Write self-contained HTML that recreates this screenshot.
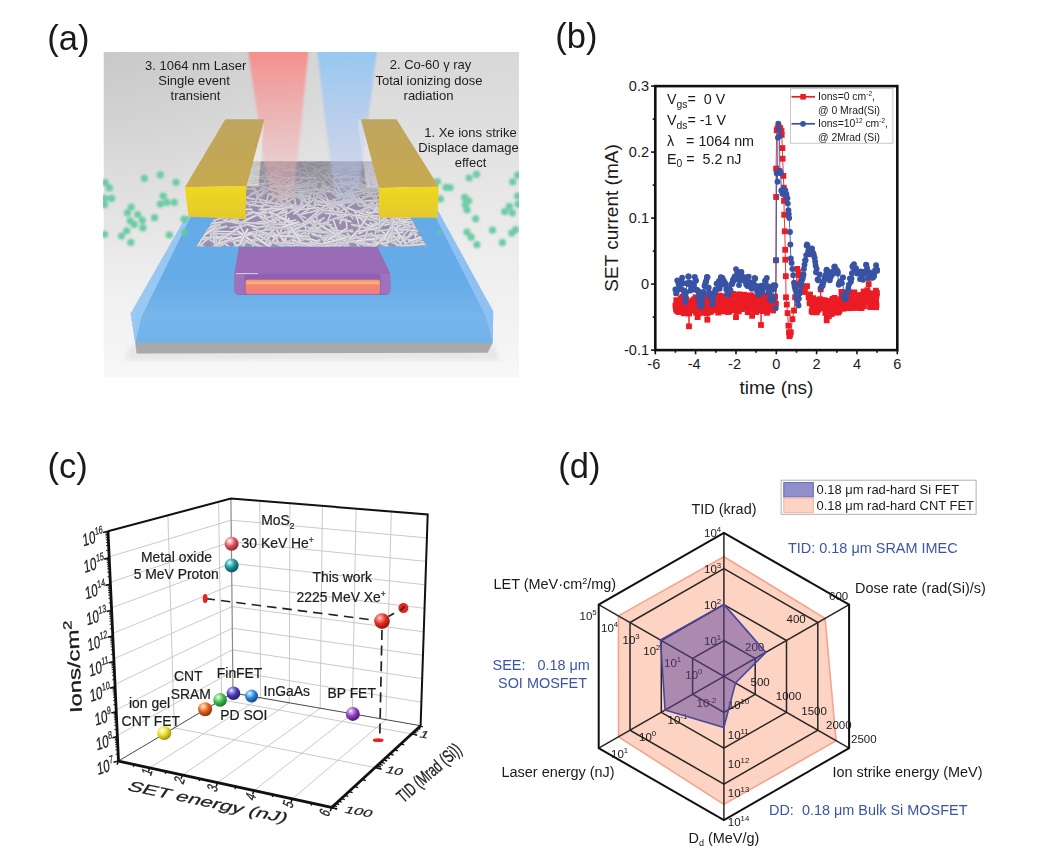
<!DOCTYPE html>
<html><head><meta charset="utf-8"><title>figure</title>
<style>
html,body{margin:0;padding:0;background:#fff;}
body{width:1062px;height:862px;overflow:hidden;font-family:"Liberation Sans",sans-serif;}
svg{display:block;}
text{font-family:"Liberation Sans",sans-serif;}
svg{fill:#1a1a1a;}
.bl text{fill:#3b55a6;}
</style></head><body>
<svg width="1062" height="862" viewBox="0 0 1062 862">
<rect width="1062" height="862" fill="#ffffff"/>
<g id="panela">
<defs>
<linearGradient id="abg" x1="0" y1="0" x2="0" y2="1">
<stop offset="0" stop-color="#d8d8d8"/><stop offset="0.2" stop-color="#dedede"/><stop offset="0.4" stop-color="#e6e6e6"/><stop offset="0.65" stop-color="#eeeeee"/><stop offset="1" stop-color="#f7f7f7"/>
</linearGradient>
<radialGradient id="abg2" gradientUnits="userSpaceOnUse" cx="103" cy="40" r="260">
<stop offset="0" stop-color="#000" stop-opacity="0.075"/><stop offset="0.5" stop-color="#000" stop-opacity="0.04"/><stop offset="1" stop-color="#000" stop-opacity="0"/>
</radialGradient>
<linearGradient id="ared" x1="0" y1="0" x2="0" y2="1">
<stop offset="0" stop-color="#f98686" stop-opacity="0.92"/><stop offset="0.3" stop-color="#f89696" stop-opacity="0.7"/><stop offset="0.6" stop-color="#f8a8a8" stop-opacity="0.5"/><stop offset="0.8" stop-color="#f6b4b4" stop-opacity="0.4"/><stop offset="1" stop-color="#f0b0b0" stop-opacity="0.15"/>
</linearGradient>
<linearGradient id="ablue" x1="0" y1="0" x2="0" y2="1">
<stop offset="0" stop-color="#93c6f2" stop-opacity="0.95"/><stop offset="0.3" stop-color="#a2c8f2" stop-opacity="0.8"/><stop offset="0.6" stop-color="#b0c8f2" stop-opacity="0.6"/><stop offset="0.8" stop-color="#b8c8f0" stop-opacity="0.45"/><stop offset="1" stop-color="#b8c4ee" stop-opacity="0.15"/>
</linearGradient>
<linearGradient id="agoldtop" x1="0" y1="0" x2="0" y2="1">
<stop offset="0" stop-color="#bea560"/><stop offset="1" stop-color="#c8a94e"/>
</linearGradient>
<linearGradient id="agoldfront" x1="0" y1="0" x2="0" y2="1">
<stop offset="0" stop-color="#efd820"/><stop offset="1" stop-color="#e4c92e"/>
</linearGradient>
<linearGradient id="asub" x1="0" y1="0" x2="0" y2="1">
<stop offset="0" stop-color="#64aae8"/><stop offset="0.55" stop-color="#66ace8"/><stop offset="0.8" stop-color="#76b5ea"/><stop offset="1" stop-color="#72b2e8"/>
</linearGradient>
<linearGradient id="afront" x1="0" y1="0" x2="0" y2="1"><stop offset="0" stop-color="#74b8ee" stop-opacity="0"/><stop offset="0.45" stop-color="#74b8ee" stop-opacity="0.15"/><stop offset="1" stop-color="#6ab0ea" stop-opacity="0.1"/></linearGradient>
<linearGradient id="agate" x1="0" y1="0" x2="0" y2="1">
<stop offset="0" stop-color="#9c6fb8"/><stop offset="0.55" stop-color="#9868b6"/><stop offset="0.6" stop-color="#9060b0"/><stop offset="1" stop-color="#8e5cb0"/>
</linearGradient>
<linearGradient id="abar" x1="0" y1="0" x2="0" y2="1">
<stop offset="0" stop-color="#f9a070"/><stop offset="0.3" stop-color="#f58a60"/><stop offset="1" stop-color="#f27a8c"/>
</linearGradient>
<linearGradient id="ahaze" x1="0" y1="0" x2="0" y2="1"><stop offset="0" stop-color="#8c8c92" stop-opacity="0.9"/><stop offset="0.5" stop-color="#939398" stop-opacity="0.5"/><stop offset="1" stop-color="#9c9aa2" stop-opacity="0"/></linearGradient>
<radialGradient id="adot" cx="0.45" cy="0.4" r="0.6">
<stop offset="0" stop-color="#58c49a"/><stop offset="0.5" stop-color="#6dcca6"/><stop offset="1" stop-color="#bfe9d9" stop-opacity="0.6"/>
</radialGradient>
<filter id="ablur" x="-5%" y="-5%" width="110%" height="110%"><feGaussianBlur stdDeviation="0.55"/></filter>
<filter id="ablur2" x="-10%" y="-10%" width="120%" height="120%"><feGaussianBlur stdDeviation="2.2"/></filter>
<filter id="ablur3" x="-10%" y="-5%" width="120%" height="110%"><feGaussianBlur stdDeviation="1.3"/></filter>
<filter id="ablur4" x="-5%" y="-10%" width="110%" height="120%"><feGaussianBlur stdDeviation="0.9"/></filter>
<clipPath id="aclip"><rect x="103.5" y="52" width="415.5" height="325.5"/></clipPath>
<clipPath id="afilm"><polygon points="251,161.4 379,161.4 426.5,246.3 196.5,246.3"/></clipPath>
</defs>
<g clip-path="url(#aclip)">
<rect x="103.5" y="52" width="415.5" height="325.5" fill="url(#abg)"/>
<rect x="103.5" y="52" width="415.5" height="325.5" fill="url(#abg2)"/>
<g filter="url(#ablur)">
<polygon points="130,345 494,345 500,360 125,360" fill="#ccc" opacity="0.35" filter="url(#ablur2)"/>
<polygon points="186.5,216.0 438.0,211.0 493.2,311.5 492.7,343.0 135.3,343.0 130.6,313.7" fill="url(#asub)"/>
<polygon points="186.5,216.0 130.6,313.7 135.3,343.0 141.5,317.0 191.0,216.0" fill="#a5cff4" opacity="0.8"/>
<polygon points="438.0,211.0 493.2,311.5 492.7,343.0 486.0,317.0 432.5,211.0" fill="#98c6f2" opacity="0.8"/>
<polygon points="135.3,300.0 492.7,300.0 492.7,343.0 135.3,343.0" fill="url(#afront)"/>
<polygon points="135.3,343.0 492.7,343.0 487.6,352.8 136.5,353.6" fill="#a9a9a9"/>
<path d="M239,247 L377.5,247 L389.5,272 Q390.5,274 390.5,277 L390.5,290 Q390.5,294.8 385.5,294.8 L239,294.8 Q234,294.8 234,290 L234,277 Q234,274 234.6,272 Z" fill="url(#agate)"/>
<path d="M239,247 L377.5,247 L389,272.5 L235,272.5 Z" fill="#9a6cb6"/>
<path d="M236,273.6 L258,273.6" stroke="#e8d8f4" stroke-width="1" opacity="0.9"/><rect x="234" y="274" width="10.5" height="20" fill="#b08ccc" opacity="0.45"/><rect x="380.5" y="274" width="10" height="20" fill="#b08ccc" opacity="0.45"/>
<rect x="245.5" y="279.8" width="134.5" height="14.2" rx="2" fill="url(#abar)"/>
<rect x="246.5" y="281.8" width="132.5" height="2.4" fill="#fbb890" opacity="0.8"/>
<g clip-path="url(#afilm)">
<rect x="190" y="158" width="245" height="92" fill="#9a8cae"/>
<line x1="317.4" y1="175.3" x2="325.4" y2="184.5" stroke="#b6b4c0" stroke-width="1.38" stroke-linecap="round"/>
<line x1="317.4" y1="175.1" x2="325.4" y2="184.4" stroke="#e0dfe5" stroke-width="0.85" stroke-linecap="round"/>
<line x1="394.4" y1="206.8" x2="397.1" y2="220.6" stroke="#b6b4c0" stroke-width="1.61" stroke-linecap="round"/>
<line x1="394.4" y1="206.6" x2="397.1" y2="220.4" stroke="#e7e6eb" stroke-width="1.00" stroke-linecap="round"/>
<line x1="375.6" y1="194.6" x2="377.5" y2="207.9" stroke="#b6b4c0" stroke-width="1.40" stroke-linecap="round"/>
<line x1="375.6" y1="194.5" x2="377.5" y2="207.7" stroke="#e7e6eb" stroke-width="0.87" stroke-linecap="round"/>
<line x1="378.1" y1="169.9" x2="381.1" y2="174.0" stroke="#b6b4c0" stroke-width="1.31" stroke-linecap="round"/>
<line x1="378.1" y1="169.7" x2="381.1" y2="173.8" stroke="#e0dfe5" stroke-width="0.82" stroke-linecap="round"/>
<line x1="327.5" y1="224.5" x2="337.0" y2="231.0" stroke="#b6b4c0" stroke-width="2.46" stroke-linecap="round"/>
<line x1="327.5" y1="224.2" x2="337.0" y2="230.8" stroke="#d9d8de" stroke-width="1.52" stroke-linecap="round"/>
<line x1="391.8" y1="204.9" x2="403.4" y2="220.6" stroke="#b6b4c0" stroke-width="1.79" stroke-linecap="round"/>
<line x1="391.8" y1="204.7" x2="403.4" y2="220.3" stroke="#e7e6eb" stroke-width="1.11" stroke-linecap="round"/>
<line x1="320.2" y1="229.6" x2="279.2" y2="233.8" stroke="#b6b4c0" stroke-width="1.77" stroke-linecap="round"/>
<line x1="320.2" y1="229.4" x2="279.2" y2="233.6" stroke="#e0dfe5" stroke-width="1.10" stroke-linecap="round"/>
<line x1="275.0" y1="197.0" x2="259.3" y2="210.0" stroke="#b6b4c0" stroke-width="1.97" stroke-linecap="round"/>
<line x1="275.0" y1="196.8" x2="259.3" y2="209.8" stroke="#d9d8de" stroke-width="1.22" stroke-linecap="round"/>
<line x1="285.4" y1="198.8" x2="297.2" y2="210.5" stroke="#b6b4c0" stroke-width="1.78" stroke-linecap="round"/>
<line x1="285.4" y1="198.6" x2="297.2" y2="210.3" stroke="#d9d8de" stroke-width="1.11" stroke-linecap="round"/>
<line x1="421.8" y1="216.2" x2="384.6" y2="225.2" stroke="#b6b4c0" stroke-width="2.14" stroke-linecap="round"/>
<line x1="421.8" y1="216.0" x2="384.6" y2="225.0" stroke="#e0dfe5" stroke-width="1.33" stroke-linecap="round"/>
<line x1="277.5" y1="214.7" x2="273.5" y2="229.8" stroke="#b6b4c0" stroke-width="1.65" stroke-linecap="round"/>
<line x1="277.5" y1="214.6" x2="273.5" y2="229.6" stroke="#e7e6eb" stroke-width="1.02" stroke-linecap="round"/>
<line x1="368.8" y1="174.0" x2="365.5" y2="180.8" stroke="#b6b4c0" stroke-width="1.01" stroke-linecap="round"/>
<line x1="368.8" y1="173.9" x2="365.5" y2="180.7" stroke="#e7e6eb" stroke-width="0.63" stroke-linecap="round"/>
<line x1="223.3" y1="244.4" x2="197.6" y2="253.7" stroke="#b6b4c0" stroke-width="2.07" stroke-linecap="round"/>
<line x1="223.3" y1="244.2" x2="197.6" y2="253.5" stroke="#d9d8de" stroke-width="1.29" stroke-linecap="round"/>
<line x1="286.5" y1="195.0" x2="309.5" y2="199.6" stroke="#b6b4c0" stroke-width="1.78" stroke-linecap="round"/>
<line x1="286.5" y1="194.8" x2="309.5" y2="199.3" stroke="#d9d8de" stroke-width="1.11" stroke-linecap="round"/>
<line x1="295.7" y1="220.2" x2="256.4" y2="228.0" stroke="#b6b4c0" stroke-width="2.05" stroke-linecap="round"/>
<line x1="295.7" y1="220.0" x2="256.4" y2="227.7" stroke="#e0dfe5" stroke-width="1.27" stroke-linecap="round"/>
<line x1="243.7" y1="183.9" x2="240.3" y2="189.1" stroke="#b6b4c0" stroke-width="1.22" stroke-linecap="round"/>
<line x1="243.7" y1="183.8" x2="240.3" y2="188.9" stroke="#d9d8de" stroke-width="0.76" stroke-linecap="round"/>
<line x1="282.3" y1="178.9" x2="266.2" y2="190.7" stroke="#b6b4c0" stroke-width="1.28" stroke-linecap="round"/>
<line x1="282.3" y1="178.8" x2="266.2" y2="190.6" stroke="#d9d8de" stroke-width="0.80" stroke-linecap="round"/>
<line x1="401.3" y1="238.6" x2="413.5" y2="253.8" stroke="#b6b4c0" stroke-width="2.44" stroke-linecap="round"/>
<line x1="401.3" y1="238.3" x2="413.5" y2="253.5" stroke="#e7e6eb" stroke-width="1.51" stroke-linecap="round"/>
<line x1="331.6" y1="234.0" x2="375.9" y2="241.4" stroke="#b6b4c0" stroke-width="2.60" stroke-linecap="round"/>
<line x1="331.6" y1="233.7" x2="375.9" y2="241.1" stroke="#d9d8de" stroke-width="1.61" stroke-linecap="round"/>
<line x1="347.3" y1="194.6" x2="360.6" y2="200.8" stroke="#b6b4c0" stroke-width="1.95" stroke-linecap="round"/>
<line x1="347.3" y1="194.3" x2="360.6" y2="200.5" stroke="#e7e6eb" stroke-width="1.21" stroke-linecap="round"/>
<line x1="298.1" y1="181.4" x2="275.3" y2="190.4" stroke="#b6b4c0" stroke-width="1.28" stroke-linecap="round"/>
<line x1="298.1" y1="181.2" x2="275.3" y2="190.2" stroke="#d9d8de" stroke-width="0.80" stroke-linecap="round"/>
<line x1="325.1" y1="213.3" x2="354.4" y2="216.1" stroke="#b6b4c0" stroke-width="1.86" stroke-linecap="round"/>
<line x1="325.1" y1="213.0" x2="354.4" y2="215.8" stroke="#e7e6eb" stroke-width="1.15" stroke-linecap="round"/>
<line x1="327.0" y1="236.1" x2="348.0" y2="248.7" stroke="#b6b4c0" stroke-width="2.45" stroke-linecap="round"/>
<line x1="327.0" y1="235.8" x2="348.0" y2="248.4" stroke="#e7e6eb" stroke-width="1.52" stroke-linecap="round"/>
<line x1="298.9" y1="157.4" x2="294.5" y2="162.5" stroke="#b6b4c0" stroke-width="1.04" stroke-linecap="round"/>
<line x1="298.9" y1="157.2" x2="294.5" y2="162.4" stroke="#e0dfe5" stroke-width="0.64" stroke-linecap="round"/>
<line x1="276.2" y1="186.2" x2="285.4" y2="196.8" stroke="#b6b4c0" stroke-width="1.36" stroke-linecap="round"/>
<line x1="276.2" y1="186.0" x2="285.4" y2="196.6" stroke="#d9d8de" stroke-width="0.84" stroke-linecap="round"/>
<line x1="370.0" y1="167.2" x2="351.9" y2="168.1" stroke="#b6b4c0" stroke-width="0.91" stroke-linecap="round"/>
<line x1="370.0" y1="167.1" x2="351.9" y2="167.9" stroke="#e7e6eb" stroke-width="0.57" stroke-linecap="round"/>
<line x1="358.5" y1="176.3" x2="367.6" y2="180.6" stroke="#b6b4c0" stroke-width="1.24" stroke-linecap="round"/>
<line x1="358.5" y1="176.2" x2="367.6" y2="180.5" stroke="#e7e6eb" stroke-width="0.77" stroke-linecap="round"/>
<line x1="338.3" y1="166.2" x2="320.7" y2="167.6" stroke="#b6b4c0" stroke-width="0.95" stroke-linecap="round"/>
<line x1="338.3" y1="166.1" x2="320.7" y2="167.5" stroke="#e0dfe5" stroke-width="0.59" stroke-linecap="round"/>
<line x1="343.7" y1="162.8" x2="356.0" y2="167.9" stroke="#b6b4c0" stroke-width="0.95" stroke-linecap="round"/>
<line x1="343.7" y1="162.7" x2="356.0" y2="167.8" stroke="#e0dfe5" stroke-width="0.59" stroke-linecap="round"/>
<line x1="374.0" y1="157.3" x2="384.1" y2="165.0" stroke="#b6b4c0" stroke-width="1.02" stroke-linecap="round"/>
<line x1="374.0" y1="157.1" x2="384.1" y2="164.9" stroke="#d9d8de" stroke-width="0.63" stroke-linecap="round"/>
<line x1="359.7" y1="187.8" x2="381.8" y2="190.8" stroke="#b6b4c0" stroke-width="1.52" stroke-linecap="round"/>
<line x1="359.7" y1="187.6" x2="381.8" y2="190.6" stroke="#d9d8de" stroke-width="0.94" stroke-linecap="round"/>
<line x1="358.0" y1="181.7" x2="368.9" y2="188.0" stroke="#b6b4c0" stroke-width="1.33" stroke-linecap="round"/>
<line x1="358.0" y1="181.6" x2="368.9" y2="187.8" stroke="#d9d8de" stroke-width="0.83" stroke-linecap="round"/>
<line x1="218.3" y1="205.9" x2="223.2" y2="214.6" stroke="#b6b4c0" stroke-width="1.79" stroke-linecap="round"/>
<line x1="218.3" y1="205.7" x2="223.2" y2="214.4" stroke="#e7e6eb" stroke-width="1.11" stroke-linecap="round"/>
<line x1="319.5" y1="246.9" x2="271.1" y2="250.7" stroke="#b6b4c0" stroke-width="2.15" stroke-linecap="round"/>
<line x1="319.5" y1="246.6" x2="271.1" y2="250.4" stroke="#e7e6eb" stroke-width="1.33" stroke-linecap="round"/>
<line x1="372.4" y1="194.1" x2="348.9" y2="206.0" stroke="#b6b4c0" stroke-width="1.67" stroke-linecap="round"/>
<line x1="372.4" y1="193.9" x2="348.9" y2="205.8" stroke="#e0dfe5" stroke-width="1.04" stroke-linecap="round"/>
<line x1="404.6" y1="236.8" x2="384.5" y2="237.7" stroke="#b6b4c0" stroke-width="2.00" stroke-linecap="round"/>
<line x1="404.6" y1="236.6" x2="384.5" y2="237.5" stroke="#e0dfe5" stroke-width="1.24" stroke-linecap="round"/>
<line x1="379.5" y1="238.4" x2="335.3" y2="243.8" stroke="#b6b4c0" stroke-width="2.75" stroke-linecap="round"/>
<line x1="379.5" y1="238.1" x2="335.3" y2="243.5" stroke="#e7e6eb" stroke-width="1.71" stroke-linecap="round"/>
<line x1="305.6" y1="161.2" x2="318.9" y2="163.9" stroke="#b6b4c0" stroke-width="0.89" stroke-linecap="round"/>
<line x1="305.6" y1="161.1" x2="318.9" y2="163.8" stroke="#e0dfe5" stroke-width="0.55" stroke-linecap="round"/>
<line x1="309.8" y1="205.0" x2="283.0" y2="207.6" stroke="#b6b4c0" stroke-width="1.62" stroke-linecap="round"/>
<line x1="309.8" y1="204.8" x2="283.0" y2="207.4" stroke="#d9d8de" stroke-width="1.00" stroke-linecap="round"/>
<line x1="329.6" y1="244.7" x2="313.2" y2="250.2" stroke="#b6b4c0" stroke-width="2.13" stroke-linecap="round"/>
<line x1="329.6" y1="244.4" x2="313.2" y2="249.9" stroke="#e0dfe5" stroke-width="1.32" stroke-linecap="round"/>
<line x1="361.2" y1="203.1" x2="388.5" y2="211.3" stroke="#b6b4c0" stroke-width="2.10" stroke-linecap="round"/>
<line x1="361.2" y1="202.9" x2="388.5" y2="211.0" stroke="#e0dfe5" stroke-width="1.30" stroke-linecap="round"/>
<line x1="208.6" y1="224.1" x2="192.0" y2="243.4" stroke="#b6b4c0" stroke-width="1.76" stroke-linecap="round"/>
<line x1="208.6" y1="223.9" x2="192.0" y2="243.2" stroke="#d9d8de" stroke-width="1.09" stroke-linecap="round"/>
<line x1="333.8" y1="178.2" x2="333.2" y2="183.5" stroke="#b6b4c0" stroke-width="1.21" stroke-linecap="round"/>
<line x1="333.8" y1="178.1" x2="333.2" y2="183.3" stroke="#e0dfe5" stroke-width="0.75" stroke-linecap="round"/>
<line x1="366.5" y1="236.2" x2="384.2" y2="237.5" stroke="#b6b4c0" stroke-width="2.24" stroke-linecap="round"/>
<line x1="366.5" y1="235.9" x2="384.2" y2="237.2" stroke="#e0dfe5" stroke-width="1.39" stroke-linecap="round"/>
<line x1="216.7" y1="230.1" x2="216.5" y2="243.1" stroke="#b6b4c0" stroke-width="2.07" stroke-linecap="round"/>
<line x1="216.7" y1="229.8" x2="216.5" y2="242.9" stroke="#d9d8de" stroke-width="1.28" stroke-linecap="round"/>
<line x1="289.2" y1="190.1" x2="298.8" y2="196.9" stroke="#b6b4c0" stroke-width="1.87" stroke-linecap="round"/>
<line x1="289.2" y1="189.9" x2="298.8" y2="196.7" stroke="#d9d8de" stroke-width="1.16" stroke-linecap="round"/>
<line x1="327.4" y1="166.7" x2="318.6" y2="172.1" stroke="#b6b4c0" stroke-width="0.91" stroke-linecap="round"/>
<line x1="327.4" y1="166.6" x2="318.6" y2="172.0" stroke="#e0dfe5" stroke-width="0.56" stroke-linecap="round"/>
<line x1="312.8" y1="158.7" x2="306.1" y2="165.2" stroke="#b6b4c0" stroke-width="1.06" stroke-linecap="round"/>
<line x1="312.8" y1="158.6" x2="306.1" y2="165.1" stroke="#e0dfe5" stroke-width="0.66" stroke-linecap="round"/>
<line x1="293.6" y1="209.2" x2="304.0" y2="221.4" stroke="#b6b4c0" stroke-width="2.07" stroke-linecap="round"/>
<line x1="293.6" y1="208.9" x2="304.0" y2="221.2" stroke="#d9d8de" stroke-width="1.28" stroke-linecap="round"/>
<line x1="279.6" y1="245.1" x2="304.2" y2="245.8" stroke="#b6b4c0" stroke-width="2.15" stroke-linecap="round"/>
<line x1="279.6" y1="244.8" x2="304.2" y2="245.5" stroke="#e7e6eb" stroke-width="1.33" stroke-linecap="round"/>
<line x1="301.7" y1="159.7" x2="306.4" y2="169.5" stroke="#b6b4c0" stroke-width="1.25" stroke-linecap="round"/>
<line x1="301.7" y1="159.5" x2="306.4" y2="169.3" stroke="#d9d8de" stroke-width="0.78" stroke-linecap="round"/>
<line x1="335.8" y1="245.0" x2="315.8" y2="249.3" stroke="#b6b4c0" stroke-width="2.64" stroke-linecap="round"/>
<line x1="335.8" y1="244.7" x2="315.8" y2="249.0" stroke="#e7e6eb" stroke-width="1.64" stroke-linecap="round"/>
<line x1="406.3" y1="214.1" x2="380.9" y2="223.8" stroke="#b6b4c0" stroke-width="2.17" stroke-linecap="round"/>
<line x1="406.3" y1="213.8" x2="380.9" y2="223.5" stroke="#e7e6eb" stroke-width="1.34" stroke-linecap="round"/>
<line x1="381.4" y1="202.3" x2="366.2" y2="211.6" stroke="#b6b4c0" stroke-width="1.55" stroke-linecap="round"/>
<line x1="381.4" y1="202.1" x2="366.2" y2="211.4" stroke="#d9d8de" stroke-width="0.96" stroke-linecap="round"/>
<line x1="248.3" y1="160.6" x2="266.7" y2="163.6" stroke="#b6b4c0" stroke-width="0.86" stroke-linecap="round"/>
<line x1="248.3" y1="160.5" x2="266.7" y2="163.5" stroke="#e0dfe5" stroke-width="0.53" stroke-linecap="round"/>
<line x1="368.6" y1="189.2" x2="381.5" y2="189.7" stroke="#b6b4c0" stroke-width="1.45" stroke-linecap="round"/>
<line x1="368.6" y1="189.0" x2="381.5" y2="189.5" stroke="#e7e6eb" stroke-width="0.90" stroke-linecap="round"/>
<line x1="338.1" y1="242.9" x2="323.1" y2="248.4" stroke="#b6b4c0" stroke-width="2.70" stroke-linecap="round"/>
<line x1="338.1" y1="242.5" x2="323.1" y2="248.1" stroke="#e7e6eb" stroke-width="1.67" stroke-linecap="round"/>
<line x1="263.6" y1="202.9" x2="261.0" y2="210.4" stroke="#b6b4c0" stroke-width="1.79" stroke-linecap="round"/>
<line x1="263.6" y1="202.7" x2="261.0" y2="210.2" stroke="#e7e6eb" stroke-width="1.11" stroke-linecap="round"/>
<line x1="331.4" y1="185.9" x2="318.4" y2="189.8" stroke="#b6b4c0" stroke-width="1.23" stroke-linecap="round"/>
<line x1="331.4" y1="185.7" x2="318.4" y2="189.6" stroke="#e0dfe5" stroke-width="0.76" stroke-linecap="round"/>
<line x1="359.3" y1="199.0" x2="342.0" y2="200.6" stroke="#b6b4c0" stroke-width="1.71" stroke-linecap="round"/>
<line x1="359.3" y1="198.8" x2="342.0" y2="200.4" stroke="#d9d8de" stroke-width="1.06" stroke-linecap="round"/>
<line x1="401.5" y1="204.9" x2="408.7" y2="213.6" stroke="#b6b4c0" stroke-width="2.14" stroke-linecap="round"/>
<line x1="401.5" y1="204.6" x2="408.7" y2="213.3" stroke="#e7e6eb" stroke-width="1.33" stroke-linecap="round"/>
<line x1="294.8" y1="238.0" x2="287.0" y2="256.0" stroke="#b6b4c0" stroke-width="2.90" stroke-linecap="round"/>
<line x1="294.8" y1="237.6" x2="287.0" y2="255.6" stroke="#e7e6eb" stroke-width="1.80" stroke-linecap="round"/>
<line x1="347.8" y1="201.3" x2="332.9" y2="203.7" stroke="#b6b4c0" stroke-width="1.37" stroke-linecap="round"/>
<line x1="347.8" y1="201.1" x2="332.9" y2="203.6" stroke="#e7e6eb" stroke-width="0.85" stroke-linecap="round"/>
<line x1="363.6" y1="201.5" x2="338.2" y2="203.5" stroke="#b6b4c0" stroke-width="1.95" stroke-linecap="round"/>
<line x1="363.6" y1="201.3" x2="338.2" y2="203.2" stroke="#e0dfe5" stroke-width="1.21" stroke-linecap="round"/>
<line x1="266.4" y1="178.8" x2="262.3" y2="186.4" stroke="#b6b4c0" stroke-width="1.18" stroke-linecap="round"/>
<line x1="266.4" y1="178.7" x2="262.3" y2="186.2" stroke="#e7e6eb" stroke-width="0.73" stroke-linecap="round"/>
<line x1="376.3" y1="200.3" x2="359.1" y2="214.7" stroke="#b6b4c0" stroke-width="1.84" stroke-linecap="round"/>
<line x1="376.3" y1="200.1" x2="359.1" y2="214.5" stroke="#e7e6eb" stroke-width="1.14" stroke-linecap="round"/>
<line x1="260.8" y1="209.6" x2="271.7" y2="214.0" stroke="#b6b4c0" stroke-width="1.82" stroke-linecap="round"/>
<line x1="260.8" y1="209.4" x2="271.7" y2="213.8" stroke="#d9d8de" stroke-width="1.13" stroke-linecap="round"/>
<line x1="319.1" y1="173.5" x2="331.7" y2="179.4" stroke="#b6b4c0" stroke-width="1.45" stroke-linecap="round"/>
<line x1="319.1" y1="173.3" x2="331.7" y2="179.2" stroke="#d9d8de" stroke-width="0.90" stroke-linecap="round"/>
<line x1="311.5" y1="241.2" x2="301.2" y2="257.2" stroke="#b6b4c0" stroke-width="2.84" stroke-linecap="round"/>
<line x1="311.5" y1="240.8" x2="301.2" y2="256.9" stroke="#e7e6eb" stroke-width="1.76" stroke-linecap="round"/>
<line x1="320.2" y1="202.7" x2="298.5" y2="215.8" stroke="#b6b4c0" stroke-width="1.71" stroke-linecap="round"/>
<line x1="320.2" y1="202.5" x2="298.5" y2="215.6" stroke="#e7e6eb" stroke-width="1.06" stroke-linecap="round"/>
<line x1="227.3" y1="236.0" x2="184.4" y2="242.2" stroke="#b6b4c0" stroke-width="2.45" stroke-linecap="round"/>
<line x1="227.3" y1="235.8" x2="184.4" y2="241.9" stroke="#e7e6eb" stroke-width="1.52" stroke-linecap="round"/>
<line x1="267.3" y1="160.8" x2="281.3" y2="168.0" stroke="#b6b4c0" stroke-width="1.17" stroke-linecap="round"/>
<line x1="267.3" y1="160.6" x2="281.3" y2="167.8" stroke="#e0dfe5" stroke-width="0.73" stroke-linecap="round"/>
<line x1="357.3" y1="172.7" x2="335.7" y2="177.8" stroke="#b6b4c0" stroke-width="1.09" stroke-linecap="round"/>
<line x1="357.3" y1="172.5" x2="335.7" y2="177.7" stroke="#e0dfe5" stroke-width="0.67" stroke-linecap="round"/>
<line x1="304.8" y1="184.6" x2="296.9" y2="189.1" stroke="#b6b4c0" stroke-width="1.16" stroke-linecap="round"/>
<line x1="304.8" y1="184.4" x2="296.9" y2="188.9" stroke="#d9d8de" stroke-width="0.72" stroke-linecap="round"/>
<line x1="312.3" y1="159.1" x2="304.4" y2="163.5" stroke="#b6b4c0" stroke-width="0.78" stroke-linecap="round"/>
<line x1="312.3" y1="159.1" x2="304.4" y2="163.4" stroke="#d9d8de" stroke-width="0.48" stroke-linecap="round"/>
<line x1="301.2" y1="194.4" x2="320.6" y2="201.9" stroke="#b6b4c0" stroke-width="1.94" stroke-linecap="round"/>
<line x1="301.2" y1="194.1" x2="320.6" y2="201.7" stroke="#d9d8de" stroke-width="1.20" stroke-linecap="round"/>
<line x1="291.9" y1="168.7" x2="283.2" y2="170.4" stroke="#b6b4c0" stroke-width="1.09" stroke-linecap="round"/>
<line x1="291.9" y1="168.6" x2="283.2" y2="170.2" stroke="#d9d8de" stroke-width="0.68" stroke-linecap="round"/>
<line x1="385.3" y1="236.1" x2="429.5" y2="243.1" stroke="#b6b4c0" stroke-width="2.17" stroke-linecap="round"/>
<line x1="385.3" y1="235.9" x2="429.5" y2="242.8" stroke="#d9d8de" stroke-width="1.35" stroke-linecap="round"/>
<line x1="276.3" y1="220.4" x2="258.4" y2="234.9" stroke="#b6b4c0" stroke-width="2.40" stroke-linecap="round"/>
<line x1="276.3" y1="220.1" x2="258.4" y2="234.6" stroke="#d9d8de" stroke-width="1.49" stroke-linecap="round"/>
<line x1="376.4" y1="164.3" x2="384.4" y2="171.5" stroke="#b6b4c0" stroke-width="1.11" stroke-linecap="round"/>
<line x1="376.4" y1="164.1" x2="384.4" y2="171.3" stroke="#e7e6eb" stroke-width="0.69" stroke-linecap="round"/>
<line x1="294.0" y1="198.0" x2="276.2" y2="208.9" stroke="#b6b4c0" stroke-width="1.75" stroke-linecap="round"/>
<line x1="294.0" y1="197.8" x2="276.2" y2="208.7" stroke="#e0dfe5" stroke-width="1.08" stroke-linecap="round"/>
<line x1="349.8" y1="214.7" x2="371.0" y2="220.1" stroke="#b6b4c0" stroke-width="2.30" stroke-linecap="round"/>
<line x1="349.8" y1="214.4" x2="371.0" y2="219.8" stroke="#d9d8de" stroke-width="1.43" stroke-linecap="round"/>
<line x1="373.3" y1="167.9" x2="385.2" y2="170.8" stroke="#b6b4c0" stroke-width="1.24" stroke-linecap="round"/>
<line x1="373.3" y1="167.8" x2="385.2" y2="170.6" stroke="#e7e6eb" stroke-width="0.77" stroke-linecap="round"/>
<line x1="268.1" y1="193.6" x2="286.3" y2="199.7" stroke="#b6b4c0" stroke-width="1.79" stroke-linecap="round"/>
<line x1="268.1" y1="193.4" x2="286.3" y2="199.5" stroke="#e7e6eb" stroke-width="1.11" stroke-linecap="round"/>
<line x1="351.3" y1="161.7" x2="340.4" y2="167.0" stroke="#b6b4c0" stroke-width="1.15" stroke-linecap="round"/>
<line x1="351.3" y1="161.5" x2="340.4" y2="166.8" stroke="#d9d8de" stroke-width="0.71" stroke-linecap="round"/>
<line x1="276.2" y1="166.8" x2="286.0" y2="167.6" stroke="#b6b4c0" stroke-width="1.08" stroke-linecap="round"/>
<line x1="276.2" y1="166.6" x2="286.0" y2="167.5" stroke="#d9d8de" stroke-width="0.67" stroke-linecap="round"/>
<line x1="354.7" y1="177.3" x2="361.5" y2="184.2" stroke="#b6b4c0" stroke-width="1.26" stroke-linecap="round"/>
<line x1="354.7" y1="177.1" x2="361.5" y2="184.1" stroke="#e7e6eb" stroke-width="0.78" stroke-linecap="round"/>
<line x1="214.9" y1="221.1" x2="215.2" y2="243.8" stroke="#b6b4c0" stroke-width="1.84" stroke-linecap="round"/>
<line x1="214.9" y1="220.8" x2="215.2" y2="243.6" stroke="#e7e6eb" stroke-width="1.14" stroke-linecap="round"/>
<line x1="265.0" y1="164.2" x2="250.7" y2="170.2" stroke="#b6b4c0" stroke-width="0.93" stroke-linecap="round"/>
<line x1="265.0" y1="164.1" x2="250.7" y2="170.0" stroke="#e0dfe5" stroke-width="0.58" stroke-linecap="round"/>
<line x1="340.5" y1="201.4" x2="353.0" y2="219.0" stroke="#b6b4c0" stroke-width="1.50" stroke-linecap="round"/>
<line x1="340.5" y1="201.2" x2="353.0" y2="218.8" stroke="#e7e6eb" stroke-width="0.93" stroke-linecap="round"/>
<line x1="292.3" y1="169.1" x2="306.0" y2="173.9" stroke="#b6b4c0" stroke-width="1.20" stroke-linecap="round"/>
<line x1="292.3" y1="168.9" x2="306.0" y2="173.7" stroke="#e0dfe5" stroke-width="0.74" stroke-linecap="round"/>
<line x1="268.7" y1="229.4" x2="294.6" y2="246.4" stroke="#b6b4c0" stroke-width="2.22" stroke-linecap="round"/>
<line x1="268.7" y1="229.1" x2="294.6" y2="246.1" stroke="#d9d8de" stroke-width="1.38" stroke-linecap="round"/>
<line x1="286.4" y1="236.3" x2="280.4" y2="254.4" stroke="#b6b4c0" stroke-width="2.55" stroke-linecap="round"/>
<line x1="286.4" y1="236.0" x2="280.4" y2="254.0" stroke="#e7e6eb" stroke-width="1.58" stroke-linecap="round"/>
<line x1="282.6" y1="218.2" x2="257.5" y2="224.1" stroke="#b6b4c0" stroke-width="2.09" stroke-linecap="round"/>
<line x1="282.6" y1="218.0" x2="257.5" y2="223.9" stroke="#e7e6eb" stroke-width="1.29" stroke-linecap="round"/>
<line x1="239.1" y1="212.9" x2="224.7" y2="219.8" stroke="#b6b4c0" stroke-width="1.63" stroke-linecap="round"/>
<line x1="239.1" y1="212.7" x2="224.7" y2="219.6" stroke="#e7e6eb" stroke-width="1.01" stroke-linecap="round"/>
<line x1="256.7" y1="197.2" x2="255.5" y2="203.6" stroke="#b6b4c0" stroke-width="1.65" stroke-linecap="round"/>
<line x1="256.7" y1="197.0" x2="255.5" y2="203.4" stroke="#e7e6eb" stroke-width="1.02" stroke-linecap="round"/>
<line x1="205.9" y1="237.5" x2="230.4" y2="252.7" stroke="#b6b4c0" stroke-width="2.02" stroke-linecap="round"/>
<line x1="205.9" y1="237.3" x2="230.4" y2="252.4" stroke="#d9d8de" stroke-width="1.25" stroke-linecap="round"/>
<line x1="326.7" y1="229.9" x2="352.7" y2="231.9" stroke="#b6b4c0" stroke-width="1.90" stroke-linecap="round"/>
<line x1="326.7" y1="229.6" x2="352.7" y2="231.7" stroke="#e0dfe5" stroke-width="1.18" stroke-linecap="round"/>
<line x1="216.5" y1="199.5" x2="226.2" y2="208.3" stroke="#b6b4c0" stroke-width="1.58" stroke-linecap="round"/>
<line x1="216.5" y1="199.3" x2="226.2" y2="208.1" stroke="#e7e6eb" stroke-width="0.98" stroke-linecap="round"/>
<line x1="372.2" y1="165.0" x2="365.1" y2="175.8" stroke="#b6b4c0" stroke-width="1.25" stroke-linecap="round"/>
<line x1="372.2" y1="164.8" x2="365.1" y2="175.6" stroke="#e7e6eb" stroke-width="0.78" stroke-linecap="round"/>
<line x1="425.6" y1="246.4" x2="441.7" y2="252.5" stroke="#b6b4c0" stroke-width="2.13" stroke-linecap="round"/>
<line x1="425.6" y1="246.2" x2="441.7" y2="252.2" stroke="#e7e6eb" stroke-width="1.32" stroke-linecap="round"/>
<line x1="301.2" y1="226.2" x2="316.8" y2="229.0" stroke="#b6b4c0" stroke-width="1.70" stroke-linecap="round"/>
<line x1="301.2" y1="226.0" x2="316.8" y2="228.8" stroke="#e0dfe5" stroke-width="1.05" stroke-linecap="round"/>
<line x1="288.6" y1="218.8" x2="290.0" y2="227.1" stroke="#b6b4c0" stroke-width="2.35" stroke-linecap="round"/>
<line x1="288.6" y1="218.5" x2="290.0" y2="226.8" stroke="#e0dfe5" stroke-width="1.46" stroke-linecap="round"/>
<line x1="270.2" y1="209.3" x2="274.0" y2="226.2" stroke="#b6b4c0" stroke-width="1.85" stroke-linecap="round"/>
<line x1="270.2" y1="209.0" x2="274.0" y2="226.0" stroke="#e0dfe5" stroke-width="1.15" stroke-linecap="round"/>
<line x1="216.6" y1="194.3" x2="237.9" y2="205.5" stroke="#b6b4c0" stroke-width="1.60" stroke-linecap="round"/>
<line x1="216.6" y1="194.1" x2="237.9" y2="205.3" stroke="#d9d8de" stroke-width="0.99" stroke-linecap="round"/>
<line x1="247.8" y1="212.8" x2="266.6" y2="212.9" stroke="#b6b4c0" stroke-width="2.09" stroke-linecap="round"/>
<line x1="247.8" y1="212.6" x2="266.6" y2="212.7" stroke="#e0dfe5" stroke-width="1.30" stroke-linecap="round"/>
<line x1="312.2" y1="234.6" x2="327.2" y2="238.7" stroke="#b6b4c0" stroke-width="2.34" stroke-linecap="round"/>
<line x1="312.2" y1="234.4" x2="327.2" y2="238.5" stroke="#e7e6eb" stroke-width="1.45" stroke-linecap="round"/>
<line x1="236.1" y1="172.5" x2="246.9" y2="174.4" stroke="#b6b4c0" stroke-width="1.19" stroke-linecap="round"/>
<line x1="236.1" y1="172.4" x2="246.9" y2="174.3" stroke="#e0dfe5" stroke-width="0.74" stroke-linecap="round"/>
<line x1="285.1" y1="231.8" x2="294.5" y2="239.1" stroke="#b6b4c0" stroke-width="2.45" stroke-linecap="round"/>
<line x1="285.1" y1="231.5" x2="294.5" y2="238.8" stroke="#e0dfe5" stroke-width="1.52" stroke-linecap="round"/>
<line x1="279.1" y1="194.4" x2="310.8" y2="195.8" stroke="#b6b4c0" stroke-width="1.36" stroke-linecap="round"/>
<line x1="279.1" y1="194.3" x2="310.8" y2="195.6" stroke="#e0dfe5" stroke-width="0.84" stroke-linecap="round"/>
<line x1="254.9" y1="190.9" x2="261.7" y2="196.7" stroke="#b6b4c0" stroke-width="1.82" stroke-linecap="round"/>
<line x1="254.9" y1="190.6" x2="261.7" y2="196.5" stroke="#e7e6eb" stroke-width="1.13" stroke-linecap="round"/>
<line x1="341.3" y1="159.3" x2="353.1" y2="166.2" stroke="#b6b4c0" stroke-width="1.00" stroke-linecap="round"/>
<line x1="341.3" y1="159.2" x2="353.1" y2="166.1" stroke="#d9d8de" stroke-width="0.62" stroke-linecap="round"/>
<line x1="314.9" y1="202.5" x2="334.9" y2="203.4" stroke="#b6b4c0" stroke-width="2.07" stroke-linecap="round"/>
<line x1="314.9" y1="202.2" x2="334.9" y2="203.2" stroke="#d9d8de" stroke-width="1.28" stroke-linecap="round"/>
<line x1="349.7" y1="166.2" x2="333.2" y2="167.0" stroke="#b6b4c0" stroke-width="0.83" stroke-linecap="round"/>
<line x1="349.7" y1="166.1" x2="333.2" y2="166.9" stroke="#e0dfe5" stroke-width="0.52" stroke-linecap="round"/>
<line x1="211.2" y1="213.8" x2="210.9" y2="227.5" stroke="#b6b4c0" stroke-width="1.71" stroke-linecap="round"/>
<line x1="211.2" y1="213.6" x2="210.9" y2="227.3" stroke="#e7e6eb" stroke-width="1.06" stroke-linecap="round"/>
<line x1="257.3" y1="240.2" x2="225.3" y2="241.5" stroke="#b6b4c0" stroke-width="2.65" stroke-linecap="round"/>
<line x1="257.3" y1="239.9" x2="225.3" y2="241.2" stroke="#d9d8de" stroke-width="1.64" stroke-linecap="round"/>
<line x1="189.2" y1="236.9" x2="210.6" y2="252.1" stroke="#b6b4c0" stroke-width="2.87" stroke-linecap="round"/>
<line x1="189.2" y1="236.6" x2="210.6" y2="251.7" stroke="#e0dfe5" stroke-width="1.78" stroke-linecap="round"/>
<line x1="231.0" y1="237.0" x2="240.2" y2="253.3" stroke="#b6b4c0" stroke-width="2.45" stroke-linecap="round"/>
<line x1="231.0" y1="236.7" x2="240.2" y2="253.1" stroke="#e7e6eb" stroke-width="1.52" stroke-linecap="round"/>
<line x1="388.3" y1="216.1" x2="417.7" y2="225.1" stroke="#b6b4c0" stroke-width="2.20" stroke-linecap="round"/>
<line x1="388.3" y1="215.8" x2="417.7" y2="224.8" stroke="#e7e6eb" stroke-width="1.36" stroke-linecap="round"/>
<line x1="266.3" y1="188.2" x2="250.3" y2="193.9" stroke="#b6b4c0" stroke-width="1.45" stroke-linecap="round"/>
<line x1="266.3" y1="188.0" x2="250.3" y2="193.8" stroke="#e7e6eb" stroke-width="0.90" stroke-linecap="round"/>
<line x1="257.4" y1="198.6" x2="282.1" y2="205.9" stroke="#b6b4c0" stroke-width="1.76" stroke-linecap="round"/>
<line x1="257.4" y1="198.4" x2="282.1" y2="205.6" stroke="#e7e6eb" stroke-width="1.09" stroke-linecap="round"/>
<line x1="398.6" y1="221.5" x2="417.8" y2="222.8" stroke="#b6b4c0" stroke-width="2.24" stroke-linecap="round"/>
<line x1="398.6" y1="221.2" x2="417.8" y2="222.5" stroke="#d9d8de" stroke-width="1.39" stroke-linecap="round"/>
<line x1="345.8" y1="163.7" x2="339.8" y2="169.2" stroke="#b6b4c0" stroke-width="1.12" stroke-linecap="round"/>
<line x1="345.8" y1="163.6" x2="339.8" y2="169.1" stroke="#e7e6eb" stroke-width="0.70" stroke-linecap="round"/>
<line x1="324.0" y1="162.7" x2="337.7" y2="163.7" stroke="#b6b4c0" stroke-width="1.19" stroke-linecap="round"/>
<line x1="324.0" y1="162.5" x2="337.7" y2="163.6" stroke="#e7e6eb" stroke-width="0.74" stroke-linecap="round"/>
<line x1="282.5" y1="187.7" x2="300.4" y2="189.7" stroke="#b6b4c0" stroke-width="1.75" stroke-linecap="round"/>
<line x1="282.5" y1="187.5" x2="300.4" y2="189.5" stroke="#e0dfe5" stroke-width="1.08" stroke-linecap="round"/>
<line x1="279.1" y1="182.5" x2="283.3" y2="195.8" stroke="#b6b4c0" stroke-width="1.26" stroke-linecap="round"/>
<line x1="279.1" y1="182.3" x2="283.3" y2="195.6" stroke="#e7e6eb" stroke-width="0.78" stroke-linecap="round"/>
<line x1="269.2" y1="159.0" x2="262.5" y2="165.9" stroke="#b6b4c0" stroke-width="0.78" stroke-linecap="round"/>
<line x1="269.2" y1="158.9" x2="262.5" y2="165.9" stroke="#e0dfe5" stroke-width="0.49" stroke-linecap="round"/>
<line x1="274.0" y1="182.2" x2="256.4" y2="186.7" stroke="#b6b4c0" stroke-width="1.38" stroke-linecap="round"/>
<line x1="274.0" y1="182.1" x2="256.4" y2="186.5" stroke="#e7e6eb" stroke-width="0.86" stroke-linecap="round"/>
<line x1="387.0" y1="184.3" x2="371.9" y2="190.4" stroke="#b6b4c0" stroke-width="1.51" stroke-linecap="round"/>
<line x1="387.0" y1="184.1" x2="371.9" y2="190.2" stroke="#e0dfe5" stroke-width="0.93" stroke-linecap="round"/>
<line x1="201.5" y1="233.1" x2="246.6" y2="234.8" stroke="#b6b4c0" stroke-width="1.91" stroke-linecap="round"/>
<line x1="201.5" y1="232.9" x2="246.6" y2="234.6" stroke="#d9d8de" stroke-width="1.18" stroke-linecap="round"/>
<line x1="302.2" y1="162.7" x2="317.3" y2="169.1" stroke="#b6b4c0" stroke-width="1.12" stroke-linecap="round"/>
<line x1="302.2" y1="162.6" x2="317.3" y2="168.9" stroke="#e7e6eb" stroke-width="0.70" stroke-linecap="round"/>
<line x1="351.5" y1="198.3" x2="338.9" y2="207.0" stroke="#b6b4c0" stroke-width="1.81" stroke-linecap="round"/>
<line x1="351.5" y1="198.1" x2="338.9" y2="206.8" stroke="#e0dfe5" stroke-width="1.12" stroke-linecap="round"/>
<line x1="387.4" y1="180.6" x2="390.4" y2="189.1" stroke="#b6b4c0" stroke-width="1.14" stroke-linecap="round"/>
<line x1="387.4" y1="180.5" x2="390.4" y2="189.0" stroke="#e0dfe5" stroke-width="0.71" stroke-linecap="round"/>
<line x1="346.4" y1="199.5" x2="365.7" y2="201.9" stroke="#b6b4c0" stroke-width="1.64" stroke-linecap="round"/>
<line x1="346.4" y1="199.3" x2="365.7" y2="201.7" stroke="#e0dfe5" stroke-width="1.02" stroke-linecap="round"/>
<line x1="347.2" y1="233.3" x2="364.7" y2="252.7" stroke="#b6b4c0" stroke-width="1.90" stroke-linecap="round"/>
<line x1="347.2" y1="233.1" x2="364.7" y2="252.4" stroke="#e7e6eb" stroke-width="1.18" stroke-linecap="round"/>
<line x1="298.0" y1="177.7" x2="283.0" y2="177.8" stroke="#b6b4c0" stroke-width="1.22" stroke-linecap="round"/>
<line x1="298.0" y1="177.5" x2="283.0" y2="177.6" stroke="#e0dfe5" stroke-width="0.76" stroke-linecap="round"/>
<line x1="290.0" y1="178.7" x2="280.6" y2="183.4" stroke="#b6b4c0" stroke-width="1.15" stroke-linecap="round"/>
<line x1="290.0" y1="178.6" x2="280.6" y2="183.3" stroke="#e7e6eb" stroke-width="0.71" stroke-linecap="round"/>
<line x1="402.0" y1="208.3" x2="399.2" y2="220.4" stroke="#b6b4c0" stroke-width="2.26" stroke-linecap="round"/>
<line x1="402.0" y1="208.0" x2="399.2" y2="220.1" stroke="#e7e6eb" stroke-width="1.40" stroke-linecap="round"/>
<line x1="319.4" y1="240.3" x2="296.1" y2="250.4" stroke="#b6b4c0" stroke-width="2.95" stroke-linecap="round"/>
<line x1="319.4" y1="240.0" x2="296.1" y2="250.0" stroke="#e0dfe5" stroke-width="1.83" stroke-linecap="round"/>
<line x1="382.1" y1="183.2" x2="392.0" y2="186.5" stroke="#b6b4c0" stroke-width="1.52" stroke-linecap="round"/>
<line x1="382.1" y1="183.1" x2="392.0" y2="186.3" stroke="#d9d8de" stroke-width="0.95" stroke-linecap="round"/>
<line x1="228.5" y1="200.1" x2="230.0" y2="208.6" stroke="#b6b4c0" stroke-width="1.48" stroke-linecap="round"/>
<line x1="228.5" y1="199.9" x2="230.0" y2="208.4" stroke="#d9d8de" stroke-width="0.92" stroke-linecap="round"/>
<line x1="294.6" y1="192.7" x2="275.4" y2="202.8" stroke="#b6b4c0" stroke-width="1.45" stroke-linecap="round"/>
<line x1="294.6" y1="192.5" x2="275.4" y2="202.7" stroke="#e0dfe5" stroke-width="0.90" stroke-linecap="round"/>
<line x1="387.6" y1="194.8" x2="390.4" y2="202.9" stroke="#b6b4c0" stroke-width="1.61" stroke-linecap="round"/>
<line x1="387.6" y1="194.6" x2="390.4" y2="202.7" stroke="#e7e6eb" stroke-width="1.00" stroke-linecap="round"/>
<line x1="302.1" y1="181.0" x2="284.2" y2="187.3" stroke="#b6b4c0" stroke-width="1.65" stroke-linecap="round"/>
<line x1="302.1" y1="180.8" x2="284.2" y2="187.1" stroke="#d9d8de" stroke-width="1.02" stroke-linecap="round"/>
<line x1="308.5" y1="181.5" x2="306.8" y2="191.9" stroke="#b6b4c0" stroke-width="1.33" stroke-linecap="round"/>
<line x1="308.5" y1="181.4" x2="306.8" y2="191.7" stroke="#d9d8de" stroke-width="0.82" stroke-linecap="round"/>
<line x1="319.7" y1="182.1" x2="296.1" y2="186.4" stroke="#b6b4c0" stroke-width="1.25" stroke-linecap="round"/>
<line x1="319.7" y1="181.9" x2="296.1" y2="186.3" stroke="#e0dfe5" stroke-width="0.77" stroke-linecap="round"/>
<line x1="297.5" y1="243.2" x2="335.1" y2="244.0" stroke="#b6b4c0" stroke-width="1.99" stroke-linecap="round"/>
<line x1="297.5" y1="242.9" x2="335.1" y2="243.8" stroke="#e0dfe5" stroke-width="1.24" stroke-linecap="round"/>
<line x1="236.7" y1="170.1" x2="253.6" y2="176.4" stroke="#b6b4c0" stroke-width="1.17" stroke-linecap="round"/>
<line x1="236.7" y1="169.9" x2="253.6" y2="176.3" stroke="#d9d8de" stroke-width="0.73" stroke-linecap="round"/>
<line x1="190.4" y1="245.6" x2="205.6" y2="250.6" stroke="#b6b4c0" stroke-width="2.37" stroke-linecap="round"/>
<line x1="190.4" y1="245.3" x2="205.6" y2="250.3" stroke="#d9d8de" stroke-width="1.47" stroke-linecap="round"/>
<line x1="348.0" y1="230.7" x2="323.2" y2="239.0" stroke="#b6b4c0" stroke-width="1.98" stroke-linecap="round"/>
<line x1="348.0" y1="230.5" x2="323.2" y2="238.8" stroke="#e7e6eb" stroke-width="1.23" stroke-linecap="round"/>
<line x1="287.9" y1="228.7" x2="299.6" y2="234.9" stroke="#b6b4c0" stroke-width="2.10" stroke-linecap="round"/>
<line x1="287.9" y1="228.4" x2="299.6" y2="234.7" stroke="#e7e6eb" stroke-width="1.30" stroke-linecap="round"/>
<line x1="242.7" y1="243.3" x2="215.6" y2="255.9" stroke="#b6b4c0" stroke-width="2.98" stroke-linecap="round"/>
<line x1="242.7" y1="243.0" x2="215.6" y2="255.6" stroke="#e7e6eb" stroke-width="1.85" stroke-linecap="round"/>
<line x1="376.4" y1="218.0" x2="375.3" y2="237.6" stroke="#b6b4c0" stroke-width="2.16" stroke-linecap="round"/>
<line x1="376.4" y1="217.7" x2="375.3" y2="237.3" stroke="#d9d8de" stroke-width="1.34" stroke-linecap="round"/>
<line x1="251.2" y1="157.5" x2="251.5" y2="161.5" stroke="#b6b4c0" stroke-width="1.13" stroke-linecap="round"/>
<line x1="251.2" y1="157.4" x2="251.5" y2="161.4" stroke="#d9d8de" stroke-width="0.70" stroke-linecap="round"/>
<line x1="359.2" y1="199.3" x2="329.6" y2="202.7" stroke="#b6b4c0" stroke-width="1.73" stroke-linecap="round"/>
<line x1="359.2" y1="199.1" x2="329.6" y2="202.5" stroke="#d9d8de" stroke-width="1.07" stroke-linecap="round"/>
<line x1="333.3" y1="189.7" x2="340.9" y2="194.6" stroke="#b6b4c0" stroke-width="1.26" stroke-linecap="round"/>
<line x1="333.3" y1="189.5" x2="340.9" y2="194.5" stroke="#e7e6eb" stroke-width="0.78" stroke-linecap="round"/>
<line x1="354.0" y1="164.4" x2="356.1" y2="170.3" stroke="#b6b4c0" stroke-width="0.97" stroke-linecap="round"/>
<line x1="354.0" y1="164.3" x2="356.1" y2="170.2" stroke="#d9d8de" stroke-width="0.60" stroke-linecap="round"/>
<line x1="218.6" y1="239.0" x2="237.7" y2="253.5" stroke="#b6b4c0" stroke-width="2.32" stroke-linecap="round"/>
<line x1="218.6" y1="238.7" x2="237.7" y2="253.2" stroke="#e0dfe5" stroke-width="1.44" stroke-linecap="round"/>
<line x1="413.0" y1="230.1" x2="407.1" y2="238.1" stroke="#b6b4c0" stroke-width="2.29" stroke-linecap="round"/>
<line x1="413.0" y1="229.9" x2="407.1" y2="237.9" stroke="#e7e6eb" stroke-width="1.42" stroke-linecap="round"/>
<line x1="266.6" y1="165.6" x2="251.3" y2="171.7" stroke="#b6b4c0" stroke-width="0.99" stroke-linecap="round"/>
<line x1="266.6" y1="165.5" x2="251.3" y2="171.6" stroke="#d9d8de" stroke-width="0.62" stroke-linecap="round"/>
<line x1="286.5" y1="209.9" x2="284.7" y2="229.1" stroke="#b6b4c0" stroke-width="2.38" stroke-linecap="round"/>
<line x1="286.5" y1="209.7" x2="284.7" y2="228.8" stroke="#e7e6eb" stroke-width="1.48" stroke-linecap="round"/>
<line x1="272.4" y1="193.4" x2="284.6" y2="205.0" stroke="#b6b4c0" stroke-width="1.95" stroke-linecap="round"/>
<line x1="272.4" y1="193.1" x2="284.6" y2="204.8" stroke="#d9d8de" stroke-width="1.21" stroke-linecap="round"/>
<line x1="288.9" y1="186.0" x2="260.7" y2="188.2" stroke="#b6b4c0" stroke-width="1.30" stroke-linecap="round"/>
<line x1="288.9" y1="185.8" x2="260.7" y2="188.1" stroke="#d9d8de" stroke-width="0.81" stroke-linecap="round"/>
<line x1="218.5" y1="203.5" x2="224.4" y2="214.7" stroke="#b6b4c0" stroke-width="2.12" stroke-linecap="round"/>
<line x1="218.5" y1="203.2" x2="224.4" y2="214.4" stroke="#d9d8de" stroke-width="1.31" stroke-linecap="round"/>
<line x1="256.9" y1="178.0" x2="274.9" y2="180.3" stroke="#b6b4c0" stroke-width="1.43" stroke-linecap="round"/>
<line x1="256.9" y1="177.8" x2="274.9" y2="180.1" stroke="#e0dfe5" stroke-width="0.89" stroke-linecap="round"/>
<line x1="367.5" y1="216.0" x2="388.7" y2="216.2" stroke="#b6b4c0" stroke-width="2.31" stroke-linecap="round"/>
<line x1="367.5" y1="215.7" x2="388.7" y2="215.9" stroke="#e0dfe5" stroke-width="1.43" stroke-linecap="round"/>
<line x1="401.3" y1="193.2" x2="403.4" y2="202.1" stroke="#b6b4c0" stroke-width="1.64" stroke-linecap="round"/>
<line x1="401.3" y1="193.0" x2="403.4" y2="201.9" stroke="#e0dfe5" stroke-width="1.02" stroke-linecap="round"/>
<line x1="376.9" y1="176.9" x2="399.8" y2="182.5" stroke="#b6b4c0" stroke-width="1.11" stroke-linecap="round"/>
<line x1="376.9" y1="176.8" x2="399.8" y2="182.4" stroke="#d9d8de" stroke-width="0.69" stroke-linecap="round"/>
<line x1="336.4" y1="218.4" x2="350.6" y2="221.8" stroke="#b6b4c0" stroke-width="2.21" stroke-linecap="round"/>
<line x1="336.4" y1="218.1" x2="350.6" y2="221.5" stroke="#e0dfe5" stroke-width="1.37" stroke-linecap="round"/>
<line x1="333.3" y1="185.3" x2="345.3" y2="187.9" stroke="#b6b4c0" stroke-width="1.43" stroke-linecap="round"/>
<line x1="333.3" y1="185.1" x2="345.3" y2="187.7" stroke="#e0dfe5" stroke-width="0.89" stroke-linecap="round"/>
<line x1="279.7" y1="205.4" x2="300.6" y2="209.0" stroke="#b6b4c0" stroke-width="2.15" stroke-linecap="round"/>
<line x1="279.7" y1="205.1" x2="300.6" y2="208.8" stroke="#d9d8de" stroke-width="1.33" stroke-linecap="round"/>
<line x1="253.9" y1="164.9" x2="262.1" y2="170.3" stroke="#b6b4c0" stroke-width="1.31" stroke-linecap="round"/>
<line x1="253.9" y1="164.7" x2="262.1" y2="170.2" stroke="#e7e6eb" stroke-width="0.81" stroke-linecap="round"/>
<line x1="281.1" y1="164.0" x2="259.6" y2="166.1" stroke="#b6b4c0" stroke-width="1.28" stroke-linecap="round"/>
<line x1="281.1" y1="163.9" x2="259.6" y2="166.0" stroke="#e0dfe5" stroke-width="0.79" stroke-linecap="round"/>
<line x1="325.7" y1="163.2" x2="317.2" y2="164.6" stroke="#b6b4c0" stroke-width="1.20" stroke-linecap="round"/>
<line x1="325.7" y1="163.0" x2="317.2" y2="164.5" stroke="#d9d8de" stroke-width="0.74" stroke-linecap="round"/>
<line x1="299.6" y1="156.8" x2="287.1" y2="163.1" stroke="#b6b4c0" stroke-width="1.02" stroke-linecap="round"/>
<line x1="299.6" y1="156.7" x2="287.1" y2="163.0" stroke="#d9d8de" stroke-width="0.63" stroke-linecap="round"/>
<line x1="264.5" y1="204.8" x2="285.7" y2="210.2" stroke="#b6b4c0" stroke-width="1.67" stroke-linecap="round"/>
<line x1="264.5" y1="204.6" x2="285.7" y2="210.0" stroke="#e7e6eb" stroke-width="1.04" stroke-linecap="round"/>
<line x1="361.6" y1="182.4" x2="350.5" y2="188.0" stroke="#b6b4c0" stroke-width="1.62" stroke-linecap="round"/>
<line x1="361.6" y1="182.2" x2="350.5" y2="187.8" stroke="#e0dfe5" stroke-width="1.00" stroke-linecap="round"/>
<line x1="361.9" y1="185.0" x2="382.2" y2="189.4" stroke="#b6b4c0" stroke-width="1.14" stroke-linecap="round"/>
<line x1="361.9" y1="184.8" x2="382.2" y2="189.2" stroke="#e7e6eb" stroke-width="0.70" stroke-linecap="round"/>
<line x1="200.5" y1="237.8" x2="244.1" y2="238.8" stroke="#b6b4c0" stroke-width="2.59" stroke-linecap="round"/>
<line x1="200.5" y1="237.5" x2="244.1" y2="238.5" stroke="#e7e6eb" stroke-width="1.60" stroke-linecap="round"/>
<line x1="324.2" y1="218.2" x2="311.6" y2="223.9" stroke="#b6b4c0" stroke-width="2.03" stroke-linecap="round"/>
<line x1="324.2" y1="218.0" x2="311.6" y2="223.7" stroke="#d9d8de" stroke-width="1.26" stroke-linecap="round"/>
<line x1="322.0" y1="184.9" x2="337.0" y2="191.1" stroke="#b6b4c0" stroke-width="1.48" stroke-linecap="round"/>
<line x1="322.0" y1="184.7" x2="337.0" y2="190.9" stroke="#e7e6eb" stroke-width="0.92" stroke-linecap="round"/>
<line x1="294.3" y1="180.3" x2="285.1" y2="194.3" stroke="#b6b4c0" stroke-width="1.71" stroke-linecap="round"/>
<line x1="294.3" y1="180.1" x2="285.1" y2="194.1" stroke="#e7e6eb" stroke-width="1.06" stroke-linecap="round"/>
<line x1="275.5" y1="234.4" x2="251.2" y2="235.3" stroke="#b6b4c0" stroke-width="1.84" stroke-linecap="round"/>
<line x1="275.5" y1="234.2" x2="251.2" y2="235.1" stroke="#e7e6eb" stroke-width="1.14" stroke-linecap="round"/>
<line x1="398.2" y1="175.8" x2="389.3" y2="180.9" stroke="#b6b4c0" stroke-width="1.24" stroke-linecap="round"/>
<line x1="398.2" y1="175.7" x2="389.3" y2="180.8" stroke="#d9d8de" stroke-width="0.77" stroke-linecap="round"/>
<line x1="310.9" y1="191.9" x2="307.8" y2="207.5" stroke="#b6b4c0" stroke-width="2.00" stroke-linecap="round"/>
<line x1="310.9" y1="191.6" x2="307.8" y2="207.2" stroke="#e7e6eb" stroke-width="1.24" stroke-linecap="round"/>
<line x1="397.7" y1="205.0" x2="420.0" y2="206.9" stroke="#b6b4c0" stroke-width="1.78" stroke-linecap="round"/>
<line x1="397.7" y1="204.8" x2="420.0" y2="206.6" stroke="#e7e6eb" stroke-width="1.10" stroke-linecap="round"/>
<line x1="226.5" y1="226.6" x2="202.5" y2="232.5" stroke="#b6b4c0" stroke-width="2.60" stroke-linecap="round"/>
<line x1="226.5" y1="226.3" x2="202.5" y2="232.2" stroke="#d9d8de" stroke-width="1.61" stroke-linecap="round"/>
<line x1="227.4" y1="201.5" x2="227.7" y2="209.1" stroke="#b6b4c0" stroke-width="1.91" stroke-linecap="round"/>
<line x1="227.4" y1="201.2" x2="227.7" y2="208.9" stroke="#d9d8de" stroke-width="1.18" stroke-linecap="round"/>
<line x1="274.3" y1="217.6" x2="291.2" y2="229.3" stroke="#b6b4c0" stroke-width="1.94" stroke-linecap="round"/>
<line x1="274.3" y1="217.4" x2="291.2" y2="229.0" stroke="#d9d8de" stroke-width="1.20" stroke-linecap="round"/>
<line x1="339.9" y1="238.9" x2="371.0" y2="244.2" stroke="#b6b4c0" stroke-width="2.15" stroke-linecap="round"/>
<line x1="339.9" y1="238.6" x2="371.0" y2="243.9" stroke="#e0dfe5" stroke-width="1.33" stroke-linecap="round"/>
<line x1="328.3" y1="190.8" x2="339.7" y2="193.5" stroke="#b6b4c0" stroke-width="1.38" stroke-linecap="round"/>
<line x1="328.3" y1="190.6" x2="339.7" y2="193.3" stroke="#d9d8de" stroke-width="0.86" stroke-linecap="round"/>
<line x1="244.8" y1="173.5" x2="235.3" y2="178.8" stroke="#b6b4c0" stroke-width="1.21" stroke-linecap="round"/>
<line x1="244.8" y1="173.3" x2="235.3" y2="178.6" stroke="#d9d8de" stroke-width="0.75" stroke-linecap="round"/>
<line x1="403.0" y1="232.2" x2="374.6" y2="236.2" stroke="#b6b4c0" stroke-width="2.40" stroke-linecap="round"/>
<line x1="403.0" y1="231.9" x2="374.6" y2="235.9" stroke="#e0dfe5" stroke-width="1.49" stroke-linecap="round"/>
<line x1="389.4" y1="202.3" x2="401.4" y2="207.4" stroke="#b6b4c0" stroke-width="1.57" stroke-linecap="round"/>
<line x1="389.4" y1="202.1" x2="401.4" y2="207.2" stroke="#e7e6eb" stroke-width="0.97" stroke-linecap="round"/>
<line x1="366.8" y1="173.0" x2="363.6" y2="177.9" stroke="#b6b4c0" stroke-width="0.96" stroke-linecap="round"/>
<line x1="366.8" y1="172.9" x2="363.6" y2="177.8" stroke="#d9d8de" stroke-width="0.60" stroke-linecap="round"/>
<line x1="322.4" y1="193.0" x2="301.5" y2="193.5" stroke="#b6b4c0" stroke-width="1.28" stroke-linecap="round"/>
<line x1="322.4" y1="192.8" x2="301.5" y2="193.3" stroke="#e0dfe5" stroke-width="0.79" stroke-linecap="round"/>
<line x1="305.7" y1="198.6" x2="294.7" y2="211.5" stroke="#b6b4c0" stroke-width="1.67" stroke-linecap="round"/>
<line x1="305.7" y1="198.4" x2="294.7" y2="211.3" stroke="#e0dfe5" stroke-width="1.04" stroke-linecap="round"/>
<line x1="370.7" y1="215.4" x2="356.2" y2="218.4" stroke="#b6b4c0" stroke-width="2.25" stroke-linecap="round"/>
<line x1="370.7" y1="215.2" x2="356.2" y2="218.1" stroke="#e7e6eb" stroke-width="1.40" stroke-linecap="round"/>
<line x1="187.8" y1="249.0" x2="221.9" y2="249.5" stroke="#b6b4c0" stroke-width="2.38" stroke-linecap="round"/>
<line x1="187.8" y1="248.7" x2="221.9" y2="249.2" stroke="#e0dfe5" stroke-width="1.48" stroke-linecap="round"/>
<line x1="269.5" y1="225.9" x2="278.0" y2="242.2" stroke="#b6b4c0" stroke-width="2.60" stroke-linecap="round"/>
<line x1="269.5" y1="225.6" x2="278.0" y2="241.9" stroke="#e0dfe5" stroke-width="1.61" stroke-linecap="round"/>
<line x1="394.0" y1="216.5" x2="421.4" y2="218.8" stroke="#b6b4c0" stroke-width="2.29" stroke-linecap="round"/>
<line x1="394.0" y1="216.3" x2="421.4" y2="218.5" stroke="#e7e6eb" stroke-width="1.42" stroke-linecap="round"/>
<line x1="318.7" y1="205.0" x2="336.2" y2="207.4" stroke="#b6b4c0" stroke-width="1.72" stroke-linecap="round"/>
<line x1="318.7" y1="204.8" x2="336.2" y2="207.2" stroke="#e7e6eb" stroke-width="1.07" stroke-linecap="round"/>
<line x1="283.4" y1="186.6" x2="287.8" y2="202.2" stroke="#b6b4c0" stroke-width="1.35" stroke-linecap="round"/>
<line x1="283.4" y1="186.5" x2="287.8" y2="202.1" stroke="#e7e6eb" stroke-width="0.84" stroke-linecap="round"/>
<line x1="372.3" y1="183.4" x2="390.8" y2="187.5" stroke="#b6b4c0" stroke-width="1.47" stroke-linecap="round"/>
<line x1="372.3" y1="183.2" x2="390.8" y2="187.3" stroke="#d9d8de" stroke-width="0.91" stroke-linecap="round"/>
<line x1="378.6" y1="181.1" x2="372.2" y2="192.8" stroke="#b6b4c0" stroke-width="1.44" stroke-linecap="round"/>
<line x1="378.6" y1="180.9" x2="372.2" y2="192.7" stroke="#d9d8de" stroke-width="0.89" stroke-linecap="round"/>
<line x1="302.5" y1="161.4" x2="308.2" y2="165.6" stroke="#b6b4c0" stroke-width="1.20" stroke-linecap="round"/>
<line x1="302.5" y1="161.3" x2="308.2" y2="165.5" stroke="#e0dfe5" stroke-width="0.74" stroke-linecap="round"/>
<line x1="250.9" y1="168.9" x2="254.2" y2="180.9" stroke="#b6b4c0" stroke-width="1.22" stroke-linecap="round"/>
<line x1="250.9" y1="168.7" x2="254.2" y2="180.8" stroke="#e0dfe5" stroke-width="0.76" stroke-linecap="round"/>
<line x1="353.5" y1="183.8" x2="361.4" y2="190.3" stroke="#b6b4c0" stroke-width="1.67" stroke-linecap="round"/>
<line x1="353.5" y1="183.6" x2="361.4" y2="190.1" stroke="#e7e6eb" stroke-width="1.03" stroke-linecap="round"/>
<line x1="206.8" y1="228.0" x2="215.3" y2="241.3" stroke="#b6b4c0" stroke-width="1.90" stroke-linecap="round"/>
<line x1="206.8" y1="227.8" x2="215.3" y2="241.1" stroke="#d9d8de" stroke-width="1.18" stroke-linecap="round"/>
<line x1="248.6" y1="189.1" x2="223.4" y2="190.5" stroke="#b6b4c0" stroke-width="1.27" stroke-linecap="round"/>
<line x1="248.6" y1="189.0" x2="223.4" y2="190.3" stroke="#d9d8de" stroke-width="0.79" stroke-linecap="round"/>
<line x1="315.7" y1="193.9" x2="335.2" y2="203.4" stroke="#b6b4c0" stroke-width="1.41" stroke-linecap="round"/>
<line x1="315.7" y1="193.8" x2="335.2" y2="203.2" stroke="#e7e6eb" stroke-width="0.87" stroke-linecap="round"/>
<line x1="272.5" y1="187.0" x2="260.7" y2="196.1" stroke="#b6b4c0" stroke-width="1.56" stroke-linecap="round"/>
<line x1="272.5" y1="186.8" x2="260.7" y2="195.9" stroke="#d9d8de" stroke-width="0.97" stroke-linecap="round"/>
<line x1="337.4" y1="209.3" x2="340.1" y2="216.7" stroke="#b6b4c0" stroke-width="2.10" stroke-linecap="round"/>
<line x1="337.4" y1="209.1" x2="340.1" y2="216.4" stroke="#d9d8de" stroke-width="1.30" stroke-linecap="round"/>
<line x1="317.3" y1="196.9" x2="339.3" y2="209.3" stroke="#b6b4c0" stroke-width="1.83" stroke-linecap="round"/>
<line x1="317.3" y1="196.7" x2="339.3" y2="209.0" stroke="#e0dfe5" stroke-width="1.14" stroke-linecap="round"/>
<line x1="313.3" y1="188.9" x2="314.2" y2="198.7" stroke="#b6b4c0" stroke-width="1.62" stroke-linecap="round"/>
<line x1="313.3" y1="188.7" x2="314.2" y2="198.5" stroke="#e0dfe5" stroke-width="1.00" stroke-linecap="round"/>
<line x1="307.4" y1="167.5" x2="298.0" y2="169.6" stroke="#b6b4c0" stroke-width="1.02" stroke-linecap="round"/>
<line x1="307.4" y1="167.4" x2="298.0" y2="169.5" stroke="#d9d8de" stroke-width="0.63" stroke-linecap="round"/>
<line x1="380.4" y1="200.2" x2="382.2" y2="213.0" stroke="#b6b4c0" stroke-width="2.04" stroke-linecap="round"/>
<line x1="380.4" y1="200.0" x2="382.2" y2="212.7" stroke="#d9d8de" stroke-width="1.26" stroke-linecap="round"/>
<line x1="226.9" y1="187.1" x2="238.1" y2="197.8" stroke="#b6b4c0" stroke-width="1.60" stroke-linecap="round"/>
<line x1="226.9" y1="186.9" x2="238.1" y2="197.6" stroke="#e7e6eb" stroke-width="0.99" stroke-linecap="round"/>
<line x1="311.9" y1="219.7" x2="335.7" y2="236.4" stroke="#b6b4c0" stroke-width="2.48" stroke-linecap="round"/>
<line x1="311.9" y1="219.4" x2="335.7" y2="236.1" stroke="#e7e6eb" stroke-width="1.54" stroke-linecap="round"/>
<line x1="309.7" y1="186.4" x2="287.3" y2="189.1" stroke="#b6b4c0" stroke-width="1.71" stroke-linecap="round"/>
<line x1="309.7" y1="186.2" x2="287.3" y2="188.9" stroke="#d9d8de" stroke-width="1.06" stroke-linecap="round"/>
<line x1="356.0" y1="214.3" x2="368.3" y2="226.5" stroke="#b6b4c0" stroke-width="2.04" stroke-linecap="round"/>
<line x1="356.0" y1="214.1" x2="368.3" y2="226.3" stroke="#e0dfe5" stroke-width="1.27" stroke-linecap="round"/>
<line x1="271.9" y1="182.2" x2="251.4" y2="188.1" stroke="#b6b4c0" stroke-width="1.28" stroke-linecap="round"/>
<line x1="271.9" y1="182.1" x2="251.4" y2="188.0" stroke="#e0dfe5" stroke-width="0.79" stroke-linecap="round"/>
<line x1="344.7" y1="185.1" x2="360.2" y2="189.7" stroke="#b6b4c0" stroke-width="1.23" stroke-linecap="round"/>
<line x1="344.7" y1="184.9" x2="360.2" y2="189.6" stroke="#d9d8de" stroke-width="0.76" stroke-linecap="round"/>
<line x1="295.6" y1="203.6" x2="277.6" y2="214.2" stroke="#b6b4c0" stroke-width="1.95" stroke-linecap="round"/>
<line x1="295.6" y1="203.3" x2="277.6" y2="213.9" stroke="#e0dfe5" stroke-width="1.21" stroke-linecap="round"/>
<line x1="237.5" y1="202.5" x2="261.3" y2="206.4" stroke="#b6b4c0" stroke-width="2.04" stroke-linecap="round"/>
<line x1="237.5" y1="202.3" x2="261.3" y2="206.2" stroke="#e7e6eb" stroke-width="1.27" stroke-linecap="round"/>
<line x1="284.0" y1="204.4" x2="302.7" y2="206.4" stroke="#b6b4c0" stroke-width="1.58" stroke-linecap="round"/>
<line x1="284.0" y1="204.3" x2="302.7" y2="206.2" stroke="#d9d8de" stroke-width="0.98" stroke-linecap="round"/>
<line x1="380.8" y1="165.1" x2="381.9" y2="172.4" stroke="#b6b4c0" stroke-width="0.99" stroke-linecap="round"/>
<line x1="380.8" y1="165.0" x2="381.9" y2="172.3" stroke="#e7e6eb" stroke-width="0.62" stroke-linecap="round"/>
<line x1="325.8" y1="172.1" x2="325.4" y2="178.2" stroke="#b6b4c0" stroke-width="1.07" stroke-linecap="round"/>
<line x1="325.8" y1="171.9" x2="325.4" y2="178.0" stroke="#d9d8de" stroke-width="0.66" stroke-linecap="round"/>
<line x1="373.1" y1="229.4" x2="355.4" y2="232.1" stroke="#b6b4c0" stroke-width="2.36" stroke-linecap="round"/>
<line x1="373.1" y1="229.1" x2="355.4" y2="231.9" stroke="#e0dfe5" stroke-width="1.46" stroke-linecap="round"/>
<line x1="314.9" y1="178.4" x2="299.9" y2="179.0" stroke="#b6b4c0" stroke-width="1.43" stroke-linecap="round"/>
<line x1="314.9" y1="178.3" x2="299.9" y2="178.9" stroke="#e0dfe5" stroke-width="0.89" stroke-linecap="round"/>
<line x1="318.2" y1="161.9" x2="309.2" y2="162.0" stroke="#b6b4c0" stroke-width="1.18" stroke-linecap="round"/>
<line x1="318.2" y1="161.7" x2="309.2" y2="161.8" stroke="#d9d8de" stroke-width="0.73" stroke-linecap="round"/>
<line x1="320.8" y1="220.8" x2="305.6" y2="232.2" stroke="#b6b4c0" stroke-width="2.37" stroke-linecap="round"/>
<line x1="320.8" y1="220.6" x2="305.6" y2="231.9" stroke="#d9d8de" stroke-width="1.47" stroke-linecap="round"/>
<line x1="281.8" y1="184.2" x2="269.5" y2="186.2" stroke="#b6b4c0" stroke-width="1.09" stroke-linecap="round"/>
<line x1="281.8" y1="184.0" x2="269.5" y2="186.0" stroke="#d9d8de" stroke-width="0.68" stroke-linecap="round"/>
<line x1="262.9" y1="212.2" x2="243.2" y2="221.6" stroke="#b6b4c0" stroke-width="2.32" stroke-linecap="round"/>
<line x1="262.9" y1="212.0" x2="243.2" y2="221.3" stroke="#e7e6eb" stroke-width="1.44" stroke-linecap="round"/>
<line x1="269.7" y1="223.9" x2="300.0" y2="226.0" stroke="#b6b4c0" stroke-width="2.29" stroke-linecap="round"/>
<line x1="269.7" y1="223.6" x2="300.0" y2="225.7" stroke="#d9d8de" stroke-width="1.42" stroke-linecap="round"/>
<line x1="271.1" y1="176.3" x2="249.5" y2="177.0" stroke="#b6b4c0" stroke-width="1.24" stroke-linecap="round"/>
<line x1="271.1" y1="176.2" x2="249.5" y2="176.8" stroke="#e7e6eb" stroke-width="0.77" stroke-linecap="round"/>
<line x1="243.5" y1="179.0" x2="256.0" y2="190.1" stroke="#b6b4c0" stroke-width="1.52" stroke-linecap="round"/>
<line x1="243.5" y1="178.9" x2="256.0" y2="189.9" stroke="#d9d8de" stroke-width="0.95" stroke-linecap="round"/>
<line x1="338.4" y1="169.7" x2="328.6" y2="171.5" stroke="#b6b4c0" stroke-width="0.89" stroke-linecap="round"/>
<line x1="338.4" y1="169.5" x2="328.6" y2="171.4" stroke="#e0dfe5" stroke-width="0.55" stroke-linecap="round"/>
<line x1="325.2" y1="210.3" x2="308.0" y2="221.5" stroke="#b6b4c0" stroke-width="2.05" stroke-linecap="round"/>
<line x1="325.2" y1="210.0" x2="308.0" y2="221.2" stroke="#d9d8de" stroke-width="1.27" stroke-linecap="round"/>
<line x1="339.9" y1="182.2" x2="354.7" y2="182.2" stroke="#b6b4c0" stroke-width="1.46" stroke-linecap="round"/>
<line x1="339.9" y1="182.0" x2="354.7" y2="182.1" stroke="#e0dfe5" stroke-width="0.91" stroke-linecap="round"/>
<line x1="298.1" y1="155.1" x2="286.1" y2="162.1" stroke="#b6b4c0" stroke-width="0.93" stroke-linecap="round"/>
<line x1="298.1" y1="155.0" x2="286.1" y2="162.0" stroke="#e0dfe5" stroke-width="0.58" stroke-linecap="round"/>
<line x1="298.9" y1="227.6" x2="275.2" y2="236.0" stroke="#b6b4c0" stroke-width="2.34" stroke-linecap="round"/>
<line x1="298.9" y1="227.4" x2="275.2" y2="235.7" stroke="#d9d8de" stroke-width="1.45" stroke-linecap="round"/>
<line x1="295.5" y1="213.3" x2="305.8" y2="218.1" stroke="#b6b4c0" stroke-width="1.66" stroke-linecap="round"/>
<line x1="295.5" y1="213.1" x2="305.8" y2="217.9" stroke="#e0dfe5" stroke-width="1.03" stroke-linecap="round"/>
<line x1="233.6" y1="191.3" x2="246.6" y2="201.2" stroke="#b6b4c0" stroke-width="1.61" stroke-linecap="round"/>
<line x1="233.6" y1="191.1" x2="246.6" y2="201.0" stroke="#e7e6eb" stroke-width="1.00" stroke-linecap="round"/>
<line x1="245.6" y1="175.6" x2="251.4" y2="185.2" stroke="#b6b4c0" stroke-width="1.15" stroke-linecap="round"/>
<line x1="245.6" y1="175.5" x2="251.4" y2="185.1" stroke="#d9d8de" stroke-width="0.71" stroke-linecap="round"/>
<line x1="276.6" y1="205.6" x2="256.1" y2="215.1" stroke="#b6b4c0" stroke-width="1.95" stroke-linecap="round"/>
<line x1="276.6" y1="205.3" x2="256.1" y2="214.9" stroke="#e7e6eb" stroke-width="1.21" stroke-linecap="round"/>
<line x1="332.8" y1="172.0" x2="323.3" y2="182.4" stroke="#b6b4c0" stroke-width="1.07" stroke-linecap="round"/>
<line x1="332.8" y1="171.9" x2="323.3" y2="182.3" stroke="#d9d8de" stroke-width="0.66" stroke-linecap="round"/>
<line x1="249.4" y1="202.5" x2="224.1" y2="205.5" stroke="#b6b4c0" stroke-width="1.80" stroke-linecap="round"/>
<line x1="249.4" y1="202.3" x2="224.1" y2="205.3" stroke="#d9d8de" stroke-width="1.12" stroke-linecap="round"/>
<line x1="276.8" y1="201.3" x2="275.5" y2="210.3" stroke="#b6b4c0" stroke-width="1.76" stroke-linecap="round"/>
<line x1="276.8" y1="201.1" x2="275.5" y2="210.1" stroke="#d9d8de" stroke-width="1.09" stroke-linecap="round"/>
<line x1="314.2" y1="166.3" x2="315.0" y2="172.2" stroke="#b6b4c0" stroke-width="1.34" stroke-linecap="round"/>
<line x1="314.2" y1="166.1" x2="315.0" y2="172.1" stroke="#d9d8de" stroke-width="0.83" stroke-linecap="round"/>
<line x1="249.7" y1="158.0" x2="246.7" y2="161.7" stroke="#b6b4c0" stroke-width="0.99" stroke-linecap="round"/>
<line x1="249.7" y1="157.9" x2="246.7" y2="161.6" stroke="#d9d8de" stroke-width="0.62" stroke-linecap="round"/>
<line x1="212.0" y1="235.6" x2="198.1" y2="247.0" stroke="#b6b4c0" stroke-width="2.31" stroke-linecap="round"/>
<line x1="212.0" y1="235.4" x2="198.1" y2="246.7" stroke="#d9d8de" stroke-width="1.43" stroke-linecap="round"/>
<line x1="370.1" y1="223.0" x2="388.2" y2="236.2" stroke="#b6b4c0" stroke-width="2.05" stroke-linecap="round"/>
<line x1="370.1" y1="222.8" x2="388.2" y2="236.0" stroke="#e7e6eb" stroke-width="1.27" stroke-linecap="round"/>
<line x1="376.8" y1="160.8" x2="383.8" y2="163.2" stroke="#b6b4c0" stroke-width="1.11" stroke-linecap="round"/>
<line x1="376.8" y1="160.7" x2="383.8" y2="163.1" stroke="#e7e6eb" stroke-width="0.69" stroke-linecap="round"/>
<line x1="351.9" y1="224.8" x2="370.0" y2="229.0" stroke="#b6b4c0" stroke-width="2.53" stroke-linecap="round"/>
<line x1="351.9" y1="224.5" x2="370.0" y2="228.7" stroke="#d9d8de" stroke-width="1.57" stroke-linecap="round"/>
<line x1="395.1" y1="205.1" x2="409.3" y2="205.2" stroke="#b6b4c0" stroke-width="1.86" stroke-linecap="round"/>
<line x1="395.1" y1="204.9" x2="409.3" y2="205.0" stroke="#e0dfe5" stroke-width="1.16" stroke-linecap="round"/>
<line x1="353.9" y1="191.9" x2="350.1" y2="201.7" stroke="#b6b4c0" stroke-width="1.56" stroke-linecap="round"/>
<line x1="353.9" y1="191.7" x2="350.1" y2="201.5" stroke="#e7e6eb" stroke-width="0.97" stroke-linecap="round"/>
<line x1="268.1" y1="234.8" x2="270.3" y2="253.8" stroke="#b6b4c0" stroke-width="2.70" stroke-linecap="round"/>
<line x1="268.1" y1="234.5" x2="270.3" y2="253.5" stroke="#e7e6eb" stroke-width="1.67" stroke-linecap="round"/>
<line x1="296.1" y1="176.5" x2="285.5" y2="186.8" stroke="#b6b4c0" stroke-width="1.61" stroke-linecap="round"/>
<line x1="296.1" y1="176.3" x2="285.5" y2="186.6" stroke="#d9d8de" stroke-width="1.00" stroke-linecap="round"/>
<line x1="365.7" y1="219.2" x2="355.1" y2="235.4" stroke="#b6b4c0" stroke-width="2.57" stroke-linecap="round"/>
<line x1="365.7" y1="218.8" x2="355.1" y2="235.1" stroke="#e0dfe5" stroke-width="1.60" stroke-linecap="round"/>
<line x1="253.4" y1="212.0" x2="267.1" y2="216.4" stroke="#b6b4c0" stroke-width="1.60" stroke-linecap="round"/>
<line x1="253.4" y1="211.8" x2="267.1" y2="216.2" stroke="#e7e6eb" stroke-width="0.99" stroke-linecap="round"/>
<line x1="297.7" y1="193.6" x2="303.7" y2="205.6" stroke="#b6b4c0" stroke-width="1.54" stroke-linecap="round"/>
<line x1="297.7" y1="193.4" x2="303.7" y2="205.4" stroke="#e0dfe5" stroke-width="0.96" stroke-linecap="round"/>
<line x1="364.7" y1="184.6" x2="374.3" y2="198.5" stroke="#b6b4c0" stroke-width="1.42" stroke-linecap="round"/>
<line x1="364.7" y1="184.4" x2="374.3" y2="198.3" stroke="#e7e6eb" stroke-width="0.88" stroke-linecap="round"/>
<line x1="262.7" y1="175.3" x2="278.8" y2="181.1" stroke="#b6b4c0" stroke-width="1.35" stroke-linecap="round"/>
<line x1="262.7" y1="175.2" x2="278.8" y2="180.9" stroke="#e7e6eb" stroke-width="0.84" stroke-linecap="round"/>
<line x1="331.1" y1="228.4" x2="340.6" y2="243.1" stroke="#b6b4c0" stroke-width="2.24" stroke-linecap="round"/>
<line x1="331.1" y1="228.1" x2="340.6" y2="242.8" stroke="#e7e6eb" stroke-width="1.39" stroke-linecap="round"/>
<line x1="254.2" y1="191.7" x2="262.6" y2="203.9" stroke="#b6b4c0" stroke-width="1.76" stroke-linecap="round"/>
<line x1="254.2" y1="191.5" x2="262.6" y2="203.7" stroke="#e0dfe5" stroke-width="1.09" stroke-linecap="round"/>
<line x1="384.4" y1="172.8" x2="367.5" y2="179.0" stroke="#b6b4c0" stroke-width="1.50" stroke-linecap="round"/>
<line x1="384.4" y1="172.6" x2="367.5" y2="178.8" stroke="#e0dfe5" stroke-width="0.93" stroke-linecap="round"/>
<line x1="309.6" y1="193.2" x2="322.2" y2="195.6" stroke="#b6b4c0" stroke-width="1.35" stroke-linecap="round"/>
<line x1="309.6" y1="193.1" x2="322.2" y2="195.5" stroke="#d9d8de" stroke-width="0.83" stroke-linecap="round"/>
<line x1="235.6" y1="199.5" x2="244.6" y2="217.5" stroke="#b6b4c0" stroke-width="1.51" stroke-linecap="round"/>
<line x1="235.6" y1="199.4" x2="244.6" y2="217.3" stroke="#e7e6eb" stroke-width="0.93" stroke-linecap="round"/>
<line x1="286.2" y1="228.2" x2="302.4" y2="240.5" stroke="#b6b4c0" stroke-width="2.65" stroke-linecap="round"/>
<line x1="286.2" y1="227.9" x2="302.4" y2="240.2" stroke="#d9d8de" stroke-width="1.64" stroke-linecap="round"/>
<line x1="324.6" y1="202.8" x2="337.1" y2="214.4" stroke="#b6b4c0" stroke-width="1.55" stroke-linecap="round"/>
<line x1="324.6" y1="202.6" x2="337.1" y2="214.2" stroke="#e0dfe5" stroke-width="0.96" stroke-linecap="round"/>
<line x1="251.7" y1="182.7" x2="238.1" y2="185.2" stroke="#b6b4c0" stroke-width="1.20" stroke-linecap="round"/>
<line x1="251.7" y1="182.5" x2="238.1" y2="185.0" stroke="#d9d8de" stroke-width="0.74" stroke-linecap="round"/>
<line x1="375.3" y1="175.9" x2="382.6" y2="182.3" stroke="#b6b4c0" stroke-width="1.12" stroke-linecap="round"/>
<line x1="375.3" y1="175.8" x2="382.6" y2="182.1" stroke="#e7e6eb" stroke-width="0.70" stroke-linecap="round"/>
<line x1="340.7" y1="177.1" x2="360.9" y2="177.1" stroke="#b6b4c0" stroke-width="1.43" stroke-linecap="round"/>
<line x1="340.7" y1="176.9" x2="360.9" y2="176.9" stroke="#e0dfe5" stroke-width="0.89" stroke-linecap="round"/>
<line x1="380.4" y1="241.3" x2="363.8" y2="246.5" stroke="#b6b4c0" stroke-width="2.11" stroke-linecap="round"/>
<line x1="380.4" y1="241.0" x2="363.8" y2="246.3" stroke="#e0dfe5" stroke-width="1.31" stroke-linecap="round"/>
<line x1="282.5" y1="182.6" x2="293.3" y2="186.9" stroke="#b6b4c0" stroke-width="1.46" stroke-linecap="round"/>
<line x1="282.5" y1="182.4" x2="293.3" y2="186.7" stroke="#e0dfe5" stroke-width="0.91" stroke-linecap="round"/>
<line x1="268.2" y1="194.6" x2="266.0" y2="204.9" stroke="#b6b4c0" stroke-width="1.69" stroke-linecap="round"/>
<line x1="268.2" y1="194.4" x2="266.0" y2="204.7" stroke="#e7e6eb" stroke-width="1.05" stroke-linecap="round"/>
<line x1="375.5" y1="172.2" x2="386.9" y2="180.7" stroke="#b6b4c0" stroke-width="1.02" stroke-linecap="round"/>
<line x1="375.5" y1="172.1" x2="386.9" y2="180.5" stroke="#d9d8de" stroke-width="0.63" stroke-linecap="round"/>
<line x1="384.1" y1="220.4" x2="367.6" y2="227.3" stroke="#b6b4c0" stroke-width="2.27" stroke-linecap="round"/>
<line x1="384.1" y1="220.1" x2="367.6" y2="227.0" stroke="#e7e6eb" stroke-width="1.41" stroke-linecap="round"/>
<line x1="228.2" y1="208.8" x2="208.1" y2="213.1" stroke="#b6b4c0" stroke-width="1.55" stroke-linecap="round"/>
<line x1="228.2" y1="208.6" x2="208.1" y2="212.9" stroke="#d9d8de" stroke-width="0.96" stroke-linecap="round"/>
<line x1="355.7" y1="160.4" x2="353.0" y2="164.3" stroke="#b6b4c0" stroke-width="1.19" stroke-linecap="round"/>
<line x1="355.7" y1="160.3" x2="353.0" y2="164.2" stroke="#e7e6eb" stroke-width="0.74" stroke-linecap="round"/>
<line x1="318.8" y1="181.8" x2="304.7" y2="187.7" stroke="#b6b4c0" stroke-width="1.55" stroke-linecap="round"/>
<line x1="318.8" y1="181.6" x2="304.7" y2="187.5" stroke="#d9d8de" stroke-width="0.96" stroke-linecap="round"/>
<line x1="350.9" y1="153.8" x2="358.3" y2="162.4" stroke="#b6b4c0" stroke-width="0.89" stroke-linecap="round"/>
<line x1="350.9" y1="153.7" x2="358.3" y2="162.3" stroke="#e7e6eb" stroke-width="0.55" stroke-linecap="round"/>
<line x1="307.3" y1="171.0" x2="309.1" y2="181.4" stroke="#b6b4c0" stroke-width="1.37" stroke-linecap="round"/>
<line x1="307.3" y1="170.9" x2="309.1" y2="181.2" stroke="#e7e6eb" stroke-width="0.85" stroke-linecap="round"/>
<line x1="325.6" y1="185.7" x2="324.4" y2="191.0" stroke="#b6b4c0" stroke-width="1.16" stroke-linecap="round"/>
<line x1="325.6" y1="185.6" x2="324.4" y2="190.9" stroke="#d9d8de" stroke-width="0.72" stroke-linecap="round"/>
<line x1="378.9" y1="173.1" x2="400.7" y2="177.2" stroke="#b6b4c0" stroke-width="1.04" stroke-linecap="round"/>
<line x1="378.9" y1="172.9" x2="400.7" y2="177.1" stroke="#d9d8de" stroke-width="0.65" stroke-linecap="round"/>
<line x1="283.2" y1="186.8" x2="297.8" y2="186.9" stroke="#b6b4c0" stroke-width="1.31" stroke-linecap="round"/>
<line x1="283.2" y1="186.7" x2="297.8" y2="186.8" stroke="#e0dfe5" stroke-width="0.81" stroke-linecap="round"/>
<line x1="198.4" y1="243.2" x2="206.3" y2="253.1" stroke="#b6b4c0" stroke-width="2.73" stroke-linecap="round"/>
<line x1="198.4" y1="242.8" x2="206.3" y2="252.8" stroke="#d9d8de" stroke-width="1.69" stroke-linecap="round"/>
<line x1="301.2" y1="189.9" x2="321.1" y2="190.2" stroke="#b6b4c0" stroke-width="1.43" stroke-linecap="round"/>
<line x1="301.2" y1="189.8" x2="321.1" y2="190.0" stroke="#e7e6eb" stroke-width="0.89" stroke-linecap="round"/>
<line x1="237.8" y1="207.2" x2="223.5" y2="209.7" stroke="#b6b4c0" stroke-width="1.45" stroke-linecap="round"/>
<line x1="237.8" y1="207.0" x2="223.5" y2="209.6" stroke="#e0dfe5" stroke-width="0.90" stroke-linecap="round"/>
<line x1="334.3" y1="183.5" x2="348.1" y2="184.1" stroke="#b6b4c0" stroke-width="1.50" stroke-linecap="round"/>
<line x1="334.3" y1="183.3" x2="348.1" y2="183.9" stroke="#e0dfe5" stroke-width="0.93" stroke-linecap="round"/>
<line x1="377.1" y1="166.8" x2="368.6" y2="171.9" stroke="#b6b4c0" stroke-width="1.10" stroke-linecap="round"/>
<line x1="377.1" y1="166.7" x2="368.6" y2="171.7" stroke="#e7e6eb" stroke-width="0.68" stroke-linecap="round"/>
<line x1="297.0" y1="185.0" x2="270.6" y2="186.9" stroke="#b6b4c0" stroke-width="1.53" stroke-linecap="round"/>
<line x1="297.0" y1="184.8" x2="270.6" y2="186.7" stroke="#e7e6eb" stroke-width="0.95" stroke-linecap="round"/>
<line x1="245.6" y1="241.9" x2="239.7" y2="252.5" stroke="#b6b4c0" stroke-width="2.82" stroke-linecap="round"/>
<line x1="245.6" y1="241.6" x2="239.7" y2="252.2" stroke="#d9d8de" stroke-width="1.75" stroke-linecap="round"/>
<line x1="294.6" y1="199.0" x2="297.0" y2="212.6" stroke="#b6b4c0" stroke-width="2.06" stroke-linecap="round"/>
<line x1="294.6" y1="198.7" x2="297.0" y2="212.3" stroke="#d9d8de" stroke-width="1.28" stroke-linecap="round"/>
<line x1="253.4" y1="233.5" x2="269.4" y2="240.7" stroke="#b6b4c0" stroke-width="2.67" stroke-linecap="round"/>
<line x1="253.4" y1="233.1" x2="269.4" y2="240.4" stroke="#d9d8de" stroke-width="1.66" stroke-linecap="round"/>
<line x1="269.1" y1="229.9" x2="238.7" y2="234.5" stroke="#b6b4c0" stroke-width="1.97" stroke-linecap="round"/>
<line x1="269.1" y1="229.7" x2="238.7" y2="234.2" stroke="#d9d8de" stroke-width="1.22" stroke-linecap="round"/>
<line x1="368.0" y1="225.0" x2="378.5" y2="232.0" stroke="#b6b4c0" stroke-width="2.53" stroke-linecap="round"/>
<line x1="368.0" y1="224.7" x2="378.5" y2="231.7" stroke="#e7e6eb" stroke-width="1.57" stroke-linecap="round"/>
<line x1="316.4" y1="185.4" x2="296.5" y2="186.4" stroke="#b6b4c0" stroke-width="1.61" stroke-linecap="round"/>
<line x1="316.4" y1="185.2" x2="296.5" y2="186.2" stroke="#e0dfe5" stroke-width="1.00" stroke-linecap="round"/>
<line x1="220.3" y1="210.9" x2="203.3" y2="220.3" stroke="#b6b4c0" stroke-width="1.52" stroke-linecap="round"/>
<line x1="220.3" y1="210.7" x2="203.3" y2="220.1" stroke="#e7e6eb" stroke-width="0.94" stroke-linecap="round"/>
<line x1="347.3" y1="194.0" x2="339.3" y2="206.3" stroke="#b6b4c0" stroke-width="1.64" stroke-linecap="round"/>
<line x1="347.3" y1="193.8" x2="339.3" y2="206.1" stroke="#e7e6eb" stroke-width="1.02" stroke-linecap="round"/>
<line x1="386.3" y1="219.4" x2="359.2" y2="233.6" stroke="#b6b4c0" stroke-width="2.56" stroke-linecap="round"/>
<line x1="386.3" y1="219.1" x2="359.2" y2="233.3" stroke="#e0dfe5" stroke-width="1.59" stroke-linecap="round"/>
<line x1="213.1" y1="228.6" x2="214.5" y2="243.6" stroke="#b6b4c0" stroke-width="2.46" stroke-linecap="round"/>
<line x1="213.1" y1="228.3" x2="214.5" y2="243.3" stroke="#e0dfe5" stroke-width="1.53" stroke-linecap="round"/>
<line x1="383.3" y1="235.2" x2="339.3" y2="238.0" stroke="#b6b4c0" stroke-width="2.01" stroke-linecap="round"/>
<line x1="383.3" y1="235.0" x2="339.3" y2="237.8" stroke="#e0dfe5" stroke-width="1.25" stroke-linecap="round"/>
<line x1="327.1" y1="237.5" x2="355.9" y2="250.8" stroke="#b6b4c0" stroke-width="1.97" stroke-linecap="round"/>
<line x1="327.1" y1="237.3" x2="355.9" y2="250.6" stroke="#d9d8de" stroke-width="1.22" stroke-linecap="round"/>
<line x1="381.6" y1="215.6" x2="374.3" y2="221.8" stroke="#b6b4c0" stroke-width="1.90" stroke-linecap="round"/>
<line x1="381.6" y1="215.4" x2="374.3" y2="221.5" stroke="#d9d8de" stroke-width="1.18" stroke-linecap="round"/>
<line x1="403.1" y1="205.5" x2="389.3" y2="220.7" stroke="#b6b4c0" stroke-width="1.59" stroke-linecap="round"/>
<line x1="403.1" y1="205.3" x2="389.3" y2="220.5" stroke="#d9d8de" stroke-width="0.98" stroke-linecap="round"/>
<line x1="324.1" y1="209.0" x2="300.3" y2="214.6" stroke="#b6b4c0" stroke-width="1.71" stroke-linecap="round"/>
<line x1="324.1" y1="208.8" x2="300.3" y2="214.4" stroke="#e0dfe5" stroke-width="1.06" stroke-linecap="round"/>
<line x1="245.6" y1="175.6" x2="236.1" y2="177.5" stroke="#b6b4c0" stroke-width="1.43" stroke-linecap="round"/>
<line x1="245.6" y1="175.4" x2="236.1" y2="177.3" stroke="#e0dfe5" stroke-width="0.88" stroke-linecap="round"/>
<line x1="258.1" y1="160.1" x2="276.0" y2="162.8" stroke="#b6b4c0" stroke-width="1.03" stroke-linecap="round"/>
<line x1="258.1" y1="160.0" x2="276.0" y2="162.7" stroke="#e0dfe5" stroke-width="0.64" stroke-linecap="round"/>
<line x1="315.7" y1="198.8" x2="314.3" y2="204.9" stroke="#b6b4c0" stroke-width="1.70" stroke-linecap="round"/>
<line x1="315.7" y1="198.6" x2="314.3" y2="204.7" stroke="#e7e6eb" stroke-width="1.06" stroke-linecap="round"/>
<line x1="215.0" y1="244.6" x2="231.5" y2="254.9" stroke="#b6b4c0" stroke-width="2.88" stroke-linecap="round"/>
<line x1="215.0" y1="244.2" x2="231.5" y2="254.6" stroke="#d9d8de" stroke-width="1.79" stroke-linecap="round"/>
<line x1="239.4" y1="203.8" x2="246.2" y2="218.8" stroke="#b6b4c0" stroke-width="1.46" stroke-linecap="round"/>
<line x1="239.4" y1="203.6" x2="246.2" y2="218.6" stroke="#d9d8de" stroke-width="0.91" stroke-linecap="round"/>
<line x1="421.0" y1="228.3" x2="400.5" y2="242.5" stroke="#b6b4c0" stroke-width="2.72" stroke-linecap="round"/>
<line x1="421.0" y1="228.0" x2="400.5" y2="242.2" stroke="#d9d8de" stroke-width="1.68" stroke-linecap="round"/>
<line x1="272.8" y1="196.4" x2="305.1" y2="196.8" stroke="#b6b4c0" stroke-width="1.80" stroke-linecap="round"/>
<line x1="272.8" y1="196.1" x2="305.1" y2="196.5" stroke="#d9d8de" stroke-width="1.11" stroke-linecap="round"/>
<line x1="306.7" y1="223.0" x2="272.7" y2="229.9" stroke="#b6b4c0" stroke-width="2.26" stroke-linecap="round"/>
<line x1="306.7" y1="222.7" x2="272.7" y2="229.6" stroke="#d9d8de" stroke-width="1.40" stroke-linecap="round"/>
<line x1="279.4" y1="158.9" x2="284.6" y2="164.9" stroke="#b6b4c0" stroke-width="1.08" stroke-linecap="round"/>
<line x1="279.4" y1="158.8" x2="284.6" y2="164.8" stroke="#d9d8de" stroke-width="0.67" stroke-linecap="round"/>
<line x1="412.9" y1="220.9" x2="398.3" y2="231.2" stroke="#b6b4c0" stroke-width="2.09" stroke-linecap="round"/>
<line x1="412.9" y1="220.7" x2="398.3" y2="231.0" stroke="#e7e6eb" stroke-width="1.29" stroke-linecap="round"/>
<line x1="291.1" y1="240.0" x2="275.7" y2="251.0" stroke="#b6b4c0" stroke-width="2.03" stroke-linecap="round"/>
<line x1="291.1" y1="239.7" x2="275.7" y2="250.8" stroke="#d9d8de" stroke-width="1.26" stroke-linecap="round"/>
<line x1="202.3" y1="232.1" x2="187.9" y2="246.4" stroke="#b6b4c0" stroke-width="1.98" stroke-linecap="round"/>
<line x1="202.3" y1="231.9" x2="187.9" y2="246.1" stroke="#e7e6eb" stroke-width="1.23" stroke-linecap="round"/>
<line x1="435.3" y1="232.6" x2="411.2" y2="244.0" stroke="#b6b4c0" stroke-width="2.62" stroke-linecap="round"/>
<line x1="435.3" y1="232.3" x2="411.2" y2="243.6" stroke="#d9d8de" stroke-width="1.62" stroke-linecap="round"/>
<line x1="252.0" y1="233.8" x2="215.3" y2="244.8" stroke="#b6b4c0" stroke-width="2.81" stroke-linecap="round"/>
<line x1="252.0" y1="233.4" x2="215.3" y2="244.5" stroke="#e7e6eb" stroke-width="1.74" stroke-linecap="round"/>
<line x1="264.6" y1="190.6" x2="257.4" y2="197.5" stroke="#b6b4c0" stroke-width="1.72" stroke-linecap="round"/>
<line x1="264.6" y1="190.4" x2="257.4" y2="197.3" stroke="#e7e6eb" stroke-width="1.07" stroke-linecap="round"/>
<line x1="355.6" y1="186.2" x2="374.8" y2="196.4" stroke="#b6b4c0" stroke-width="1.63" stroke-linecap="round"/>
<line x1="355.6" y1="186.0" x2="374.8" y2="196.2" stroke="#e7e6eb" stroke-width="1.01" stroke-linecap="round"/>
<line x1="322.0" y1="186.8" x2="326.9" y2="198.8" stroke="#b6b4c0" stroke-width="1.53" stroke-linecap="round"/>
<line x1="322.0" y1="186.7" x2="326.9" y2="198.6" stroke="#d9d8de" stroke-width="0.95" stroke-linecap="round"/>
<line x1="274.9" y1="238.1" x2="260.9" y2="259.3" stroke="#b6b4c0" stroke-width="2.71" stroke-linecap="round"/>
<line x1="274.9" y1="237.8" x2="260.9" y2="258.9" stroke="#e0dfe5" stroke-width="1.68" stroke-linecap="round"/>
<line x1="387.1" y1="220.6" x2="377.3" y2="229.9" stroke="#b6b4c0" stroke-width="2.27" stroke-linecap="round"/>
<line x1="387.1" y1="220.3" x2="377.3" y2="229.6" stroke="#e7e6eb" stroke-width="1.41" stroke-linecap="round"/>
<line x1="369.5" y1="176.9" x2="378.9" y2="182.0" stroke="#b6b4c0" stroke-width="1.53" stroke-linecap="round"/>
<line x1="369.5" y1="176.8" x2="378.9" y2="181.8" stroke="#e0dfe5" stroke-width="0.95" stroke-linecap="round"/>
<line x1="221.9" y1="236.3" x2="210.9" y2="260.5" stroke="#b6b4c0" stroke-width="2.63" stroke-linecap="round"/>
<line x1="221.9" y1="236.0" x2="210.9" y2="260.2" stroke="#e7e6eb" stroke-width="1.63" stroke-linecap="round"/>
<line x1="391.2" y1="195.0" x2="362.3" y2="197.0" stroke="#b6b4c0" stroke-width="1.61" stroke-linecap="round"/>
<line x1="391.2" y1="194.8" x2="362.3" y2="196.9" stroke="#d9d8de" stroke-width="1.00" stroke-linecap="round"/>
<line x1="294.0" y1="184.4" x2="285.1" y2="189.0" stroke="#b6b4c0" stroke-width="1.68" stroke-linecap="round"/>
<line x1="294.0" y1="184.2" x2="285.1" y2="188.8" stroke="#e0dfe5" stroke-width="1.04" stroke-linecap="round"/>
<line x1="315.8" y1="227.3" x2="296.2" y2="236.8" stroke="#b6b4c0" stroke-width="2.20" stroke-linecap="round"/>
<line x1="315.8" y1="227.0" x2="296.2" y2="236.5" stroke="#e0dfe5" stroke-width="1.36" stroke-linecap="round"/>
<line x1="341.5" y1="215.9" x2="320.2" y2="224.5" stroke="#b6b4c0" stroke-width="1.70" stroke-linecap="round"/>
<line x1="341.5" y1="215.7" x2="320.2" y2="224.3" stroke="#d9d8de" stroke-width="1.06" stroke-linecap="round"/>
<line x1="324.0" y1="157.1" x2="324.3" y2="161.1" stroke="#b6b4c0" stroke-width="0.95" stroke-linecap="round"/>
<line x1="324.0" y1="157.0" x2="324.3" y2="161.0" stroke="#e0dfe5" stroke-width="0.59" stroke-linecap="round"/>
<line x1="284.4" y1="212.3" x2="265.2" y2="218.6" stroke="#b6b4c0" stroke-width="2.24" stroke-linecap="round"/>
<line x1="284.4" y1="212.0" x2="265.2" y2="218.3" stroke="#d9d8de" stroke-width="1.39" stroke-linecap="round"/>
<line x1="288.3" y1="231.4" x2="319.0" y2="242.1" stroke="#b6b4c0" stroke-width="2.19" stroke-linecap="round"/>
<line x1="288.3" y1="231.1" x2="319.0" y2="241.8" stroke="#e7e6eb" stroke-width="1.36" stroke-linecap="round"/>
<line x1="329.0" y1="166.8" x2="313.6" y2="170.4" stroke="#b6b4c0" stroke-width="1.03" stroke-linecap="round"/>
<line x1="329.0" y1="166.6" x2="313.6" y2="170.3" stroke="#e7e6eb" stroke-width="0.64" stroke-linecap="round"/>
<line x1="335.0" y1="228.0" x2="325.0" y2="239.9" stroke="#b6b4c0" stroke-width="2.12" stroke-linecap="round"/>
<line x1="335.0" y1="227.8" x2="325.0" y2="239.6" stroke="#e0dfe5" stroke-width="1.31" stroke-linecap="round"/>
<line x1="180.0" y1="243.8" x2="200.6" y2="251.1" stroke="#b6b4c0" stroke-width="2.76" stroke-linecap="round"/>
<line x1="180.0" y1="243.4" x2="200.6" y2="250.7" stroke="#e0dfe5" stroke-width="1.71" stroke-linecap="round"/>
<line x1="310.6" y1="189.4" x2="328.7" y2="191.9" stroke="#b6b4c0" stroke-width="1.48" stroke-linecap="round"/>
<line x1="310.6" y1="189.2" x2="328.7" y2="191.7" stroke="#e0dfe5" stroke-width="0.92" stroke-linecap="round"/>
<line x1="370.3" y1="234.3" x2="403.5" y2="247.0" stroke="#b6b4c0" stroke-width="2.23" stroke-linecap="round"/>
<line x1="370.3" y1="234.1" x2="403.5" y2="246.7" stroke="#e0dfe5" stroke-width="1.38" stroke-linecap="round"/>
<line x1="244.6" y1="167.0" x2="263.0" y2="169.0" stroke="#b6b4c0" stroke-width="1.19" stroke-linecap="round"/>
<line x1="244.6" y1="166.9" x2="263.0" y2="168.9" stroke="#e0dfe5" stroke-width="0.74" stroke-linecap="round"/>
<line x1="267.9" y1="172.8" x2="262.3" y2="176.9" stroke="#b6b4c0" stroke-width="1.21" stroke-linecap="round"/>
<line x1="267.9" y1="172.6" x2="262.3" y2="176.8" stroke="#e7e6eb" stroke-width="0.75" stroke-linecap="round"/>
<line x1="277.1" y1="169.2" x2="271.4" y2="175.0" stroke="#b6b4c0" stroke-width="1.38" stroke-linecap="round"/>
<line x1="277.1" y1="169.1" x2="271.4" y2="174.9" stroke="#e0dfe5" stroke-width="0.85" stroke-linecap="round"/>
<line x1="237.8" y1="231.7" x2="260.0" y2="247.0" stroke="#b6b4c0" stroke-width="2.70" stroke-linecap="round"/>
<line x1="237.8" y1="231.3" x2="260.0" y2="246.7" stroke="#e7e6eb" stroke-width="1.67" stroke-linecap="round"/>
<line x1="328.9" y1="173.6" x2="339.4" y2="174.1" stroke="#b6b4c0" stroke-width="1.35" stroke-linecap="round"/>
<line x1="328.9" y1="173.5" x2="339.4" y2="173.9" stroke="#e0dfe5" stroke-width="0.84" stroke-linecap="round"/>
<line x1="393.4" y1="226.1" x2="385.9" y2="247.4" stroke="#b6b4c0" stroke-width="2.46" stroke-linecap="round"/>
<line x1="393.4" y1="225.8" x2="385.9" y2="247.1" stroke="#e7e6eb" stroke-width="1.53" stroke-linecap="round"/>
<line x1="400.5" y1="223.7" x2="417.5" y2="235.0" stroke="#b6b4c0" stroke-width="2.14" stroke-linecap="round"/>
<line x1="400.5" y1="223.5" x2="417.5" y2="234.8" stroke="#e0dfe5" stroke-width="1.32" stroke-linecap="round"/>
<line x1="387.2" y1="164.4" x2="382.6" y2="173.9" stroke="#b6b4c0" stroke-width="1.32" stroke-linecap="round"/>
<line x1="387.2" y1="164.3" x2="382.6" y2="173.7" stroke="#e0dfe5" stroke-width="0.82" stroke-linecap="round"/>
<line x1="393.1" y1="214.6" x2="391.6" y2="223.0" stroke="#b6b4c0" stroke-width="1.93" stroke-linecap="round"/>
<line x1="393.1" y1="214.4" x2="391.6" y2="222.8" stroke="#d9d8de" stroke-width="1.20" stroke-linecap="round"/>
<line x1="305.3" y1="158.6" x2="292.7" y2="162.3" stroke="#b6b4c0" stroke-width="1.16" stroke-linecap="round"/>
<line x1="305.3" y1="158.5" x2="292.7" y2="162.1" stroke="#e0dfe5" stroke-width="0.72" stroke-linecap="round"/>
<line x1="366.3" y1="165.7" x2="388.1" y2="166.7" stroke="#b6b4c0" stroke-width="0.94" stroke-linecap="round"/>
<line x1="366.3" y1="165.5" x2="388.1" y2="166.6" stroke="#e7e6eb" stroke-width="0.58" stroke-linecap="round"/>
<line x1="413.1" y1="224.1" x2="416.6" y2="242.5" stroke="#b6b4c0" stroke-width="1.99" stroke-linecap="round"/>
<line x1="413.1" y1="223.8" x2="416.6" y2="242.2" stroke="#e0dfe5" stroke-width="1.23" stroke-linecap="round"/>
<line x1="282.4" y1="227.7" x2="278.7" y2="235.7" stroke="#b6b4c0" stroke-width="2.03" stroke-linecap="round"/>
<line x1="282.4" y1="227.4" x2="278.7" y2="235.4" stroke="#e0dfe5" stroke-width="1.26" stroke-linecap="round"/>
<line x1="274.6" y1="164.0" x2="286.1" y2="164.5" stroke="#b6b4c0" stroke-width="1.14" stroke-linecap="round"/>
<line x1="274.6" y1="163.9" x2="286.1" y2="164.4" stroke="#d9d8de" stroke-width="0.71" stroke-linecap="round"/>
<line x1="399.3" y1="211.8" x2="371.8" y2="220.4" stroke="#b6b4c0" stroke-width="1.81" stroke-linecap="round"/>
<line x1="399.3" y1="211.6" x2="371.8" y2="220.2" stroke="#d9d8de" stroke-width="1.12" stroke-linecap="round"/>
<line x1="368.4" y1="184.3" x2="379.0" y2="194.9" stroke="#b6b4c0" stroke-width="1.18" stroke-linecap="round"/>
<line x1="368.4" y1="184.2" x2="379.0" y2="194.8" stroke="#e7e6eb" stroke-width="0.73" stroke-linecap="round"/>
<line x1="352.5" y1="181.5" x2="359.0" y2="189.6" stroke="#b6b4c0" stroke-width="1.13" stroke-linecap="round"/>
<line x1="352.5" y1="181.3" x2="359.0" y2="189.5" stroke="#e7e6eb" stroke-width="0.70" stroke-linecap="round"/>
<line x1="349.6" y1="177.2" x2="333.8" y2="178.0" stroke="#b6b4c0" stroke-width="1.53" stroke-linecap="round"/>
<line x1="349.6" y1="177.0" x2="333.8" y2="177.9" stroke="#e7e6eb" stroke-width="0.95" stroke-linecap="round"/>
<line x1="367.0" y1="231.8" x2="363.1" y2="244.9" stroke="#b6b4c0" stroke-width="2.02" stroke-linecap="round"/>
<line x1="367.0" y1="231.6" x2="363.1" y2="244.7" stroke="#e0dfe5" stroke-width="1.25" stroke-linecap="round"/>
<line x1="327.2" y1="198.6" x2="330.4" y2="212.7" stroke="#b6b4c0" stroke-width="2.06" stroke-linecap="round"/>
<line x1="327.2" y1="198.4" x2="330.4" y2="212.4" stroke="#e7e6eb" stroke-width="1.28" stroke-linecap="round"/>
<line x1="242.0" y1="225.8" x2="221.3" y2="239.7" stroke="#b6b4c0" stroke-width="2.63" stroke-linecap="round"/>
<line x1="242.0" y1="225.5" x2="221.3" y2="239.4" stroke="#e0dfe5" stroke-width="1.63" stroke-linecap="round"/>
<line x1="313.6" y1="174.6" x2="316.9" y2="185.8" stroke="#b6b4c0" stroke-width="1.26" stroke-linecap="round"/>
<line x1="313.6" y1="174.4" x2="316.9" y2="185.6" stroke="#d9d8de" stroke-width="0.78" stroke-linecap="round"/>
<line x1="307.4" y1="220.9" x2="323.0" y2="231.8" stroke="#b6b4c0" stroke-width="1.97" stroke-linecap="round"/>
<line x1="307.4" y1="220.7" x2="323.0" y2="231.5" stroke="#d9d8de" stroke-width="1.22" stroke-linecap="round"/>
<line x1="363.8" y1="162.4" x2="359.4" y2="168.1" stroke="#b6b4c0" stroke-width="0.87" stroke-linecap="round"/>
<line x1="363.8" y1="162.3" x2="359.4" y2="168.0" stroke="#d9d8de" stroke-width="0.54" stroke-linecap="round"/>
<line x1="263.1" y1="210.1" x2="264.9" y2="218.1" stroke="#b6b4c0" stroke-width="1.65" stroke-linecap="round"/>
<line x1="263.1" y1="209.9" x2="264.9" y2="217.9" stroke="#e7e6eb" stroke-width="1.02" stroke-linecap="round"/>
<line x1="383.2" y1="221.3" x2="398.8" y2="225.6" stroke="#b6b4c0" stroke-width="1.92" stroke-linecap="round"/>
<line x1="383.2" y1="221.0" x2="398.8" y2="225.4" stroke="#d9d8de" stroke-width="1.19" stroke-linecap="round"/>
<line x1="292.3" y1="177.1" x2="316.5" y2="177.9" stroke="#b6b4c0" stroke-width="1.54" stroke-linecap="round"/>
<line x1="292.3" y1="176.9" x2="316.5" y2="177.7" stroke="#e7e6eb" stroke-width="0.95" stroke-linecap="round"/>
<line x1="220.2" y1="225.4" x2="214.1" y2="235.5" stroke="#b6b4c0" stroke-width="1.70" stroke-linecap="round"/>
<line x1="220.2" y1="225.2" x2="214.1" y2="235.3" stroke="#d9d8de" stroke-width="1.06" stroke-linecap="round"/>
<line x1="305.6" y1="191.5" x2="281.2" y2="200.1" stroke="#b6b4c0" stroke-width="1.52" stroke-linecap="round"/>
<line x1="305.6" y1="191.3" x2="281.2" y2="200.0" stroke="#e0dfe5" stroke-width="0.94" stroke-linecap="round"/>
<line x1="246.3" y1="171.7" x2="231.3" y2="172.6" stroke="#b6b4c0" stroke-width="0.96" stroke-linecap="round"/>
<line x1="246.3" y1="171.6" x2="231.3" y2="172.5" stroke="#e0dfe5" stroke-width="0.60" stroke-linecap="round"/>
<line x1="358.0" y1="230.5" x2="349.4" y2="239.3" stroke="#b6b4c0" stroke-width="2.30" stroke-linecap="round"/>
<line x1="358.0" y1="230.2" x2="349.4" y2="239.0" stroke="#e7e6eb" stroke-width="1.42" stroke-linecap="round"/>
<line x1="420.1" y1="236.6" x2="401.1" y2="246.9" stroke="#b6b4c0" stroke-width="1.84" stroke-linecap="round"/>
<line x1="420.1" y1="236.4" x2="401.1" y2="246.7" stroke="#d9d8de" stroke-width="1.14" stroke-linecap="round"/>
<line x1="347.2" y1="210.5" x2="339.9" y2="223.4" stroke="#b6b4c0" stroke-width="2.14" stroke-linecap="round"/>
<line x1="347.2" y1="210.2" x2="339.9" y2="223.1" stroke="#e0dfe5" stroke-width="1.33" stroke-linecap="round"/>
<line x1="365.9" y1="190.6" x2="338.1" y2="195.1" stroke="#b6b4c0" stroke-width="1.82" stroke-linecap="round"/>
<line x1="365.9" y1="190.3" x2="338.1" y2="194.9" stroke="#e0dfe5" stroke-width="1.13" stroke-linecap="round"/>
<line x1="362.0" y1="163.5" x2="359.8" y2="167.7" stroke="#b6b4c0" stroke-width="1.12" stroke-linecap="round"/>
<line x1="362.0" y1="163.3" x2="359.8" y2="167.6" stroke="#e0dfe5" stroke-width="0.70" stroke-linecap="round"/>
<line x1="226.0" y1="185.0" x2="230.7" y2="200.3" stroke="#b6b4c0" stroke-width="1.55" stroke-linecap="round"/>
<line x1="226.0" y1="184.8" x2="230.7" y2="200.1" stroke="#e7e6eb" stroke-width="0.96" stroke-linecap="round"/>
<line x1="255.8" y1="192.8" x2="246.1" y2="197.4" stroke="#b6b4c0" stroke-width="1.25" stroke-linecap="round"/>
<line x1="255.8" y1="192.6" x2="246.1" y2="197.2" stroke="#e0dfe5" stroke-width="0.78" stroke-linecap="round"/>
<line x1="239.9" y1="177.6" x2="231.3" y2="183.9" stroke="#b6b4c0" stroke-width="1.49" stroke-linecap="round"/>
<line x1="239.9" y1="177.4" x2="231.3" y2="183.7" stroke="#e0dfe5" stroke-width="0.92" stroke-linecap="round"/>
<line x1="389.5" y1="191.3" x2="399.9" y2="200.8" stroke="#b6b4c0" stroke-width="1.83" stroke-linecap="round"/>
<line x1="389.5" y1="191.0" x2="399.9" y2="200.5" stroke="#e0dfe5" stroke-width="1.14" stroke-linecap="round"/>
<line x1="380.0" y1="191.2" x2="367.4" y2="195.0" stroke="#b6b4c0" stroke-width="1.83" stroke-linecap="round"/>
<line x1="380.0" y1="191.0" x2="367.4" y2="194.8" stroke="#d9d8de" stroke-width="1.14" stroke-linecap="round"/>
<line x1="270.4" y1="190.0" x2="297.9" y2="194.6" stroke="#b6b4c0" stroke-width="1.47" stroke-linecap="round"/>
<line x1="270.4" y1="189.9" x2="297.9" y2="194.4" stroke="#d9d8de" stroke-width="0.91" stroke-linecap="round"/>
<line x1="256.3" y1="231.8" x2="299.6" y2="238.3" stroke="#b6b4c0" stroke-width="2.20" stroke-linecap="round"/>
<line x1="256.3" y1="231.5" x2="299.6" y2="238.1" stroke="#d9d8de" stroke-width="1.36" stroke-linecap="round"/>
<line x1="317.0" y1="209.4" x2="316.9" y2="221.5" stroke="#b6b4c0" stroke-width="1.63" stroke-linecap="round"/>
<line x1="317.0" y1="209.2" x2="316.9" y2="221.3" stroke="#e0dfe5" stroke-width="1.01" stroke-linecap="round"/>
<line x1="310.7" y1="232.4" x2="342.9" y2="248.6" stroke="#b6b4c0" stroke-width="2.01" stroke-linecap="round"/>
<line x1="310.7" y1="232.1" x2="342.9" y2="248.4" stroke="#e0dfe5" stroke-width="1.24" stroke-linecap="round"/>
<line x1="382.1" y1="242.3" x2="354.4" y2="253.2" stroke="#b6b4c0" stroke-width="2.67" stroke-linecap="round"/>
<line x1="382.1" y1="242.0" x2="354.4" y2="252.9" stroke="#e0dfe5" stroke-width="1.65" stroke-linecap="round"/>
<line x1="329.1" y1="170.8" x2="342.2" y2="181.3" stroke="#b6b4c0" stroke-width="1.09" stroke-linecap="round"/>
<line x1="329.1" y1="170.7" x2="342.2" y2="181.2" stroke="#e7e6eb" stroke-width="0.68" stroke-linecap="round"/>
<line x1="268.6" y1="236.0" x2="309.2" y2="236.7" stroke="#b6b4c0" stroke-width="2.69" stroke-linecap="round"/>
<line x1="268.6" y1="235.7" x2="309.2" y2="236.4" stroke="#e0dfe5" stroke-width="1.67" stroke-linecap="round"/>
<line x1="397.2" y1="187.2" x2="405.9" y2="197.3" stroke="#b6b4c0" stroke-width="1.40" stroke-linecap="round"/>
<line x1="397.2" y1="187.0" x2="405.9" y2="197.2" stroke="#e7e6eb" stroke-width="0.87" stroke-linecap="round"/>
<line x1="419.2" y1="195.2" x2="391.6" y2="201.9" stroke="#b6b4c0" stroke-width="1.77" stroke-linecap="round"/>
<line x1="419.2" y1="195.0" x2="391.6" y2="201.7" stroke="#e0dfe5" stroke-width="1.10" stroke-linecap="round"/>
<line x1="271.7" y1="221.2" x2="251.3" y2="223.3" stroke="#b6b4c0" stroke-width="1.96" stroke-linecap="round"/>
<line x1="271.7" y1="220.9" x2="251.3" y2="223.0" stroke="#e7e6eb" stroke-width="1.22" stroke-linecap="round"/>
<line x1="377.2" y1="173.7" x2="381.6" y2="178.7" stroke="#b6b4c0" stroke-width="1.51" stroke-linecap="round"/>
<line x1="377.2" y1="173.6" x2="381.6" y2="178.5" stroke="#e7e6eb" stroke-width="0.93" stroke-linecap="round"/>
<line x1="256.0" y1="200.8" x2="249.3" y2="206.7" stroke="#b6b4c0" stroke-width="1.36" stroke-linecap="round"/>
<line x1="256.0" y1="200.7" x2="249.3" y2="206.6" stroke="#e7e6eb" stroke-width="0.85" stroke-linecap="round"/>
<line x1="375.0" y1="177.8" x2="390.2" y2="188.6" stroke="#b6b4c0" stroke-width="1.16" stroke-linecap="round"/>
<line x1="375.0" y1="177.7" x2="390.2" y2="188.5" stroke="#d9d8de" stroke-width="0.72" stroke-linecap="round"/>
<line x1="404.9" y1="211.7" x2="427.4" y2="228.9" stroke="#b6b4c0" stroke-width="2.07" stroke-linecap="round"/>
<line x1="404.9" y1="211.5" x2="427.4" y2="228.6" stroke="#e7e6eb" stroke-width="1.28" stroke-linecap="round"/>
<line x1="277.5" y1="172.7" x2="290.6" y2="183.2" stroke="#b6b4c0" stroke-width="1.03" stroke-linecap="round"/>
<line x1="277.5" y1="172.5" x2="290.6" y2="183.0" stroke="#d9d8de" stroke-width="0.64" stroke-linecap="round"/>
<line x1="382.8" y1="177.6" x2="400.7" y2="181.3" stroke="#b6b4c0" stroke-width="1.46" stroke-linecap="round"/>
<line x1="382.8" y1="177.4" x2="400.7" y2="181.1" stroke="#e0dfe5" stroke-width="0.90" stroke-linecap="round"/>
<line x1="303.9" y1="201.7" x2="317.8" y2="209.1" stroke="#b6b4c0" stroke-width="1.50" stroke-linecap="round"/>
<line x1="303.9" y1="201.6" x2="317.8" y2="208.9" stroke="#d9d8de" stroke-width="0.93" stroke-linecap="round"/>
<line x1="199.8" y1="230.9" x2="235.1" y2="231.9" stroke="#b6b4c0" stroke-width="1.76" stroke-linecap="round"/>
<line x1="199.8" y1="230.7" x2="235.1" y2="231.7" stroke="#e7e6eb" stroke-width="1.09" stroke-linecap="round"/>
<line x1="350.1" y1="241.1" x2="379.9" y2="249.3" stroke="#b6b4c0" stroke-width="2.12" stroke-linecap="round"/>
<line x1="350.1" y1="240.8" x2="379.9" y2="249.1" stroke="#d9d8de" stroke-width="1.31" stroke-linecap="round"/>
<line x1="343.9" y1="214.5" x2="363.6" y2="216.2" stroke="#b6b4c0" stroke-width="1.79" stroke-linecap="round"/>
<line x1="343.9" y1="214.2" x2="363.6" y2="216.0" stroke="#e7e6eb" stroke-width="1.11" stroke-linecap="round"/>
<line x1="278.6" y1="208.4" x2="261.9" y2="209.7" stroke="#b6b4c0" stroke-width="2.07" stroke-linecap="round"/>
<line x1="278.6" y1="208.2" x2="261.9" y2="209.5" stroke="#e0dfe5" stroke-width="1.28" stroke-linecap="round"/>
<line x1="240.7" y1="177.1" x2="252.7" y2="179.6" stroke="#b6b4c0" stroke-width="1.50" stroke-linecap="round"/>
<line x1="240.7" y1="176.9" x2="252.7" y2="179.5" stroke="#d9d8de" stroke-width="0.93" stroke-linecap="round"/>
<line x1="306.3" y1="155.8" x2="298.3" y2="161.7" stroke="#b6b4c0" stroke-width="0.98" stroke-linecap="round"/>
<line x1="306.3" y1="155.7" x2="298.3" y2="161.6" stroke="#e0dfe5" stroke-width="0.61" stroke-linecap="round"/>
<line x1="308.8" y1="185.0" x2="320.7" y2="191.2" stroke="#b6b4c0" stroke-width="1.25" stroke-linecap="round"/>
<line x1="308.8" y1="184.8" x2="320.7" y2="191.1" stroke="#e0dfe5" stroke-width="0.78" stroke-linecap="round"/>
<line x1="379.0" y1="202.9" x2="370.9" y2="216.2" stroke="#b6b4c0" stroke-width="1.92" stroke-linecap="round"/>
<line x1="379.0" y1="202.7" x2="370.9" y2="216.0" stroke="#e7e6eb" stroke-width="1.19" stroke-linecap="round"/>
<line x1="223.6" y1="217.8" x2="199.7" y2="224.2" stroke="#b6b4c0" stroke-width="1.85" stroke-linecap="round"/>
<line x1="223.6" y1="217.6" x2="199.7" y2="224.0" stroke="#d9d8de" stroke-width="1.15" stroke-linecap="round"/>
<line x1="265.6" y1="227.1" x2="293.3" y2="228.1" stroke="#b6b4c0" stroke-width="2.05" stroke-linecap="round"/>
<line x1="265.6" y1="226.8" x2="293.3" y2="227.9" stroke="#d9d8de" stroke-width="1.27" stroke-linecap="round"/>
<line x1="219.4" y1="208.4" x2="216.7" y2="216.9" stroke="#b6b4c0" stroke-width="2.23" stroke-linecap="round"/>
<line x1="219.4" y1="208.2" x2="216.7" y2="216.6" stroke="#e0dfe5" stroke-width="1.38" stroke-linecap="round"/>
<line x1="367.9" y1="182.1" x2="369.8" y2="187.8" stroke="#b6b4c0" stroke-width="1.25" stroke-linecap="round"/>
<line x1="367.9" y1="181.9" x2="369.8" y2="187.7" stroke="#e0dfe5" stroke-width="0.77" stroke-linecap="round"/>
<line x1="262.9" y1="185.9" x2="286.4" y2="195.9" stroke="#b6b4c0" stroke-width="1.38" stroke-linecap="round"/>
<line x1="262.9" y1="185.7" x2="286.4" y2="195.7" stroke="#e0dfe5" stroke-width="0.86" stroke-linecap="round"/>
<line x1="318.0" y1="201.2" x2="330.2" y2="202.4" stroke="#b6b4c0" stroke-width="1.71" stroke-linecap="round"/>
<line x1="318.0" y1="201.0" x2="330.2" y2="202.2" stroke="#e7e6eb" stroke-width="1.06" stroke-linecap="round"/>
<line x1="351.7" y1="194.5" x2="334.4" y2="199.8" stroke="#b6b4c0" stroke-width="1.67" stroke-linecap="round"/>
<line x1="351.7" y1="194.3" x2="334.4" y2="199.6" stroke="#d9d8de" stroke-width="1.03" stroke-linecap="round"/>
<line x1="354.9" y1="185.1" x2="347.1" y2="198.6" stroke="#b6b4c0" stroke-width="1.45" stroke-linecap="round"/>
<line x1="354.9" y1="185.0" x2="347.1" y2="198.5" stroke="#e0dfe5" stroke-width="0.90" stroke-linecap="round"/>
<line x1="281.4" y1="173.0" x2="269.0" y2="176.8" stroke="#b6b4c0" stroke-width="1.05" stroke-linecap="round"/>
<line x1="281.4" y1="172.8" x2="269.0" y2="176.7" stroke="#d9d8de" stroke-width="0.65" stroke-linecap="round"/>
<line x1="352.1" y1="197.9" x2="375.9" y2="210.5" stroke="#b6b4c0" stroke-width="1.87" stroke-linecap="round"/>
<line x1="352.1" y1="197.7" x2="375.9" y2="210.3" stroke="#e0dfe5" stroke-width="1.16" stroke-linecap="round"/>
<line x1="319.8" y1="202.6" x2="345.0" y2="206.2" stroke="#b6b4c0" stroke-width="1.56" stroke-linecap="round"/>
<line x1="319.8" y1="202.4" x2="345.0" y2="206.0" stroke="#d9d8de" stroke-width="0.97" stroke-linecap="round"/>
<line x1="231.5" y1="238.5" x2="215.0" y2="250.1" stroke="#b6b4c0" stroke-width="1.96" stroke-linecap="round"/>
<line x1="231.5" y1="238.2" x2="215.0" y2="249.9" stroke="#e0dfe5" stroke-width="1.22" stroke-linecap="round"/>
<line x1="389.5" y1="230.6" x2="369.4" y2="252.5" stroke="#b6b4c0" stroke-width="2.40" stroke-linecap="round"/>
<line x1="389.5" y1="230.3" x2="369.4" y2="252.2" stroke="#e7e6eb" stroke-width="1.49" stroke-linecap="round"/>
<line x1="388.1" y1="199.6" x2="365.3" y2="201.0" stroke="#b6b4c0" stroke-width="1.95" stroke-linecap="round"/>
<line x1="388.1" y1="199.3" x2="365.3" y2="200.8" stroke="#e7e6eb" stroke-width="1.21" stroke-linecap="round"/>
<line x1="323.2" y1="200.7" x2="338.2" y2="215.8" stroke="#b6b4c0" stroke-width="2.06" stroke-linecap="round"/>
<line x1="323.2" y1="200.4" x2="338.2" y2="215.5" stroke="#e7e6eb" stroke-width="1.28" stroke-linecap="round"/>
<line x1="349.0" y1="207.0" x2="333.1" y2="214.9" stroke="#b6b4c0" stroke-width="1.71" stroke-linecap="round"/>
<line x1="349.0" y1="206.8" x2="333.1" y2="214.7" stroke="#d9d8de" stroke-width="1.06" stroke-linecap="round"/>
<line x1="333.9" y1="236.7" x2="348.7" y2="245.5" stroke="#b6b4c0" stroke-width="2.44" stroke-linecap="round"/>
<line x1="333.9" y1="236.4" x2="348.7" y2="245.2" stroke="#d9d8de" stroke-width="1.51" stroke-linecap="round"/>
<line x1="293.9" y1="237.9" x2="310.5" y2="240.1" stroke="#b6b4c0" stroke-width="2.47" stroke-linecap="round"/>
<line x1="293.9" y1="237.6" x2="310.5" y2="239.8" stroke="#d9d8de" stroke-width="1.53" stroke-linecap="round"/>
<line x1="333.4" y1="220.2" x2="337.5" y2="231.7" stroke="#b6b4c0" stroke-width="2.04" stroke-linecap="round"/>
<line x1="333.4" y1="219.9" x2="337.5" y2="231.5" stroke="#e0dfe5" stroke-width="1.27" stroke-linecap="round"/>
<line x1="245.8" y1="225.6" x2="229.8" y2="227.9" stroke="#b6b4c0" stroke-width="1.66" stroke-linecap="round"/>
<line x1="245.8" y1="225.4" x2="229.8" y2="227.7" stroke="#d9d8de" stroke-width="1.03" stroke-linecap="round"/>
<line x1="322.5" y1="186.2" x2="315.5" y2="198.6" stroke="#b6b4c0" stroke-width="1.39" stroke-linecap="round"/>
<line x1="322.5" y1="186.0" x2="315.5" y2="198.4" stroke="#e0dfe5" stroke-width="0.86" stroke-linecap="round"/>
<line x1="247.4" y1="229.7" x2="239.9" y2="244.5" stroke="#b6b4c0" stroke-width="2.69" stroke-linecap="round"/>
<line x1="247.4" y1="229.4" x2="239.9" y2="244.2" stroke="#e7e6eb" stroke-width="1.67" stroke-linecap="round"/>
<line x1="324.3" y1="186.7" x2="339.4" y2="198.6" stroke="#b6b4c0" stroke-width="1.71" stroke-linecap="round"/>
<line x1="324.3" y1="186.4" x2="339.4" y2="198.4" stroke="#e0dfe5" stroke-width="1.06" stroke-linecap="round"/>
<line x1="321.5" y1="209.1" x2="302.1" y2="224.4" stroke="#b6b4c0" stroke-width="1.92" stroke-linecap="round"/>
<line x1="321.5" y1="208.8" x2="302.1" y2="224.2" stroke="#e0dfe5" stroke-width="1.19" stroke-linecap="round"/>
<line x1="362.1" y1="169.3" x2="350.0" y2="170.6" stroke="#b6b4c0" stroke-width="1.28" stroke-linecap="round"/>
<line x1="362.1" y1="169.1" x2="350.0" y2="170.5" stroke="#d9d8de" stroke-width="0.79" stroke-linecap="round"/>
<line x1="252.3" y1="213.5" x2="220.0" y2="223.5" stroke="#b6b4c0" stroke-width="1.88" stroke-linecap="round"/>
<line x1="252.3" y1="213.3" x2="220.0" y2="223.2" stroke="#d9d8de" stroke-width="1.17" stroke-linecap="round"/>
<line x1="259.3" y1="221.8" x2="276.3" y2="223.0" stroke="#b6b4c0" stroke-width="1.80" stroke-linecap="round"/>
<line x1="259.3" y1="221.6" x2="276.3" y2="222.8" stroke="#e0dfe5" stroke-width="1.11" stroke-linecap="round"/>
<line x1="405.4" y1="223.1" x2="392.0" y2="229.8" stroke="#b6b4c0" stroke-width="1.98" stroke-linecap="round"/>
<line x1="405.4" y1="222.8" x2="392.0" y2="229.5" stroke="#e7e6eb" stroke-width="1.23" stroke-linecap="round"/>
<line x1="441.0" y1="231.2" x2="408.8" y2="241.5" stroke="#b6b4c0" stroke-width="2.52" stroke-linecap="round"/>
<line x1="441.0" y1="230.9" x2="408.8" y2="241.2" stroke="#e7e6eb" stroke-width="1.56" stroke-linecap="round"/>
<line x1="224.7" y1="195.0" x2="231.3" y2="200.0" stroke="#b6b4c0" stroke-width="1.43" stroke-linecap="round"/>
<line x1="224.7" y1="194.8" x2="231.3" y2="199.8" stroke="#e7e6eb" stroke-width="0.89" stroke-linecap="round"/>
<line x1="395.9" y1="186.3" x2="384.0" y2="195.6" stroke="#b6b4c0" stroke-width="1.73" stroke-linecap="round"/>
<line x1="395.9" y1="186.0" x2="384.0" y2="195.4" stroke="#e7e6eb" stroke-width="1.07" stroke-linecap="round"/>
<line x1="392.3" y1="211.3" x2="411.7" y2="213.5" stroke="#b6b4c0" stroke-width="1.49" stroke-linecap="round"/>
<line x1="392.3" y1="211.1" x2="411.7" y2="213.3" stroke="#e7e6eb" stroke-width="0.93" stroke-linecap="round"/>
<line x1="350.8" y1="214.2" x2="339.1" y2="218.1" stroke="#b6b4c0" stroke-width="2.26" stroke-linecap="round"/>
<line x1="350.8" y1="213.9" x2="339.1" y2="217.8" stroke="#d9d8de" stroke-width="1.40" stroke-linecap="round"/>
<line x1="272.0" y1="232.8" x2="265.7" y2="242.7" stroke="#b6b4c0" stroke-width="2.14" stroke-linecap="round"/>
<line x1="272.0" y1="232.5" x2="265.7" y2="242.4" stroke="#e7e6eb" stroke-width="1.32" stroke-linecap="round"/>
<line x1="350.1" y1="177.9" x2="351.8" y2="184.0" stroke="#b6b4c0" stroke-width="1.23" stroke-linecap="round"/>
<line x1="350.1" y1="177.8" x2="351.8" y2="183.9" stroke="#e7e6eb" stroke-width="0.76" stroke-linecap="round"/>
<line x1="357.6" y1="179.4" x2="376.6" y2="182.0" stroke="#b6b4c0" stroke-width="1.23" stroke-linecap="round"/>
<line x1="357.6" y1="179.3" x2="376.6" y2="181.9" stroke="#e0dfe5" stroke-width="0.76" stroke-linecap="round"/>
<line x1="386.6" y1="185.0" x2="366.6" y2="186.8" stroke="#b6b4c0" stroke-width="1.10" stroke-linecap="round"/>
<line x1="386.6" y1="184.8" x2="366.6" y2="186.7" stroke="#e0dfe5" stroke-width="0.68" stroke-linecap="round"/>
<line x1="328.7" y1="222.4" x2="307.6" y2="234.2" stroke="#b6b4c0" stroke-width="2.01" stroke-linecap="round"/>
<line x1="328.7" y1="222.2" x2="307.6" y2="233.9" stroke="#e7e6eb" stroke-width="1.25" stroke-linecap="round"/>
<line x1="334.9" y1="168.6" x2="323.7" y2="168.6" stroke="#b6b4c0" stroke-width="1.17" stroke-linecap="round"/>
<line x1="334.9" y1="168.5" x2="323.7" y2="168.5" stroke="#d9d8de" stroke-width="0.72" stroke-linecap="round"/>
<line x1="269.4" y1="212.1" x2="293.9" y2="223.5" stroke="#b6b4c0" stroke-width="2.32" stroke-linecap="round"/>
<line x1="269.4" y1="211.8" x2="293.9" y2="223.2" stroke="#e7e6eb" stroke-width="1.44" stroke-linecap="round"/>
<line x1="365.7" y1="192.2" x2="349.7" y2="197.6" stroke="#b6b4c0" stroke-width="1.73" stroke-linecap="round"/>
<line x1="365.7" y1="192.0" x2="349.7" y2="197.3" stroke="#d9d8de" stroke-width="1.07" stroke-linecap="round"/>
<line x1="358.0" y1="196.9" x2="366.0" y2="206.4" stroke="#b6b4c0" stroke-width="1.92" stroke-linecap="round"/>
<line x1="358.0" y1="196.7" x2="366.0" y2="206.1" stroke="#e0dfe5" stroke-width="1.19" stroke-linecap="round"/>
<line x1="246.6" y1="184.5" x2="245.1" y2="194.4" stroke="#b6b4c0" stroke-width="1.31" stroke-linecap="round"/>
<line x1="246.6" y1="184.3" x2="245.1" y2="194.2" stroke="#d9d8de" stroke-width="0.81" stroke-linecap="round"/>
<line x1="293.9" y1="206.1" x2="272.7" y2="211.3" stroke="#b6b4c0" stroke-width="1.80" stroke-linecap="round"/>
<line x1="293.9" y1="205.9" x2="272.7" y2="211.1" stroke="#e7e6eb" stroke-width="1.11" stroke-linecap="round"/>
<line x1="402.6" y1="208.3" x2="410.2" y2="217.5" stroke="#b6b4c0" stroke-width="2.06" stroke-linecap="round"/>
<line x1="402.6" y1="208.0" x2="410.2" y2="217.3" stroke="#d9d8de" stroke-width="1.28" stroke-linecap="round"/>
<line x1="331.4" y1="200.8" x2="339.8" y2="206.4" stroke="#b6b4c0" stroke-width="1.74" stroke-linecap="round"/>
<line x1="331.4" y1="200.6" x2="339.8" y2="206.2" stroke="#e0dfe5" stroke-width="1.08" stroke-linecap="round"/>
<line x1="381.0" y1="161.9" x2="389.8" y2="172.3" stroke="#b6b4c0" stroke-width="1.22" stroke-linecap="round"/>
<line x1="381.0" y1="161.7" x2="389.8" y2="172.2" stroke="#d9d8de" stroke-width="0.76" stroke-linecap="round"/>
<line x1="312.1" y1="230.3" x2="340.9" y2="234.9" stroke="#b6b4c0" stroke-width="2.49" stroke-linecap="round"/>
<line x1="312.1" y1="230.0" x2="340.9" y2="234.6" stroke="#d9d8de" stroke-width="1.54" stroke-linecap="round"/>
<line x1="382.4" y1="203.6" x2="354.3" y2="212.4" stroke="#b6b4c0" stroke-width="1.60" stroke-linecap="round"/>
<line x1="382.4" y1="203.4" x2="354.3" y2="212.2" stroke="#d9d8de" stroke-width="0.99" stroke-linecap="round"/>
<line x1="317.6" y1="245.6" x2="341.3" y2="245.9" stroke="#b6b4c0" stroke-width="2.57" stroke-linecap="round"/>
<line x1="317.6" y1="245.2" x2="341.3" y2="245.6" stroke="#d9d8de" stroke-width="1.60" stroke-linecap="round"/>
<line x1="334.1" y1="186.0" x2="337.9" y2="197.2" stroke="#b6b4c0" stroke-width="1.37" stroke-linecap="round"/>
<line x1="334.1" y1="185.9" x2="337.9" y2="197.1" stroke="#d9d8de" stroke-width="0.85" stroke-linecap="round"/>
<line x1="412.3" y1="221.7" x2="391.2" y2="225.0" stroke="#b6b4c0" stroke-width="2.03" stroke-linecap="round"/>
<line x1="412.3" y1="221.4" x2="391.2" y2="224.8" stroke="#e0dfe5" stroke-width="1.26" stroke-linecap="round"/>
<line x1="329.5" y1="225.3" x2="343.4" y2="244.3" stroke="#b6b4c0" stroke-width="1.95" stroke-linecap="round"/>
<line x1="329.5" y1="225.1" x2="343.4" y2="244.1" stroke="#d9d8de" stroke-width="1.21" stroke-linecap="round"/>
<line x1="219.5" y1="224.1" x2="197.4" y2="240.6" stroke="#b6b4c0" stroke-width="2.39" stroke-linecap="round"/>
<line x1="219.5" y1="223.9" x2="197.4" y2="240.3" stroke="#e7e6eb" stroke-width="1.48" stroke-linecap="round"/>
<line x1="352.5" y1="229.9" x2="323.0" y2="236.5" stroke="#b6b4c0" stroke-width="1.81" stroke-linecap="round"/>
<line x1="352.5" y1="229.7" x2="323.0" y2="236.3" stroke="#d9d8de" stroke-width="1.12" stroke-linecap="round"/>
<line x1="347.3" y1="207.9" x2="377.3" y2="219.7" stroke="#b6b4c0" stroke-width="2.20" stroke-linecap="round"/>
<line x1="347.3" y1="207.6" x2="377.3" y2="219.4" stroke="#e0dfe5" stroke-width="1.36" stroke-linecap="round"/>
<line x1="305.7" y1="226.3" x2="305.3" y2="235.2" stroke="#b6b4c0" stroke-width="1.86" stroke-linecap="round"/>
<line x1="305.7" y1="226.0" x2="305.3" y2="235.0" stroke="#e0dfe5" stroke-width="1.15" stroke-linecap="round"/>
<line x1="326.4" y1="171.6" x2="334.7" y2="184.1" stroke="#b6b4c0" stroke-width="1.35" stroke-linecap="round"/>
<line x1="326.4" y1="171.5" x2="334.7" y2="184.0" stroke="#e0dfe5" stroke-width="0.84" stroke-linecap="round"/>
<line x1="228.6" y1="190.0" x2="229.7" y2="197.0" stroke="#b6b4c0" stroke-width="1.84" stroke-linecap="round"/>
<line x1="228.6" y1="189.7" x2="229.7" y2="196.8" stroke="#d9d8de" stroke-width="1.14" stroke-linecap="round"/>
<line x1="390.4" y1="213.6" x2="376.7" y2="224.9" stroke="#b6b4c0" stroke-width="2.17" stroke-linecap="round"/>
<line x1="390.4" y1="213.3" x2="376.7" y2="224.6" stroke="#e7e6eb" stroke-width="1.35" stroke-linecap="round"/>
<line x1="277.0" y1="230.6" x2="285.3" y2="244.3" stroke="#b6b4c0" stroke-width="2.17" stroke-linecap="round"/>
<line x1="277.0" y1="230.3" x2="285.3" y2="244.0" stroke="#e7e6eb" stroke-width="1.34" stroke-linecap="round"/>
<line x1="392.7" y1="240.6" x2="401.4" y2="250.6" stroke="#b6b4c0" stroke-width="2.15" stroke-linecap="round"/>
<line x1="392.7" y1="240.4" x2="401.4" y2="250.3" stroke="#e0dfe5" stroke-width="1.34" stroke-linecap="round"/>
<line x1="368.7" y1="170.9" x2="382.3" y2="178.3" stroke="#b6b4c0" stroke-width="1.32" stroke-linecap="round"/>
<line x1="368.7" y1="170.7" x2="382.3" y2="178.2" stroke="#e0dfe5" stroke-width="0.82" stroke-linecap="round"/>
<line x1="337.1" y1="243.3" x2="329.2" y2="253.6" stroke="#b6b4c0" stroke-width="2.62" stroke-linecap="round"/>
<line x1="337.1" y1="243.0" x2="329.2" y2="253.3" stroke="#e0dfe5" stroke-width="1.62" stroke-linecap="round"/>
<line x1="244.7" y1="241.6" x2="274.0" y2="250.5" stroke="#b6b4c0" stroke-width="2.52" stroke-linecap="round"/>
<line x1="244.7" y1="241.3" x2="274.0" y2="250.2" stroke="#d9d8de" stroke-width="1.56" stroke-linecap="round"/>
<line x1="319.8" y1="235.0" x2="325.5" y2="243.2" stroke="#b6b4c0" stroke-width="2.56" stroke-linecap="round"/>
<line x1="319.8" y1="234.7" x2="325.5" y2="242.9" stroke="#d9d8de" stroke-width="1.59" stroke-linecap="round"/>
<line x1="299.0" y1="193.1" x2="310.1" y2="206.6" stroke="#b6b4c0" stroke-width="2.00" stroke-linecap="round"/>
<line x1="299.0" y1="192.9" x2="310.1" y2="206.3" stroke="#e7e6eb" stroke-width="1.24" stroke-linecap="round"/>
<line x1="299.1" y1="177.6" x2="288.6" y2="178.5" stroke="#b6b4c0" stroke-width="1.03" stroke-linecap="round"/>
<line x1="299.1" y1="177.5" x2="288.6" y2="178.4" stroke="#e0dfe5" stroke-width="0.64" stroke-linecap="round"/>
<line x1="380.5" y1="171.0" x2="372.6" y2="182.8" stroke="#b6b4c0" stroke-width="1.09" stroke-linecap="round"/>
<line x1="380.5" y1="170.9" x2="372.6" y2="182.7" stroke="#e0dfe5" stroke-width="0.67" stroke-linecap="round"/>
<line x1="375.3" y1="246.8" x2="339.6" y2="251.9" stroke="#b6b4c0" stroke-width="2.26" stroke-linecap="round"/>
<line x1="375.3" y1="246.6" x2="339.6" y2="251.6" stroke="#e0dfe5" stroke-width="1.40" stroke-linecap="round"/>
<line x1="389.1" y1="177.1" x2="393.2" y2="190.7" stroke="#b6b4c0" stroke-width="1.67" stroke-linecap="round"/>
<line x1="389.1" y1="176.9" x2="393.2" y2="190.5" stroke="#e0dfe5" stroke-width="1.04" stroke-linecap="round"/>
<line x1="405.2" y1="236.7" x2="381.8" y2="244.4" stroke="#b6b4c0" stroke-width="2.27" stroke-linecap="round"/>
<line x1="405.2" y1="236.4" x2="381.8" y2="244.1" stroke="#e7e6eb" stroke-width="1.41" stroke-linecap="round"/>
<line x1="336.3" y1="232.3" x2="342.9" y2="240.4" stroke="#b6b4c0" stroke-width="2.43" stroke-linecap="round"/>
<line x1="336.3" y1="232.0" x2="342.9" y2="240.1" stroke="#e0dfe5" stroke-width="1.51" stroke-linecap="round"/>
<line x1="222.9" y1="183.3" x2="231.4" y2="196.9" stroke="#b6b4c0" stroke-width="1.26" stroke-linecap="round"/>
<line x1="222.9" y1="183.2" x2="231.4" y2="196.8" stroke="#e7e6eb" stroke-width="0.78" stroke-linecap="round"/>
<line x1="282.8" y1="169.7" x2="305.2" y2="172.6" stroke="#b6b4c0" stroke-width="0.98" stroke-linecap="round"/>
<line x1="282.8" y1="169.5" x2="305.2" y2="172.4" stroke="#e0dfe5" stroke-width="0.61" stroke-linecap="round"/>
<line x1="302.9" y1="206.0" x2="278.0" y2="218.0" stroke="#b6b4c0" stroke-width="1.66" stroke-linecap="round"/>
<line x1="302.9" y1="205.8" x2="278.0" y2="217.8" stroke="#d9d8de" stroke-width="1.03" stroke-linecap="round"/>
<line x1="334.7" y1="205.0" x2="327.9" y2="220.7" stroke="#b6b4c0" stroke-width="2.02" stroke-linecap="round"/>
<line x1="334.7" y1="204.7" x2="327.9" y2="220.5" stroke="#d9d8de" stroke-width="1.25" stroke-linecap="round"/>
<line x1="355.1" y1="210.7" x2="359.7" y2="228.0" stroke="#b6b4c0" stroke-width="1.68" stroke-linecap="round"/>
<line x1="355.1" y1="210.5" x2="359.7" y2="227.8" stroke="#e7e6eb" stroke-width="1.04" stroke-linecap="round"/>
<line x1="264.0" y1="170.6" x2="268.9" y2="178.2" stroke="#b6b4c0" stroke-width="1.33" stroke-linecap="round"/>
<line x1="264.0" y1="170.5" x2="268.9" y2="178.0" stroke="#e7e6eb" stroke-width="0.82" stroke-linecap="round"/>
<line x1="313.2" y1="200.2" x2="294.0" y2="213.9" stroke="#b6b4c0" stroke-width="2.15" stroke-linecap="round"/>
<line x1="313.2" y1="200.0" x2="294.0" y2="213.6" stroke="#e0dfe5" stroke-width="1.33" stroke-linecap="round"/>
<line x1="425.7" y1="244.0" x2="402.2" y2="246.6" stroke="#b6b4c0" stroke-width="2.49" stroke-linecap="round"/>
<line x1="425.7" y1="243.7" x2="402.2" y2="246.3" stroke="#e0dfe5" stroke-width="1.55" stroke-linecap="round"/>
<line x1="274.6" y1="176.3" x2="282.3" y2="181.8" stroke="#b6b4c0" stroke-width="1.16" stroke-linecap="round"/>
<line x1="274.6" y1="176.1" x2="282.3" y2="181.6" stroke="#d9d8de" stroke-width="0.72" stroke-linecap="round"/>
<line x1="380.1" y1="214.6" x2="378.8" y2="229.2" stroke="#b6b4c0" stroke-width="2.37" stroke-linecap="round"/>
<line x1="380.1" y1="214.3" x2="378.8" y2="228.9" stroke="#d9d8de" stroke-width="1.47" stroke-linecap="round"/>
<line x1="354.8" y1="187.7" x2="337.5" y2="197.4" stroke="#b6b4c0" stroke-width="1.44" stroke-linecap="round"/>
<line x1="354.8" y1="187.5" x2="337.5" y2="197.2" stroke="#e0dfe5" stroke-width="0.90" stroke-linecap="round"/>
<line x1="344.0" y1="189.7" x2="354.5" y2="192.4" stroke="#b6b4c0" stroke-width="1.35" stroke-linecap="round"/>
<line x1="344.0" y1="189.5" x2="354.5" y2="192.3" stroke="#d9d8de" stroke-width="0.84" stroke-linecap="round"/>
<line x1="410.2" y1="229.7" x2="391.4" y2="230.5" stroke="#b6b4c0" stroke-width="2.33" stroke-linecap="round"/>
<line x1="410.2" y1="229.4" x2="391.4" y2="230.3" stroke="#e0dfe5" stroke-width="1.45" stroke-linecap="round"/>
<line x1="326.4" y1="169.3" x2="336.2" y2="172.7" stroke="#b6b4c0" stroke-width="0.90" stroke-linecap="round"/>
<line x1="326.4" y1="169.2" x2="336.2" y2="172.5" stroke="#d9d8de" stroke-width="0.56" stroke-linecap="round"/>
<line x1="359.9" y1="184.6" x2="368.3" y2="187.9" stroke="#b6b4c0" stroke-width="1.34" stroke-linecap="round"/>
<line x1="359.9" y1="184.5" x2="368.3" y2="187.7" stroke="#e0dfe5" stroke-width="0.83" stroke-linecap="round"/>
<line x1="408.8" y1="230.0" x2="396.8" y2="241.9" stroke="#b6b4c0" stroke-width="1.91" stroke-linecap="round"/>
<line x1="408.8" y1="229.8" x2="396.8" y2="241.6" stroke="#d9d8de" stroke-width="1.19" stroke-linecap="round"/>
<line x1="319.7" y1="240.0" x2="306.3" y2="250.3" stroke="#b6b4c0" stroke-width="2.06" stroke-linecap="round"/>
<line x1="319.7" y1="239.7" x2="306.3" y2="250.1" stroke="#e0dfe5" stroke-width="1.28" stroke-linecap="round"/>
<line x1="320.4" y1="170.0" x2="308.3" y2="177.7" stroke="#b6b4c0" stroke-width="1.28" stroke-linecap="round"/>
<line x1="320.4" y1="169.9" x2="308.3" y2="177.6" stroke="#e7e6eb" stroke-width="0.79" stroke-linecap="round"/>
<line x1="311.6" y1="221.5" x2="287.6" y2="233.9" stroke="#b6b4c0" stroke-width="1.95" stroke-linecap="round"/>
<line x1="311.6" y1="221.3" x2="287.6" y2="233.6" stroke="#e0dfe5" stroke-width="1.21" stroke-linecap="round"/>
<line x1="319.7" y1="159.6" x2="302.3" y2="163.6" stroke="#b6b4c0" stroke-width="0.94" stroke-linecap="round"/>
<line x1="319.7" y1="159.5" x2="302.3" y2="163.5" stroke="#e7e6eb" stroke-width="0.58" stroke-linecap="round"/>
<line x1="327.5" y1="160.3" x2="330.5" y2="169.5" stroke="#b6b4c0" stroke-width="1.22" stroke-linecap="round"/>
<line x1="327.5" y1="160.1" x2="330.5" y2="169.3" stroke="#e0dfe5" stroke-width="0.76" stroke-linecap="round"/>
<line x1="225.6" y1="241.1" x2="187.6" y2="258.5" stroke="#b6b4c0" stroke-width="2.25" stroke-linecap="round"/>
<line x1="225.6" y1="240.8" x2="187.6" y2="258.2" stroke="#e0dfe5" stroke-width="1.39" stroke-linecap="round"/>
<line x1="266.1" y1="183.1" x2="242.7" y2="186.5" stroke="#b6b4c0" stroke-width="1.68" stroke-linecap="round"/>
<line x1="266.1" y1="182.9" x2="242.7" y2="186.3" stroke="#e7e6eb" stroke-width="1.04" stroke-linecap="round"/>
<line x1="358.1" y1="187.2" x2="365.7" y2="195.0" stroke="#b6b4c0" stroke-width="1.44" stroke-linecap="round"/>
<line x1="358.1" y1="187.0" x2="365.7" y2="194.9" stroke="#e7e6eb" stroke-width="0.89" stroke-linecap="round"/>
<line x1="372.2" y1="233.2" x2="350.8" y2="239.6" stroke="#b6b4c0" stroke-width="1.78" stroke-linecap="round"/>
<line x1="372.2" y1="233.0" x2="350.8" y2="239.4" stroke="#d9d8de" stroke-width="1.10" stroke-linecap="round"/>
<line x1="319.8" y1="224.6" x2="345.0" y2="241.5" stroke="#b6b4c0" stroke-width="2.57" stroke-linecap="round"/>
<line x1="319.8" y1="224.3" x2="345.0" y2="241.2" stroke="#e0dfe5" stroke-width="1.59" stroke-linecap="round"/>
<line x1="399.5" y1="223.1" x2="424.8" y2="230.2" stroke="#b6b4c0" stroke-width="2.43" stroke-linecap="round"/>
<line x1="399.5" y1="222.8" x2="424.8" y2="229.9" stroke="#d9d8de" stroke-width="1.51" stroke-linecap="round"/>
<line x1="252.8" y1="228.4" x2="277.5" y2="238.7" stroke="#b6b4c0" stroke-width="1.93" stroke-linecap="round"/>
<line x1="252.8" y1="228.2" x2="277.5" y2="238.5" stroke="#e7e6eb" stroke-width="1.20" stroke-linecap="round"/>
<line x1="335.0" y1="181.9" x2="342.8" y2="196.3" stroke="#b6b4c0" stroke-width="1.71" stroke-linecap="round"/>
<line x1="335.0" y1="181.7" x2="342.8" y2="196.1" stroke="#e7e6eb" stroke-width="1.06" stroke-linecap="round"/>
<line x1="227.3" y1="201.9" x2="221.2" y2="211.2" stroke="#b6b4c0" stroke-width="1.75" stroke-linecap="round"/>
<line x1="227.3" y1="201.7" x2="221.2" y2="211.0" stroke="#e0dfe5" stroke-width="1.08" stroke-linecap="round"/>
<line x1="250.5" y1="201.4" x2="284.2" y2="204.5" stroke="#b6b4c0" stroke-width="1.47" stroke-linecap="round"/>
<line x1="250.5" y1="201.3" x2="284.2" y2="204.4" stroke="#e0dfe5" stroke-width="0.91" stroke-linecap="round"/>
<line x1="272.5" y1="242.7" x2="316.5" y2="244.9" stroke="#b6b4c0" stroke-width="2.59" stroke-linecap="round"/>
<line x1="272.5" y1="242.3" x2="316.5" y2="244.6" stroke="#d9d8de" stroke-width="1.60" stroke-linecap="round"/>
<line x1="283.7" y1="177.0" x2="273.3" y2="186.7" stroke="#b6b4c0" stroke-width="1.17" stroke-linecap="round"/>
<line x1="283.7" y1="176.8" x2="273.3" y2="186.6" stroke="#e0dfe5" stroke-width="0.72" stroke-linecap="round"/>
<line x1="303.5" y1="195.3" x2="298.8" y2="211.8" stroke="#b6b4c0" stroke-width="2.08" stroke-linecap="round"/>
<line x1="303.5" y1="195.1" x2="298.8" y2="211.5" stroke="#d9d8de" stroke-width="1.29" stroke-linecap="round"/>
<line x1="319.8" y1="209.7" x2="342.9" y2="213.0" stroke="#b6b4c0" stroke-width="2.07" stroke-linecap="round"/>
<line x1="319.8" y1="209.4" x2="342.9" y2="212.7" stroke="#d9d8de" stroke-width="1.29" stroke-linecap="round"/>
<line x1="250.5" y1="210.4" x2="271.6" y2="222.5" stroke="#b6b4c0" stroke-width="1.67" stroke-linecap="round"/>
<line x1="250.5" y1="210.2" x2="271.6" y2="222.3" stroke="#e0dfe5" stroke-width="1.03" stroke-linecap="round"/>
<line x1="288.3" y1="159.0" x2="301.4" y2="159.0" stroke="#b6b4c0" stroke-width="0.84" stroke-linecap="round"/>
<line x1="288.3" y1="158.9" x2="301.4" y2="158.9" stroke="#e0dfe5" stroke-width="0.52" stroke-linecap="round"/>
<line x1="393.7" y1="235.5" x2="407.3" y2="251.9" stroke="#b6b4c0" stroke-width="2.05" stroke-linecap="round"/>
<line x1="393.7" y1="235.3" x2="407.3" y2="251.7" stroke="#e7e6eb" stroke-width="1.27" stroke-linecap="round"/>
<line x1="413.5" y1="202.5" x2="390.2" y2="216.6" stroke="#b6b4c0" stroke-width="1.48" stroke-linecap="round"/>
<line x1="413.5" y1="202.4" x2="390.2" y2="216.4" stroke="#e7e6eb" stroke-width="0.92" stroke-linecap="round"/>
<line x1="312.8" y1="222.9" x2="331.5" y2="224.9" stroke="#b6b4c0" stroke-width="1.79" stroke-linecap="round"/>
<line x1="312.8" y1="222.7" x2="331.5" y2="224.6" stroke="#d9d8de" stroke-width="1.11" stroke-linecap="round"/>
<line x1="263.2" y1="167.3" x2="245.8" y2="173.1" stroke="#b6b4c0" stroke-width="1.10" stroke-linecap="round"/>
<line x1="263.2" y1="167.1" x2="245.8" y2="173.0" stroke="#e0dfe5" stroke-width="0.68" stroke-linecap="round"/>
<line x1="227.9" y1="206.0" x2="218.2" y2="214.3" stroke="#b6b4c0" stroke-width="1.42" stroke-linecap="round"/>
<line x1="227.9" y1="205.8" x2="218.2" y2="214.1" stroke="#d9d8de" stroke-width="0.88" stroke-linecap="round"/>
<line x1="216.8" y1="224.3" x2="185.4" y2="240.4" stroke="#b6b4c0" stroke-width="2.55" stroke-linecap="round"/>
<line x1="216.8" y1="224.0" x2="185.4" y2="240.1" stroke="#d9d8de" stroke-width="1.58" stroke-linecap="round"/>
<line x1="345.4" y1="238.4" x2="323.2" y2="243.9" stroke="#b6b4c0" stroke-width="2.52" stroke-linecap="round"/>
<line x1="345.4" y1="238.1" x2="323.2" y2="243.6" stroke="#e7e6eb" stroke-width="1.57" stroke-linecap="round"/>
<line x1="266.5" y1="157.8" x2="272.6" y2="167.3" stroke="#b6b4c0" stroke-width="1.00" stroke-linecap="round"/>
<line x1="266.5" y1="157.7" x2="272.6" y2="167.2" stroke="#e0dfe5" stroke-width="0.62" stroke-linecap="round"/>
<line x1="270.8" y1="172.9" x2="280.8" y2="177.5" stroke="#b6b4c0" stroke-width="1.39" stroke-linecap="round"/>
<line x1="270.8" y1="172.7" x2="280.8" y2="177.4" stroke="#d9d8de" stroke-width="0.86" stroke-linecap="round"/>
<line x1="380.9" y1="206.4" x2="365.6" y2="218.0" stroke="#b6b4c0" stroke-width="2.05" stroke-linecap="round"/>
<line x1="380.9" y1="206.2" x2="365.6" y2="217.7" stroke="#e7e6eb" stroke-width="1.27" stroke-linecap="round"/>
<line x1="290.6" y1="227.5" x2="300.3" y2="241.6" stroke="#b6b4c0" stroke-width="2.71" stroke-linecap="round"/>
<line x1="290.6" y1="227.2" x2="300.3" y2="241.3" stroke="#e7e6eb" stroke-width="1.68" stroke-linecap="round"/>
<line x1="273.8" y1="230.2" x2="259.3" y2="241.9" stroke="#b6b4c0" stroke-width="1.87" stroke-linecap="round"/>
<line x1="273.8" y1="229.9" x2="259.3" y2="241.7" stroke="#e0dfe5" stroke-width="1.16" stroke-linecap="round"/>
<line x1="314.0" y1="170.8" x2="306.0" y2="176.0" stroke="#b6b4c0" stroke-width="1.07" stroke-linecap="round"/>
<line x1="314.0" y1="170.7" x2="306.0" y2="175.9" stroke="#e7e6eb" stroke-width="0.66" stroke-linecap="round"/>
<line x1="293.8" y1="191.3" x2="308.6" y2="191.9" stroke="#b6b4c0" stroke-width="1.53" stroke-linecap="round"/>
<line x1="293.8" y1="191.1" x2="308.6" y2="191.7" stroke="#e7e6eb" stroke-width="0.95" stroke-linecap="round"/>
<line x1="222.0" y1="190.5" x2="232.9" y2="195.7" stroke="#b6b4c0" stroke-width="1.71" stroke-linecap="round"/>
<line x1="222.0" y1="190.3" x2="232.9" y2="195.5" stroke="#e0dfe5" stroke-width="1.06" stroke-linecap="round"/>
<line x1="394.4" y1="220.8" x2="383.5" y2="240.4" stroke="#b6b4c0" stroke-width="2.50" stroke-linecap="round"/>
<line x1="394.4" y1="220.5" x2="383.5" y2="240.1" stroke="#e7e6eb" stroke-width="1.55" stroke-linecap="round"/>
<line x1="373.8" y1="200.0" x2="361.0" y2="210.9" stroke="#b6b4c0" stroke-width="1.38" stroke-linecap="round"/>
<line x1="373.8" y1="199.8" x2="361.0" y2="210.8" stroke="#e7e6eb" stroke-width="0.86" stroke-linecap="round"/>
<line x1="262.3" y1="178.2" x2="279.5" y2="183.4" stroke="#b6b4c0" stroke-width="1.41" stroke-linecap="round"/>
<line x1="262.3" y1="178.0" x2="279.5" y2="183.2" stroke="#d9d8de" stroke-width="0.87" stroke-linecap="round"/>
<line x1="387.5" y1="203.6" x2="358.7" y2="206.2" stroke="#b6b4c0" stroke-width="1.40" stroke-linecap="round"/>
<line x1="387.5" y1="203.4" x2="358.7" y2="206.0" stroke="#d9d8de" stroke-width="0.87" stroke-linecap="round"/>
<line x1="358.8" y1="177.8" x2="351.5" y2="182.5" stroke="#b6b4c0" stroke-width="1.60" stroke-linecap="round"/>
<line x1="358.8" y1="177.6" x2="351.5" y2="182.3" stroke="#e7e6eb" stroke-width="0.99" stroke-linecap="round"/>
<line x1="387.5" y1="194.7" x2="396.0" y2="207.2" stroke="#b6b4c0" stroke-width="1.37" stroke-linecap="round"/>
<line x1="387.5" y1="194.5" x2="396.0" y2="207.0" stroke="#e0dfe5" stroke-width="0.85" stroke-linecap="round"/>
<line x1="383.8" y1="245.5" x2="402.7" y2="251.3" stroke="#b6b4c0" stroke-width="2.13" stroke-linecap="round"/>
<line x1="383.8" y1="245.2" x2="402.7" y2="251.1" stroke="#e0dfe5" stroke-width="1.32" stroke-linecap="round"/>
<line x1="236.0" y1="200.9" x2="238.6" y2="208.0" stroke="#b6b4c0" stroke-width="1.88" stroke-linecap="round"/>
<line x1="236.0" y1="200.7" x2="238.6" y2="207.8" stroke="#e0dfe5" stroke-width="1.16" stroke-linecap="round"/>
<line x1="351.0" y1="190.8" x2="359.0" y2="205.6" stroke="#b6b4c0" stroke-width="1.86" stroke-linecap="round"/>
<line x1="351.0" y1="190.6" x2="359.0" y2="205.4" stroke="#d9d8de" stroke-width="1.15" stroke-linecap="round"/>
<line x1="235.9" y1="217.5" x2="245.4" y2="236.5" stroke="#b6b4c0" stroke-width="1.96" stroke-linecap="round"/>
<line x1="235.9" y1="217.2" x2="245.4" y2="236.3" stroke="#e7e6eb" stroke-width="1.21" stroke-linecap="round"/>
<line x1="314.2" y1="185.8" x2="324.8" y2="194.7" stroke="#b6b4c0" stroke-width="1.43" stroke-linecap="round"/>
<line x1="314.2" y1="185.7" x2="324.8" y2="194.6" stroke="#e0dfe5" stroke-width="0.88" stroke-linecap="round"/>
<line x1="232.9" y1="220.7" x2="256.8" y2="227.2" stroke="#b6b4c0" stroke-width="2.19" stroke-linecap="round"/>
<line x1="232.9" y1="220.4" x2="256.8" y2="227.0" stroke="#e0dfe5" stroke-width="1.36" stroke-linecap="round"/>
<line x1="415.5" y1="226.4" x2="378.2" y2="231.1" stroke="#b6b4c0" stroke-width="1.71" stroke-linecap="round"/>
<line x1="415.5" y1="226.2" x2="378.2" y2="230.9" stroke="#d9d8de" stroke-width="1.06" stroke-linecap="round"/>
<line x1="253.4" y1="235.8" x2="273.6" y2="249.7" stroke="#b6b4c0" stroke-width="2.77" stroke-linecap="round"/>
<line x1="253.4" y1="235.5" x2="273.6" y2="249.4" stroke="#e7e6eb" stroke-width="1.72" stroke-linecap="round"/>
<line x1="257.2" y1="214.3" x2="269.8" y2="226.0" stroke="#b6b4c0" stroke-width="1.70" stroke-linecap="round"/>
<line x1="257.2" y1="214.1" x2="269.8" y2="225.8" stroke="#e0dfe5" stroke-width="1.06" stroke-linecap="round"/>
<line x1="292.1" y1="164.7" x2="292.0" y2="168.7" stroke="#b6b4c0" stroke-width="0.97" stroke-linecap="round"/>
<line x1="292.1" y1="164.6" x2="292.0" y2="168.6" stroke="#e0dfe5" stroke-width="0.60" stroke-linecap="round"/>
<line x1="233.7" y1="192.9" x2="221.2" y2="198.7" stroke="#b6b4c0" stroke-width="1.28" stroke-linecap="round"/>
<line x1="233.7" y1="192.8" x2="221.2" y2="198.5" stroke="#e7e6eb" stroke-width="0.80" stroke-linecap="round"/>
<line x1="257.3" y1="230.1" x2="251.0" y2="252.5" stroke="#b6b4c0" stroke-width="2.36" stroke-linecap="round"/>
<line x1="257.3" y1="229.8" x2="251.0" y2="252.2" stroke="#d9d8de" stroke-width="1.46" stroke-linecap="round"/>
<line x1="274.7" y1="214.2" x2="295.4" y2="227.1" stroke="#b6b4c0" stroke-width="1.70" stroke-linecap="round"/>
<line x1="274.7" y1="214.0" x2="295.4" y2="226.9" stroke="#e7e6eb" stroke-width="1.06" stroke-linecap="round"/>
<line x1="202.2" y1="238.6" x2="190.4" y2="258.2" stroke="#b6b4c0" stroke-width="1.94" stroke-linecap="round"/>
<line x1="202.2" y1="238.4" x2="190.4" y2="258.0" stroke="#e7e6eb" stroke-width="1.20" stroke-linecap="round"/>
<line x1="326.8" y1="163.7" x2="322.9" y2="167.4" stroke="#b6b4c0" stroke-width="0.84" stroke-linecap="round"/>
<line x1="326.8" y1="163.6" x2="322.9" y2="167.3" stroke="#d9d8de" stroke-width="0.52" stroke-linecap="round"/>
<line x1="345.9" y1="218.8" x2="346.9" y2="227.4" stroke="#b6b4c0" stroke-width="1.76" stroke-linecap="round"/>
<line x1="345.9" y1="218.6" x2="346.9" y2="227.2" stroke="#e7e6eb" stroke-width="1.09" stroke-linecap="round"/>
<line x1="313.4" y1="180.9" x2="296.8" y2="185.3" stroke="#b6b4c0" stroke-width="1.36" stroke-linecap="round"/>
<line x1="313.4" y1="180.8" x2="296.8" y2="185.1" stroke="#e7e6eb" stroke-width="0.84" stroke-linecap="round"/>
<line x1="300.4" y1="174.5" x2="295.5" y2="179.1" stroke="#b6b4c0" stroke-width="1.44" stroke-linecap="round"/>
<line x1="300.4" y1="174.3" x2="295.5" y2="179.0" stroke="#d9d8de" stroke-width="0.90" stroke-linecap="round"/>
<line x1="396.8" y1="228.7" x2="399.2" y2="238.7" stroke="#b6b4c0" stroke-width="2.59" stroke-linecap="round"/>
<line x1="396.8" y1="228.4" x2="399.2" y2="238.4" stroke="#e7e6eb" stroke-width="1.60" stroke-linecap="round"/>
<line x1="318.6" y1="207.8" x2="291.5" y2="210.6" stroke="#b6b4c0" stroke-width="1.68" stroke-linecap="round"/>
<line x1="318.6" y1="207.6" x2="291.5" y2="210.4" stroke="#e7e6eb" stroke-width="1.04" stroke-linecap="round"/>
<line x1="264.1" y1="239.2" x2="294.7" y2="251.3" stroke="#b6b4c0" stroke-width="1.86" stroke-linecap="round"/>
<line x1="264.1" y1="239.0" x2="294.7" y2="251.1" stroke="#d9d8de" stroke-width="1.15" stroke-linecap="round"/>
<line x1="292.5" y1="240.3" x2="334.5" y2="254.0" stroke="#b6b4c0" stroke-width="2.15" stroke-linecap="round"/>
<line x1="292.5" y1="240.0" x2="334.5" y2="253.8" stroke="#e0dfe5" stroke-width="1.33" stroke-linecap="round"/>
<line x1="303.9" y1="153.9" x2="303.2" y2="164.2" stroke="#b6b4c0" stroke-width="0.93" stroke-linecap="round"/>
<line x1="303.9" y1="153.8" x2="303.2" y2="164.1" stroke="#e0dfe5" stroke-width="0.57" stroke-linecap="round"/>
<line x1="311.9" y1="180.9" x2="293.8" y2="190.3" stroke="#b6b4c0" stroke-width="1.19" stroke-linecap="round"/>
<line x1="311.9" y1="180.7" x2="293.8" y2="190.2" stroke="#e7e6eb" stroke-width="0.74" stroke-linecap="round"/>
<line x1="365.2" y1="212.4" x2="394.9" y2="213.0" stroke="#b6b4c0" stroke-width="1.79" stroke-linecap="round"/>
<line x1="365.2" y1="212.1" x2="394.9" y2="212.8" stroke="#e7e6eb" stroke-width="1.11" stroke-linecap="round"/>
<line x1="359.7" y1="183.4" x2="341.3" y2="185.1" stroke="#b6b4c0" stroke-width="1.64" stroke-linecap="round"/>
<line x1="359.7" y1="183.2" x2="341.3" y2="184.9" stroke="#d9d8de" stroke-width="1.02" stroke-linecap="round"/>
<line x1="329.4" y1="206.8" x2="319.0" y2="213.8" stroke="#b6b4c0" stroke-width="1.78" stroke-linecap="round"/>
<line x1="329.4" y1="206.6" x2="319.0" y2="213.6" stroke="#d9d8de" stroke-width="1.10" stroke-linecap="round"/>
<line x1="265.9" y1="205.8" x2="297.8" y2="208.7" stroke="#b6b4c0" stroke-width="1.62" stroke-linecap="round"/>
<line x1="265.9" y1="205.6" x2="297.8" y2="208.5" stroke="#d9d8de" stroke-width="1.01" stroke-linecap="round"/>
<line x1="378.4" y1="228.8" x2="356.2" y2="231.7" stroke="#b6b4c0" stroke-width="1.68" stroke-linecap="round"/>
<line x1="378.4" y1="228.6" x2="356.2" y2="231.5" stroke="#e7e6eb" stroke-width="1.04" stroke-linecap="round"/>
<line x1="313.2" y1="178.2" x2="324.2" y2="184.1" stroke="#b6b4c0" stroke-width="1.03" stroke-linecap="round"/>
<line x1="313.2" y1="178.1" x2="324.2" y2="184.0" stroke="#e0dfe5" stroke-width="0.64" stroke-linecap="round"/>
<line x1="298.6" y1="222.3" x2="282.1" y2="227.6" stroke="#b6b4c0" stroke-width="2.30" stroke-linecap="round"/>
<line x1="298.6" y1="222.0" x2="282.1" y2="227.3" stroke="#e7e6eb" stroke-width="1.43" stroke-linecap="round"/>
<line x1="346.9" y1="228.6" x2="328.4" y2="239.8" stroke="#b6b4c0" stroke-width="2.15" stroke-linecap="round"/>
<line x1="346.9" y1="228.4" x2="328.4" y2="239.6" stroke="#e7e6eb" stroke-width="1.33" stroke-linecap="round"/>
<line x1="228.5" y1="184.8" x2="254.8" y2="189.8" stroke="#b6b4c0" stroke-width="1.28" stroke-linecap="round"/>
<line x1="228.5" y1="184.6" x2="254.8" y2="189.6" stroke="#e0dfe5" stroke-width="0.79" stroke-linecap="round"/>
<line x1="297.1" y1="230.3" x2="327.8" y2="233.2" stroke="#b6b4c0" stroke-width="1.87" stroke-linecap="round"/>
<line x1="297.1" y1="230.0" x2="327.8" y2="233.0" stroke="#d9d8de" stroke-width="1.16" stroke-linecap="round"/>
<line x1="406.3" y1="193.8" x2="378.5" y2="199.8" stroke="#b6b4c0" stroke-width="1.25" stroke-linecap="round"/>
<line x1="406.3" y1="193.6" x2="378.5" y2="199.7" stroke="#d9d8de" stroke-width="0.78" stroke-linecap="round"/>
<line x1="251.8" y1="209.4" x2="235.8" y2="209.7" stroke="#b6b4c0" stroke-width="2.20" stroke-linecap="round"/>
<line x1="251.8" y1="209.1" x2="235.8" y2="209.5" stroke="#e0dfe5" stroke-width="1.36" stroke-linecap="round"/>
<line x1="313.6" y1="189.3" x2="334.1" y2="192.4" stroke="#b6b4c0" stroke-width="1.69" stroke-linecap="round"/>
<line x1="313.6" y1="189.1" x2="334.1" y2="192.2" stroke="#e0dfe5" stroke-width="1.05" stroke-linecap="round"/>
<line x1="239.9" y1="184.2" x2="219.7" y2="190.2" stroke="#b6b4c0" stroke-width="1.17" stroke-linecap="round"/>
<line x1="239.9" y1="184.1" x2="219.7" y2="190.0" stroke="#d9d8de" stroke-width="0.73" stroke-linecap="round"/>
<line x1="373.4" y1="167.9" x2="380.5" y2="172.4" stroke="#b6b4c0" stroke-width="1.10" stroke-linecap="round"/>
<line x1="373.4" y1="167.8" x2="380.5" y2="172.3" stroke="#d9d8de" stroke-width="0.68" stroke-linecap="round"/>
<line x1="311.4" y1="184.1" x2="306.5" y2="191.3" stroke="#b6b4c0" stroke-width="1.18" stroke-linecap="round"/>
<line x1="311.4" y1="183.9" x2="306.5" y2="191.2" stroke="#d9d8de" stroke-width="0.73" stroke-linecap="round"/>
<line x1="235.4" y1="220.6" x2="211.4" y2="223.6" stroke="#b6b4c0" stroke-width="2.14" stroke-linecap="round"/>
<line x1="235.4" y1="220.3" x2="211.4" y2="223.3" stroke="#e0dfe5" stroke-width="1.33" stroke-linecap="round"/>
<line x1="224.0" y1="221.3" x2="265.5" y2="224.1" stroke="#b6b4c0" stroke-width="2.21" stroke-linecap="round"/>
<line x1="224.0" y1="221.1" x2="265.5" y2="223.8" stroke="#d9d8de" stroke-width="1.37" stroke-linecap="round"/>
<line x1="223.4" y1="220.4" x2="241.3" y2="224.2" stroke="#b6b4c0" stroke-width="1.94" stroke-linecap="round"/>
<line x1="223.4" y1="220.1" x2="241.3" y2="224.0" stroke="#e0dfe5" stroke-width="1.20" stroke-linecap="round"/>
<line x1="286.2" y1="187.6" x2="300.0" y2="198.8" stroke="#b6b4c0" stroke-width="1.77" stroke-linecap="round"/>
<line x1="286.2" y1="187.3" x2="300.0" y2="198.6" stroke="#d9d8de" stroke-width="1.10" stroke-linecap="round"/>
<line x1="322.5" y1="246.3" x2="283.7" y2="251.1" stroke="#b6b4c0" stroke-width="2.82" stroke-linecap="round"/>
<line x1="322.5" y1="246.0" x2="283.7" y2="250.7" stroke="#e0dfe5" stroke-width="1.75" stroke-linecap="round"/>
<line x1="242.0" y1="193.9" x2="226.0" y2="202.0" stroke="#b6b4c0" stroke-width="1.86" stroke-linecap="round"/>
<line x1="242.0" y1="193.7" x2="226.0" y2="201.8" stroke="#e7e6eb" stroke-width="1.15" stroke-linecap="round"/>
<line x1="391.5" y1="224.3" x2="405.9" y2="243.2" stroke="#b6b4c0" stroke-width="2.20" stroke-linecap="round"/>
<line x1="391.5" y1="224.1" x2="405.9" y2="243.0" stroke="#e7e6eb" stroke-width="1.37" stroke-linecap="round"/>
<line x1="395.0" y1="236.9" x2="379.1" y2="241.3" stroke="#b6b4c0" stroke-width="1.80" stroke-linecap="round"/>
<line x1="395.0" y1="236.6" x2="379.1" y2="241.1" stroke="#e0dfe5" stroke-width="1.12" stroke-linecap="round"/>
<line x1="395.7" y1="205.9" x2="366.3" y2="214.8" stroke="#b6b4c0" stroke-width="1.75" stroke-linecap="round"/>
<line x1="395.7" y1="205.7" x2="366.3" y2="214.6" stroke="#e0dfe5" stroke-width="1.09" stroke-linecap="round"/>
<line x1="392.5" y1="223.5" x2="391.5" y2="242.0" stroke="#b6b4c0" stroke-width="2.26" stroke-linecap="round"/>
<line x1="392.5" y1="223.2" x2="391.5" y2="241.7" stroke="#d9d8de" stroke-width="1.40" stroke-linecap="round"/>
<line x1="332.4" y1="203.5" x2="311.6" y2="212.2" stroke="#b6b4c0" stroke-width="1.50" stroke-linecap="round"/>
<line x1="332.4" y1="203.3" x2="311.6" y2="212.0" stroke="#e7e6eb" stroke-width="0.93" stroke-linecap="round"/>
<line x1="283.5" y1="159.1" x2="285.9" y2="163.8" stroke="#b6b4c0" stroke-width="1.15" stroke-linecap="round"/>
<line x1="283.5" y1="159.0" x2="285.9" y2="163.7" stroke="#d9d8de" stroke-width="0.71" stroke-linecap="round"/>
<line x1="347.5" y1="182.6" x2="365.5" y2="187.4" stroke="#b6b4c0" stroke-width="1.30" stroke-linecap="round"/>
<line x1="347.5" y1="182.4" x2="365.5" y2="187.3" stroke="#e0dfe5" stroke-width="0.80" stroke-linecap="round"/>
<line x1="333.1" y1="199.4" x2="345.8" y2="210.6" stroke="#b6b4c0" stroke-width="1.80" stroke-linecap="round"/>
<line x1="333.1" y1="199.1" x2="345.8" y2="210.4" stroke="#e0dfe5" stroke-width="1.11" stroke-linecap="round"/>
<line x1="359.8" y1="187.7" x2="372.8" y2="192.9" stroke="#b6b4c0" stroke-width="1.30" stroke-linecap="round"/>
<line x1="359.8" y1="187.6" x2="372.8" y2="192.8" stroke="#e0dfe5" stroke-width="0.80" stroke-linecap="round"/>
<line x1="282.8" y1="162.2" x2="284.6" y2="171.3" stroke="#b6b4c0" stroke-width="1.16" stroke-linecap="round"/>
<line x1="282.8" y1="162.1" x2="284.6" y2="171.2" stroke="#e0dfe5" stroke-width="0.72" stroke-linecap="round"/>
<line x1="410.0" y1="230.4" x2="437.5" y2="232.5" stroke="#b6b4c0" stroke-width="2.13" stroke-linecap="round"/>
<line x1="410.0" y1="230.2" x2="437.5" y2="232.2" stroke="#e0dfe5" stroke-width="1.32" stroke-linecap="round"/>
<line x1="248.5" y1="155.5" x2="263.8" y2="160.6" stroke="#b6b4c0" stroke-width="0.92" stroke-linecap="round"/>
<line x1="248.5" y1="155.4" x2="263.8" y2="160.5" stroke="#d9d8de" stroke-width="0.57" stroke-linecap="round"/>
<line x1="225.8" y1="194.1" x2="254.3" y2="199.3" stroke="#b6b4c0" stroke-width="1.93" stroke-linecap="round"/>
<line x1="225.8" y1="193.9" x2="254.3" y2="199.1" stroke="#e7e6eb" stroke-width="1.20" stroke-linecap="round"/>
<line x1="233.9" y1="210.0" x2="239.7" y2="224.2" stroke="#b6b4c0" stroke-width="1.55" stroke-linecap="round"/>
<line x1="233.9" y1="209.8" x2="239.7" y2="224.0" stroke="#d9d8de" stroke-width="0.96" stroke-linecap="round"/>
<line x1="231.4" y1="171.1" x2="250.1" y2="177.5" stroke="#b6b4c0" stroke-width="1.07" stroke-linecap="round"/>
<line x1="231.4" y1="171.0" x2="250.1" y2="177.4" stroke="#d9d8de" stroke-width="0.67" stroke-linecap="round"/>
<line x1="319.9" y1="173.3" x2="332.7" y2="185.0" stroke="#b6b4c0" stroke-width="1.33" stroke-linecap="round"/>
<line x1="319.9" y1="173.1" x2="332.7" y2="184.9" stroke="#d9d8de" stroke-width="0.82" stroke-linecap="round"/>
<line x1="231.8" y1="177.5" x2="239.8" y2="189.7" stroke="#b6b4c0" stroke-width="1.29" stroke-linecap="round"/>
<line x1="231.8" y1="177.3" x2="239.8" y2="189.5" stroke="#d9d8de" stroke-width="0.80" stroke-linecap="round"/>
<rect x="190" y="158" width="245" height="52" fill="url(#ahaze)"/>
</g>
<polygon filter="url(#ablur3)" points="248.0,50.0 308.5,50.0 297.5,160.0 291.0,204.0 272.0,204.0 264.0,160.0" fill="url(#ared)"/>
<polygon filter="url(#ablur3)" points="317.0,50.0 377.0,50.0 363.0,160.0 356.5,204.0 337.0,204.0 330.0,160.0" fill="url(#ablue)"/>
<g filter="url(#ablur4)" fill="#63c9a0" opacity="0.92">
<circle cx="144.4" cy="178.3" r="3.6"/>
<circle cx="160.3" cy="174.9" r="3.6"/>
<circle cx="176.0" cy="182.3" r="3.6"/>
<circle cx="105.2" cy="182.6" r="3.6"/>
<circle cx="109.3" cy="187.9" r="3.6"/>
<circle cx="111.6" cy="198.3" r="3.6"/>
<circle cx="104.6" cy="198.3" r="3.6"/>
<circle cx="104.6" cy="204.7" r="3.6"/>
<circle cx="131.3" cy="207.0" r="3.6"/>
<circle cx="127.5" cy="212.8" r="3.6"/>
<circle cx="137.7" cy="214.5" r="3.6"/>
<circle cx="130.2" cy="220.9" r="3.6"/>
<circle cx="142.4" cy="220.3" r="3.6"/>
<circle cx="134.2" cy="224.4" r="3.6"/>
<circle cx="142.9" cy="227.9" r="3.6"/>
<circle cx="154.5" cy="217.7" r="3.6"/>
<circle cx="163.2" cy="196.0" r="3.6"/>
<circle cx="160.3" cy="204.1" r="3.6"/>
<circle cx="166.7" cy="202.4" r="3.6"/>
<circle cx="174.3" cy="202.4" r="3.6"/>
<circle cx="126.7" cy="230.8" r="3.6"/>
<circle cx="121.5" cy="236.0" r="3.6"/>
<circle cx="130.8" cy="242.4" r="3.6"/>
<circle cx="104.6" cy="234.3" r="3.6"/>
<circle cx="169.3" cy="234.9" r="3.6"/>
<circle cx="184.1" cy="219.2" r="3.6"/>
<circle cx="184.7" cy="232.5" r="3.6"/>
<circle cx="437.4" cy="181.5" r="3.6"/>
<circle cx="446.1" cy="187.3" r="3.6"/>
<circle cx="450.2" cy="187.6" r="3.6"/>
<circle cx="440.3" cy="198.9" r="3.6"/>
<circle cx="469.1" cy="178.0" r="3.6"/>
<circle cx="476.5" cy="174.3" r="3.6"/>
<circle cx="464.7" cy="197.4" r="3.6"/>
<circle cx="468.7" cy="200.8" r="3.6"/>
<circle cx="465.3" cy="204.7" r="3.6"/>
<circle cx="467.0" cy="209.9" r="3.6"/>
<circle cx="475.7" cy="218.8" r="3.6"/>
<circle cx="467.0" cy="232.2" r="3.6"/>
<circle cx="471.1" cy="237.2" r="3.6"/>
<circle cx="476.9" cy="244.7" r="3.6"/>
<circle cx="492.5" cy="230.2" r="3.6"/>
<circle cx="502.4" cy="242.6" r="3.6"/>
<circle cx="512.8" cy="181.8" r="3.6"/>
<circle cx="517.5" cy="175.1" r="3.6"/>
<circle cx="517.5" cy="196.0" r="3.6"/>
<circle cx="518.1" cy="204.1" r="3.6"/>
<circle cx="504.7" cy="211.6" r="3.6"/>
<circle cx="509.4" cy="206.4" r="3.6"/>
<circle cx="512.3" cy="212.8" r="3.6"/>
<circle cx="511.7" cy="233.1" r="3.6"/>
<circle cx="515.7" cy="229.6" r="3.6"/>
</g>
<polygon points="264.5,119.3 246.3,186.0 258.5,186.0" fill="#f2eee6" opacity="0.55"/>
<polygon points="225.3,119.3 264.5,119.3 246.3,186.0 184.9,187.3" fill="url(#agoldtop)"/>
<polygon points="184.9,187.3 246.3,186.0 245.6,219.0 188.4,216.8" fill="url(#agoldfront)"/>
<polygon points="360.8,119.3 396.5,119.3 438.8,186.7 378.9,187.8" fill="url(#agoldtop)"/>
<polygon points="378.9,187.8 438.8,186.7 437.4,217.7 378.9,217.4" fill="url(#agoldfront)"/>
<polygon points="360.8,119.3 378.9,187.8 366.5,187.8 357.5,119.3" fill="#e6e4f2" opacity="0.5"/>
<circle cx="439.2" cy="232" r="3.5" fill="#5fc4b4" opacity="0.6"/>
</g>
<g font-size="13" text-anchor="middle" fill="#1e1e1e">
<text x="195.7" y="69.6">3. 1064 nm Laser</text>
<text x="194" y="85.3">Single event</text>
<text x="195.5" y="100">transient</text>
<text x="430.5" y="68.8">2. Co-60 γ ray</text>
<text x="429" y="84.8">Total ionizing dose</text>
<text x="428.5" y="100">radiation</text>
<text x="470.5" y="136.5">1. Xe ions strike</text>
<text x="468.5" y="151.8">Displace damage</text>
<text x="470.5" y="167">effect</text>
</g>
</g>
</g>
<g id="panelb">
<polyline points="675.4,305.7 675.9,308.9 676.3,300.2 676.7,310.6 677.1,302.5 677.5,305.6 677.9,311.2 678.3,303.4 678.7,311.9 679.1,305.0 679.5,311.6 679.9,311.3 680.3,305.5 680.7,298.5 681.1,311.1 681.5,309.5 681.9,302.4 682.3,296.8 682.7,303.6 683.1,306.9 683.5,296.7 683.9,313.3 684.3,298.9 684.7,309.0 685.1,311.6 685.5,312.1 685.9,308.8 686.3,299.7 686.7,311.1 687.1,304.0 687.6,303.0 688.0,307.7 688.4,304.6 688.8,313.3 689.0,326.3 689.2,313.4 689.6,310.8 690.0,302.4 690.4,306.9 690.8,308.9 691.2,304.1 691.6,306.5 692.0,309.3 692.4,300.5 692.8,302.2 693.2,310.3 693.6,304.4 694.0,305.3 694.4,299.1 694.8,301.7 695.2,309.6 695.6,297.3 696.0,312.6 696.4,307.3 696.8,301.2 697.2,311.9 697.6,305.9 697.6,317.1 698.0,313.9 698.4,302.6 698.8,300.8 699.3,304.2 699.7,298.8 700.1,308.8 700.5,301.9 700.9,303.7 701.3,303.9 701.7,306.1 702.1,299.2 702.5,297.3 702.9,305.6 703.3,302.2 703.7,312.9 704.1,301.5 704.5,302.4 704.9,296.2 705.3,299.2 705.7,308.7 706.1,306.9 706.5,301.8 706.9,313.3 707.3,305.4 707.3,319.7 707.7,310.6 708.1,311.5 708.5,312.5 708.9,299.8 709.3,311.1 709.7,309.0 710.1,306.4 710.5,297.8 710.9,311.8 711.4,305.2 711.8,303.4 712.2,297.4 712.6,298.5 713.0,297.7 713.4,308.1 713.8,305.6 714.2,306.6 714.6,297.2 715.0,295.8 715.4,310.2 715.8,309.7 716.2,308.7 716.6,308.6 717.0,304.1 717.4,302.2 717.8,308.0 718.2,312.6 718.6,305.2 719.0,306.0 719.4,302.5 719.8,295.6 720.2,300.2 720.6,303.3 721.0,301.5 721.4,300.4 721.8,311.5 722.2,296.4 722.6,298.5 723.1,296.8 723.5,298.1 723.9,305.3 724.3,305.1 724.7,310.4 725.1,300.9 725.5,311.1 725.9,310.9 726.3,308.4 726.7,309.2 727.1,306.0 727.5,311.1 727.9,312.0 728.3,309.3 728.7,310.2 729.1,305.5 729.5,311.5 729.9,296.3 730.3,300.9 730.7,309.2 731.1,307.3 731.5,305.6 731.9,305.3 732.3,309.5 732.7,296.6 733.1,294.0 733.5,303.3 733.9,303.0 734.3,310.1 734.7,309.7 735.2,305.4 735.6,306.8 736.0,296.7 736.0,317.1 736.4,308.7 736.8,311.2 737.2,294.7 737.6,302.2 738.0,309.1 738.4,302.0 738.8,311.3 739.2,302.4 739.6,294.4 740.0,296.5 740.4,299.5 740.8,307.3 741.2,305.5 741.6,309.1 742.0,298.3 742.4,302.6 742.8,298.3 743.2,306.3 743.6,308.3 744.0,297.8 744.4,294.8 744.8,297.2 745.2,298.0 745.6,297.9 746.0,299.3 746.4,308.5 746.9,303.3 747.3,306.3 747.7,312.1 748.1,312.2 748.5,307.7 748.9,308.1 749.3,300.5 749.7,295.8 750.1,304.9 750.5,296.2 750.9,295.3 751.3,296.0 751.7,306.5 752.1,309.1 752.1,315.8 752.5,309.1 752.9,309.6 753.3,309.6 753.7,302.1 754.1,297.2 754.5,298.3 754.9,304.8 755.3,301.8 755.7,299.2 756.1,312.0 756.5,301.7 756.9,297.2 757.3,299.5 757.7,300.0 758.1,304.9 758.6,310.2 759.0,299.3 759.4,307.4 759.8,299.1 760.2,296.0 760.6,306.3 761.0,306.1 761.0,325.0 761.4,296.4 761.8,300.3 762.2,310.2 762.6,311.0 763.0,310.5 763.4,297.1 763.8,298.8 764.2,310.6 764.6,298.4 765.0,295.7 765.4,301.4 765.8,306.9 766.2,303.3 766.6,310.8 767.0,312.8 767.4,295.8 767.8,301.5 768.2,303.6 768.6,296.4 769.0,305.3 769.4,297.5 769.8,298.2 770.2,309.2 770.7,308.5 771.1,307.7 771.5,308.6 771.9,302.4 772.3,308.3 772.7,305.4 773.1,310.5 773.5,296.6 773.9,306.5 774.3,304.6 774.7,302.4 775.1,296.7 775.9,303.9 776.0,260.3 776.1,197.0 776.1,168.6 776.7,130.3 777.5,128.3 778.7,127.0 780.3,128.3 781.5,131.0 781.7,134.9 782.4,148.1 782.6,158.7 783.4,175.9 783.8,187.7 784.0,200.9 784.2,214.8 784.8,231.3 785.2,249.8 785.3,259.7 785.8,276.2 786.0,297.3 786.8,304.6 787.6,313.1 788.4,325.7 789.0,332.3 789.4,336.2 790.0,334.9 790.8,332.3 792.4,319.1 794.0,310.5 795.1,297.3 796.5,284.1 797.3,268.9 798.5,272.2 799.1,275.5 800.5,282.1 802.5,286.7 804.5,292.0 807.0,286.1 808.6,297.3 809.6,303.2 810.0,294.5 810.4,302.1 810.8,301.8 811.2,302.1 811.6,311.3 812.0,304.0 812.4,308.8 812.8,312.2 813.2,298.2 813.6,309.6 814.0,304.4 814.4,300.1 814.8,303.3 815.2,307.6 815.6,304.4 816.0,303.9 816.4,300.1 816.8,312.3 817.2,304.4 817.6,310.1 818.1,309.7 818.5,301.1 818.9,306.0 819.3,305.1 819.7,301.8 820.1,299.2 820.5,307.7 820.7,289.4 820.9,304.9 821.3,306.9 821.7,307.0 822.1,303.9 822.5,308.4 822.9,307.1 823.3,308.2 823.7,300.1 824.1,304.6 824.5,301.6 824.9,300.6 825.3,312.9 825.7,307.7 826.1,301.0 826.5,303.0 826.7,320.4 826.9,315.6 827.3,315.7 827.7,309.9 828.1,316.3 828.5,313.2 828.9,316.1 829.3,305.3 829.8,303.1 830.2,301.0 830.6,314.1 831.0,303.9 831.4,304.8 831.8,313.9 832.2,300.6 832.6,298.9 833.0,312.1 833.4,298.9 833.8,308.7 834.2,307.0 834.6,297.9 835.0,300.5 835.4,312.4 835.8,307.4 836.2,305.8 836.6,308.8 837.0,311.0 837.4,308.3 837.8,300.6 838.2,312.6 838.6,302.5 839.0,304.0 839.4,311.0 839.8,304.9 840.2,299.2 840.6,300.6 841.0,308.4 841.4,291.9 841.9,295.4 842.3,292.1 842.7,307.6 843.1,304.7 843.5,308.7 843.9,295.5 844.3,304.6 844.7,307.0 845.1,301.8 845.5,293.1 845.9,294.7 846.3,304.7 846.7,306.6 847.1,292.9 847.5,299.1 847.9,296.7 848.3,307.6 848.7,308.2 849.1,296.9 849.5,301.6 849.9,307.8 850.3,292.4 850.7,297.8 851.1,294.8 851.5,307.6 851.9,293.8 852.3,307.9 852.7,293.6 853.1,300.9 853.6,302.9 854.0,299.1 854.4,292.4 854.8,304.2 855.2,306.6 855.6,299.5 856.0,304.6 856.4,306.9 856.8,306.0 857.2,307.9 857.6,305.2 858.0,303.2 858.4,303.3 858.8,295.1 859.2,303.4 859.6,299.7 860.0,305.3 860.4,302.3 860.8,308.1 861.2,303.9 861.6,308.1 862.0,295.2 862.4,298.4 862.8,304.8 863.2,299.7 863.6,291.5 864.0,306.2 864.4,293.4 864.8,300.3 865.2,299.1 865.7,293.0 866.1,300.9 866.5,298.8 866.9,295.5 867.3,290.2 867.7,301.6 868.1,292.8 868.5,295.0 868.7,284.1 868.9,296.2 869.3,300.4 869.7,301.5 870.1,306.9 870.5,305.7 870.9,306.9 871.3,295.1 871.7,303.8 872.1,305.6 872.5,307.1 872.9,293.8 873.3,293.4 873.7,297.1 874.1,304.2 874.5,305.0 874.9,304.2 875.3,301.4 875.7,306.9 875.9,290.7 876.1,301.9 876.1,307.2 876.5,305.3 876.5,296.0 876.9,293.0" fill="none" stroke="#ec1c24" stroke-width="0.9"/>
<g fill="#ec1c24">
<rect x="672.5" y="302.8" width="5.8" height="5.8"/>
<rect x="673.0" y="306.0" width="5.8" height="5.8"/>
<rect x="673.4" y="297.3" width="5.8" height="5.8"/>
<rect x="673.8" y="307.7" width="5.8" height="5.8"/>
<rect x="674.2" y="299.6" width="5.8" height="5.8"/>
<rect x="674.6" y="302.7" width="5.8" height="5.8"/>
<rect x="675.0" y="308.3" width="5.8" height="5.8"/>
<rect x="675.4" y="300.5" width="5.8" height="5.8"/>
<rect x="675.8" y="309.0" width="5.8" height="5.8"/>
<rect x="676.2" y="302.1" width="5.8" height="5.8"/>
<rect x="676.6" y="308.7" width="5.8" height="5.8"/>
<rect x="677.0" y="308.4" width="5.8" height="5.8"/>
<rect x="677.4" y="302.6" width="5.8" height="5.8"/>
<rect x="677.8" y="295.6" width="5.8" height="5.8"/>
<rect x="678.2" y="308.2" width="5.8" height="5.8"/>
<rect x="678.6" y="306.6" width="5.8" height="5.8"/>
<rect x="679.0" y="299.5" width="5.8" height="5.8"/>
<rect x="679.4" y="293.9" width="5.8" height="5.8"/>
<rect x="679.8" y="300.7" width="5.8" height="5.8"/>
<rect x="680.2" y="304.0" width="5.8" height="5.8"/>
<rect x="680.6" y="293.8" width="5.8" height="5.8"/>
<rect x="681.0" y="310.4" width="5.8" height="5.8"/>
<rect x="681.4" y="296.0" width="5.8" height="5.8"/>
<rect x="681.8" y="306.1" width="5.8" height="5.8"/>
<rect x="682.2" y="308.7" width="5.8" height="5.8"/>
<rect x="682.6" y="309.2" width="5.8" height="5.8"/>
<rect x="683.0" y="305.9" width="5.8" height="5.8"/>
<rect x="683.4" y="296.8" width="5.8" height="5.8"/>
<rect x="683.8" y="308.2" width="5.8" height="5.8"/>
<rect x="684.2" y="301.1" width="5.8" height="5.8"/>
<rect x="684.7" y="300.1" width="5.8" height="5.8"/>
<rect x="685.1" y="304.8" width="5.8" height="5.8"/>
<rect x="685.5" y="301.7" width="5.8" height="5.8"/>
<rect x="685.9" y="310.4" width="5.8" height="5.8"/>
<rect x="686.1" y="323.4" width="5.8" height="5.8"/>
<rect x="686.3" y="310.5" width="5.8" height="5.8"/>
<rect x="686.7" y="307.9" width="5.8" height="5.8"/>
<rect x="687.1" y="299.5" width="5.8" height="5.8"/>
<rect x="687.5" y="304.0" width="5.8" height="5.8"/>
<rect x="687.9" y="306.0" width="5.8" height="5.8"/>
<rect x="688.3" y="301.2" width="5.8" height="5.8"/>
<rect x="688.7" y="303.6" width="5.8" height="5.8"/>
<rect x="689.1" y="306.4" width="5.8" height="5.8"/>
<rect x="689.5" y="297.6" width="5.8" height="5.8"/>
<rect x="689.9" y="299.3" width="5.8" height="5.8"/>
<rect x="690.3" y="307.4" width="5.8" height="5.8"/>
<rect x="690.7" y="301.5" width="5.8" height="5.8"/>
<rect x="691.1" y="302.4" width="5.8" height="5.8"/>
<rect x="691.5" y="296.2" width="5.8" height="5.8"/>
<rect x="691.9" y="298.8" width="5.8" height="5.8"/>
<rect x="692.3" y="306.7" width="5.8" height="5.8"/>
<rect x="692.7" y="294.4" width="5.8" height="5.8"/>
<rect x="693.1" y="309.7" width="5.8" height="5.8"/>
<rect x="693.5" y="304.4" width="5.8" height="5.8"/>
<rect x="693.9" y="298.3" width="5.8" height="5.8"/>
<rect x="694.3" y="309.0" width="5.8" height="5.8"/>
<rect x="694.7" y="303.0" width="5.8" height="5.8"/>
<rect x="694.7" y="314.2" width="5.8" height="5.8"/>
<rect x="695.1" y="311.0" width="5.8" height="5.8"/>
<rect x="695.5" y="299.7" width="5.8" height="5.8"/>
<rect x="695.9" y="297.9" width="5.8" height="5.8"/>
<rect x="696.4" y="301.3" width="5.8" height="5.8"/>
<rect x="696.8" y="295.9" width="5.8" height="5.8"/>
<rect x="697.2" y="305.9" width="5.8" height="5.8"/>
<rect x="697.6" y="299.0" width="5.8" height="5.8"/>
<rect x="698.0" y="300.8" width="5.8" height="5.8"/>
<rect x="698.4" y="301.0" width="5.8" height="5.8"/>
<rect x="698.8" y="303.2" width="5.8" height="5.8"/>
<rect x="699.2" y="296.3" width="5.8" height="5.8"/>
<rect x="699.6" y="294.4" width="5.8" height="5.8"/>
<rect x="700.0" y="302.7" width="5.8" height="5.8"/>
<rect x="700.4" y="299.3" width="5.8" height="5.8"/>
<rect x="700.8" y="310.0" width="5.8" height="5.8"/>
<rect x="701.2" y="298.6" width="5.8" height="5.8"/>
<rect x="701.6" y="299.5" width="5.8" height="5.8"/>
<rect x="702.0" y="293.3" width="5.8" height="5.8"/>
<rect x="702.4" y="296.3" width="5.8" height="5.8"/>
<rect x="702.8" y="305.8" width="5.8" height="5.8"/>
<rect x="703.2" y="304.0" width="5.8" height="5.8"/>
<rect x="703.6" y="298.9" width="5.8" height="5.8"/>
<rect x="704.0" y="310.4" width="5.8" height="5.8"/>
<rect x="704.4" y="302.5" width="5.8" height="5.8"/>
<rect x="704.4" y="316.8" width="5.8" height="5.8"/>
<rect x="704.8" y="307.7" width="5.8" height="5.8"/>
<rect x="705.2" y="308.6" width="5.8" height="5.8"/>
<rect x="705.6" y="309.6" width="5.8" height="5.8"/>
<rect x="706.0" y="296.9" width="5.8" height="5.8"/>
<rect x="706.4" y="308.2" width="5.8" height="5.8"/>
<rect x="706.8" y="306.1" width="5.8" height="5.8"/>
<rect x="707.2" y="303.5" width="5.8" height="5.8"/>
<rect x="707.6" y="294.9" width="5.8" height="5.8"/>
<rect x="708.0" y="308.9" width="5.8" height="5.8"/>
<rect x="708.5" y="302.3" width="5.8" height="5.8"/>
<rect x="708.9" y="300.5" width="5.8" height="5.8"/>
<rect x="709.3" y="294.5" width="5.8" height="5.8"/>
<rect x="709.7" y="295.6" width="5.8" height="5.8"/>
<rect x="710.1" y="294.8" width="5.8" height="5.8"/>
<rect x="710.5" y="305.2" width="5.8" height="5.8"/>
<rect x="710.9" y="302.7" width="5.8" height="5.8"/>
<rect x="711.3" y="303.7" width="5.8" height="5.8"/>
<rect x="711.7" y="294.3" width="5.8" height="5.8"/>
<rect x="712.1" y="292.9" width="5.8" height="5.8"/>
<rect x="712.5" y="307.3" width="5.8" height="5.8"/>
<rect x="712.9" y="306.8" width="5.8" height="5.8"/>
<rect x="713.3" y="305.8" width="5.8" height="5.8"/>
<rect x="713.7" y="305.7" width="5.8" height="5.8"/>
<rect x="714.1" y="301.2" width="5.8" height="5.8"/>
<rect x="714.5" y="299.3" width="5.8" height="5.8"/>
<rect x="714.9" y="305.1" width="5.8" height="5.8"/>
<rect x="715.3" y="309.7" width="5.8" height="5.8"/>
<rect x="715.7" y="302.3" width="5.8" height="5.8"/>
<rect x="716.1" y="303.1" width="5.8" height="5.8"/>
<rect x="716.5" y="299.6" width="5.8" height="5.8"/>
<rect x="716.9" y="292.7" width="5.8" height="5.8"/>
<rect x="717.3" y="297.3" width="5.8" height="5.8"/>
<rect x="717.7" y="300.4" width="5.8" height="5.8"/>
<rect x="718.1" y="298.6" width="5.8" height="5.8"/>
<rect x="718.5" y="297.5" width="5.8" height="5.8"/>
<rect x="718.9" y="308.6" width="5.8" height="5.8"/>
<rect x="719.3" y="293.5" width="5.8" height="5.8"/>
<rect x="719.7" y="295.6" width="5.8" height="5.8"/>
<rect x="720.2" y="293.9" width="5.8" height="5.8"/>
<rect x="720.6" y="295.2" width="5.8" height="5.8"/>
<rect x="721.0" y="302.4" width="5.8" height="5.8"/>
<rect x="721.4" y="302.2" width="5.8" height="5.8"/>
<rect x="721.8" y="307.5" width="5.8" height="5.8"/>
<rect x="722.2" y="298.0" width="5.8" height="5.8"/>
<rect x="722.6" y="308.2" width="5.8" height="5.8"/>
<rect x="723.0" y="308.0" width="5.8" height="5.8"/>
<rect x="723.4" y="305.5" width="5.8" height="5.8"/>
<rect x="723.8" y="306.3" width="5.8" height="5.8"/>
<rect x="724.2" y="303.1" width="5.8" height="5.8"/>
<rect x="724.6" y="308.2" width="5.8" height="5.8"/>
<rect x="725.0" y="309.1" width="5.8" height="5.8"/>
<rect x="725.4" y="306.4" width="5.8" height="5.8"/>
<rect x="725.8" y="307.3" width="5.8" height="5.8"/>
<rect x="726.2" y="302.6" width="5.8" height="5.8"/>
<rect x="726.6" y="308.6" width="5.8" height="5.8"/>
<rect x="727.0" y="293.4" width="5.8" height="5.8"/>
<rect x="727.4" y="298.0" width="5.8" height="5.8"/>
<rect x="727.8" y="306.3" width="5.8" height="5.8"/>
<rect x="728.2" y="304.4" width="5.8" height="5.8"/>
<rect x="728.6" y="302.7" width="5.8" height="5.8"/>
<rect x="729.0" y="302.4" width="5.8" height="5.8"/>
<rect x="729.4" y="306.6" width="5.8" height="5.8"/>
<rect x="729.8" y="293.7" width="5.8" height="5.8"/>
<rect x="730.2" y="291.1" width="5.8" height="5.8"/>
<rect x="730.6" y="300.4" width="5.8" height="5.8"/>
<rect x="731.0" y="300.1" width="5.8" height="5.8"/>
<rect x="731.4" y="307.2" width="5.8" height="5.8"/>
<rect x="731.8" y="306.8" width="5.8" height="5.8"/>
<rect x="732.3" y="302.5" width="5.8" height="5.8"/>
<rect x="732.7" y="303.9" width="5.8" height="5.8"/>
<rect x="733.1" y="293.8" width="5.8" height="5.8"/>
<rect x="733.1" y="314.2" width="5.8" height="5.8"/>
<rect x="733.5" y="305.8" width="5.8" height="5.8"/>
<rect x="733.9" y="308.3" width="5.8" height="5.8"/>
<rect x="734.3" y="291.8" width="5.8" height="5.8"/>
<rect x="734.7" y="299.3" width="5.8" height="5.8"/>
<rect x="735.1" y="306.2" width="5.8" height="5.8"/>
<rect x="735.5" y="299.1" width="5.8" height="5.8"/>
<rect x="735.9" y="308.4" width="5.8" height="5.8"/>
<rect x="736.3" y="299.5" width="5.8" height="5.8"/>
<rect x="736.7" y="291.5" width="5.8" height="5.8"/>
<rect x="737.1" y="293.6" width="5.8" height="5.8"/>
<rect x="737.5" y="296.6" width="5.8" height="5.8"/>
<rect x="737.9" y="304.4" width="5.8" height="5.8"/>
<rect x="738.3" y="302.6" width="5.8" height="5.8"/>
<rect x="738.7" y="306.2" width="5.8" height="5.8"/>
<rect x="739.1" y="295.4" width="5.8" height="5.8"/>
<rect x="739.5" y="299.7" width="5.8" height="5.8"/>
<rect x="739.9" y="295.4" width="5.8" height="5.8"/>
<rect x="740.3" y="303.4" width="5.8" height="5.8"/>
<rect x="740.7" y="305.4" width="5.8" height="5.8"/>
<rect x="741.1" y="294.9" width="5.8" height="5.8"/>
<rect x="741.5" y="291.9" width="5.8" height="5.8"/>
<rect x="741.9" y="294.3" width="5.8" height="5.8"/>
<rect x="742.3" y="295.1" width="5.8" height="5.8"/>
<rect x="742.7" y="295.0" width="5.8" height="5.8"/>
<rect x="743.1" y="296.4" width="5.8" height="5.8"/>
<rect x="743.5" y="305.6" width="5.8" height="5.8"/>
<rect x="744.0" y="300.4" width="5.8" height="5.8"/>
<rect x="744.4" y="303.4" width="5.8" height="5.8"/>
<rect x="744.8" y="309.2" width="5.8" height="5.8"/>
<rect x="745.2" y="309.3" width="5.8" height="5.8"/>
<rect x="745.6" y="304.8" width="5.8" height="5.8"/>
<rect x="746.0" y="305.2" width="5.8" height="5.8"/>
<rect x="746.4" y="297.6" width="5.8" height="5.8"/>
<rect x="746.8" y="292.9" width="5.8" height="5.8"/>
<rect x="747.2" y="302.0" width="5.8" height="5.8"/>
<rect x="747.6" y="293.3" width="5.8" height="5.8"/>
<rect x="748.0" y="292.4" width="5.8" height="5.8"/>
<rect x="748.4" y="293.1" width="5.8" height="5.8"/>
<rect x="748.8" y="303.6" width="5.8" height="5.8"/>
<rect x="749.2" y="306.2" width="5.8" height="5.8"/>
<rect x="749.2" y="312.9" width="5.8" height="5.8"/>
<rect x="749.6" y="306.2" width="5.8" height="5.8"/>
<rect x="750.0" y="306.7" width="5.8" height="5.8"/>
<rect x="750.4" y="306.7" width="5.8" height="5.8"/>
<rect x="750.8" y="299.2" width="5.8" height="5.8"/>
<rect x="751.2" y="294.3" width="5.8" height="5.8"/>
<rect x="751.6" y="295.4" width="5.8" height="5.8"/>
<rect x="752.0" y="301.9" width="5.8" height="5.8"/>
<rect x="752.4" y="298.9" width="5.8" height="5.8"/>
<rect x="752.8" y="296.3" width="5.8" height="5.8"/>
<rect x="753.2" y="309.1" width="5.8" height="5.8"/>
<rect x="753.6" y="298.8" width="5.8" height="5.8"/>
<rect x="754.0" y="294.3" width="5.8" height="5.8"/>
<rect x="754.4" y="296.6" width="5.8" height="5.8"/>
<rect x="754.8" y="297.1" width="5.8" height="5.8"/>
<rect x="755.2" y="302.0" width="5.8" height="5.8"/>
<rect x="755.7" y="307.3" width="5.8" height="5.8"/>
<rect x="756.1" y="296.4" width="5.8" height="5.8"/>
<rect x="756.5" y="304.5" width="5.8" height="5.8"/>
<rect x="756.9" y="296.2" width="5.8" height="5.8"/>
<rect x="757.3" y="293.1" width="5.8" height="5.8"/>
<rect x="757.7" y="303.4" width="5.8" height="5.8"/>
<rect x="758.1" y="303.2" width="5.8" height="5.8"/>
<rect x="758.1" y="322.1" width="5.8" height="5.8"/>
<rect x="758.5" y="293.5" width="5.8" height="5.8"/>
<rect x="758.9" y="297.4" width="5.8" height="5.8"/>
<rect x="759.3" y="307.3" width="5.8" height="5.8"/>
<rect x="759.7" y="308.1" width="5.8" height="5.8"/>
<rect x="760.1" y="307.6" width="5.8" height="5.8"/>
<rect x="760.5" y="294.2" width="5.8" height="5.8"/>
<rect x="760.9" y="295.9" width="5.8" height="5.8"/>
<rect x="761.3" y="307.7" width="5.8" height="5.8"/>
<rect x="761.7" y="295.5" width="5.8" height="5.8"/>
<rect x="762.1" y="292.8" width="5.8" height="5.8"/>
<rect x="762.5" y="298.5" width="5.8" height="5.8"/>
<rect x="762.9" y="304.0" width="5.8" height="5.8"/>
<rect x="763.3" y="300.4" width="5.8" height="5.8"/>
<rect x="763.7" y="307.9" width="5.8" height="5.8"/>
<rect x="764.1" y="309.9" width="5.8" height="5.8"/>
<rect x="764.5" y="292.9" width="5.8" height="5.8"/>
<rect x="764.9" y="298.6" width="5.8" height="5.8"/>
<rect x="765.3" y="300.7" width="5.8" height="5.8"/>
<rect x="765.7" y="293.5" width="5.8" height="5.8"/>
<rect x="766.1" y="302.4" width="5.8" height="5.8"/>
<rect x="766.5" y="294.6" width="5.8" height="5.8"/>
<rect x="766.9" y="295.3" width="5.8" height="5.8"/>
<rect x="767.3" y="306.3" width="5.8" height="5.8"/>
<rect x="767.8" y="305.6" width="5.8" height="5.8"/>
<rect x="768.2" y="304.8" width="5.8" height="5.8"/>
<rect x="768.6" y="305.7" width="5.8" height="5.8"/>
<rect x="769.0" y="299.5" width="5.8" height="5.8"/>
<rect x="769.4" y="305.4" width="5.8" height="5.8"/>
<rect x="769.8" y="302.5" width="5.8" height="5.8"/>
<rect x="770.2" y="307.6" width="5.8" height="5.8"/>
<rect x="770.6" y="293.7" width="5.8" height="5.8"/>
<rect x="771.0" y="303.6" width="5.8" height="5.8"/>
<rect x="771.4" y="301.7" width="5.8" height="5.8"/>
<rect x="771.8" y="299.5" width="5.8" height="5.8"/>
<rect x="772.2" y="293.8" width="5.8" height="5.8"/>
<rect x="773.0" y="301.0" width="5.8" height="5.8"/>
<rect x="773.1" y="257.4" width="5.8" height="5.8"/>
<rect x="773.2" y="194.1" width="5.8" height="5.8"/>
<rect x="773.2" y="165.7" width="5.8" height="5.8"/>
<rect x="773.8" y="127.4" width="5.8" height="5.8"/>
<rect x="774.6" y="125.4" width="5.8" height="5.8"/>
<rect x="775.8" y="124.1" width="5.8" height="5.8"/>
<rect x="777.4" y="125.4" width="5.8" height="5.8"/>
<rect x="778.6" y="128.1" width="5.8" height="5.8"/>
<rect x="778.8" y="132.0" width="5.8" height="5.8"/>
<rect x="779.5" y="145.2" width="5.8" height="5.8"/>
<rect x="779.7" y="155.8" width="5.8" height="5.8"/>
<rect x="780.5" y="173.0" width="5.8" height="5.8"/>
<rect x="780.9" y="184.8" width="5.8" height="5.8"/>
<rect x="781.1" y="198.0" width="5.8" height="5.8"/>
<rect x="781.3" y="211.9" width="5.8" height="5.8"/>
<rect x="781.9" y="228.4" width="5.8" height="5.8"/>
<rect x="782.3" y="246.9" width="5.8" height="5.8"/>
<rect x="782.4" y="256.8" width="5.8" height="5.8"/>
<rect x="782.9" y="273.3" width="5.8" height="5.8"/>
<rect x="783.1" y="294.4" width="5.8" height="5.8"/>
<rect x="783.9" y="301.7" width="5.8" height="5.8"/>
<rect x="784.7" y="310.2" width="5.8" height="5.8"/>
<rect x="785.5" y="322.8" width="5.8" height="5.8"/>
<rect x="786.1" y="329.4" width="5.8" height="5.8"/>
<rect x="786.5" y="333.3" width="5.8" height="5.8"/>
<rect x="787.1" y="332.0" width="5.8" height="5.8"/>
<rect x="787.9" y="329.4" width="5.8" height="5.8"/>
<rect x="789.5" y="316.2" width="5.8" height="5.8"/>
<rect x="791.1" y="307.6" width="5.8" height="5.8"/>
<rect x="792.2" y="294.4" width="5.8" height="5.8"/>
<rect x="793.6" y="281.2" width="5.8" height="5.8"/>
<rect x="794.4" y="266.0" width="5.8" height="5.8"/>
<rect x="795.6" y="269.3" width="5.8" height="5.8"/>
<rect x="796.2" y="272.6" width="5.8" height="5.8"/>
<rect x="797.6" y="279.2" width="5.8" height="5.8"/>
<rect x="799.6" y="283.8" width="5.8" height="5.8"/>
<rect x="801.6" y="289.1" width="5.8" height="5.8"/>
<rect x="804.1" y="283.2" width="5.8" height="5.8"/>
<rect x="805.7" y="294.4" width="5.8" height="5.8"/>
<rect x="806.7" y="300.3" width="5.8" height="5.8"/>
<rect x="807.1" y="291.6" width="5.8" height="5.8"/>
<rect x="807.5" y="299.2" width="5.8" height="5.8"/>
<rect x="807.9" y="298.9" width="5.8" height="5.8"/>
<rect x="808.3" y="299.2" width="5.8" height="5.8"/>
<rect x="808.7" y="308.4" width="5.8" height="5.8"/>
<rect x="809.1" y="301.1" width="5.8" height="5.8"/>
<rect x="809.5" y="305.9" width="5.8" height="5.8"/>
<rect x="809.9" y="309.3" width="5.8" height="5.8"/>
<rect x="810.3" y="295.3" width="5.8" height="5.8"/>
<rect x="810.7" y="306.7" width="5.8" height="5.8"/>
<rect x="811.1" y="301.5" width="5.8" height="5.8"/>
<rect x="811.5" y="297.2" width="5.8" height="5.8"/>
<rect x="811.9" y="300.4" width="5.8" height="5.8"/>
<rect x="812.3" y="304.7" width="5.8" height="5.8"/>
<rect x="812.7" y="301.5" width="5.8" height="5.8"/>
<rect x="813.1" y="301.0" width="5.8" height="5.8"/>
<rect x="813.5" y="297.2" width="5.8" height="5.8"/>
<rect x="813.9" y="309.4" width="5.8" height="5.8"/>
<rect x="814.3" y="301.5" width="5.8" height="5.8"/>
<rect x="814.7" y="307.2" width="5.8" height="5.8"/>
<rect x="815.2" y="306.8" width="5.8" height="5.8"/>
<rect x="815.6" y="298.2" width="5.8" height="5.8"/>
<rect x="816.0" y="303.1" width="5.8" height="5.8"/>
<rect x="816.4" y="302.2" width="5.8" height="5.8"/>
<rect x="816.8" y="298.9" width="5.8" height="5.8"/>
<rect x="817.2" y="296.3" width="5.8" height="5.8"/>
<rect x="817.6" y="304.8" width="5.8" height="5.8"/>
<rect x="817.8" y="286.5" width="5.8" height="5.8"/>
<rect x="818.0" y="302.0" width="5.8" height="5.8"/>
<rect x="818.4" y="304.0" width="5.8" height="5.8"/>
<rect x="818.8" y="304.1" width="5.8" height="5.8"/>
<rect x="819.2" y="301.0" width="5.8" height="5.8"/>
<rect x="819.6" y="305.5" width="5.8" height="5.8"/>
<rect x="820.0" y="304.2" width="5.8" height="5.8"/>
<rect x="820.4" y="305.3" width="5.8" height="5.8"/>
<rect x="820.8" y="297.2" width="5.8" height="5.8"/>
<rect x="821.2" y="301.7" width="5.8" height="5.8"/>
<rect x="821.6" y="298.7" width="5.8" height="5.8"/>
<rect x="822.0" y="297.7" width="5.8" height="5.8"/>
<rect x="822.4" y="310.0" width="5.8" height="5.8"/>
<rect x="822.8" y="304.8" width="5.8" height="5.8"/>
<rect x="823.2" y="298.1" width="5.8" height="5.8"/>
<rect x="823.6" y="300.1" width="5.8" height="5.8"/>
<rect x="823.8" y="317.5" width="5.8" height="5.8"/>
<rect x="824.0" y="312.7" width="5.8" height="5.8"/>
<rect x="824.4" y="312.8" width="5.8" height="5.8"/>
<rect x="824.8" y="307.0" width="5.8" height="5.8"/>
<rect x="825.2" y="313.4" width="5.8" height="5.8"/>
<rect x="825.6" y="310.3" width="5.8" height="5.8"/>
<rect x="826.0" y="313.2" width="5.8" height="5.8"/>
<rect x="826.4" y="302.4" width="5.8" height="5.8"/>
<rect x="826.9" y="300.2" width="5.8" height="5.8"/>
<rect x="827.3" y="298.1" width="5.8" height="5.8"/>
<rect x="827.7" y="311.2" width="5.8" height="5.8"/>
<rect x="828.1" y="301.0" width="5.8" height="5.8"/>
<rect x="828.5" y="301.9" width="5.8" height="5.8"/>
<rect x="828.9" y="311.0" width="5.8" height="5.8"/>
<rect x="829.3" y="297.7" width="5.8" height="5.8"/>
<rect x="829.7" y="296.0" width="5.8" height="5.8"/>
<rect x="830.1" y="309.2" width="5.8" height="5.8"/>
<rect x="830.5" y="296.0" width="5.8" height="5.8"/>
<rect x="830.9" y="305.8" width="5.8" height="5.8"/>
<rect x="831.3" y="304.1" width="5.8" height="5.8"/>
<rect x="831.7" y="295.0" width="5.8" height="5.8"/>
<rect x="832.1" y="297.6" width="5.8" height="5.8"/>
<rect x="832.5" y="309.5" width="5.8" height="5.8"/>
<rect x="832.9" y="304.5" width="5.8" height="5.8"/>
<rect x="833.3" y="302.9" width="5.8" height="5.8"/>
<rect x="833.7" y="305.9" width="5.8" height="5.8"/>
<rect x="834.1" y="308.1" width="5.8" height="5.8"/>
<rect x="834.5" y="305.4" width="5.8" height="5.8"/>
<rect x="834.9" y="297.7" width="5.8" height="5.8"/>
<rect x="835.3" y="309.7" width="5.8" height="5.8"/>
<rect x="835.7" y="299.6" width="5.8" height="5.8"/>
<rect x="836.1" y="301.1" width="5.8" height="5.8"/>
<rect x="836.5" y="308.1" width="5.8" height="5.8"/>
<rect x="836.9" y="302.0" width="5.8" height="5.8"/>
<rect x="837.3" y="296.3" width="5.8" height="5.8"/>
<rect x="837.7" y="297.7" width="5.8" height="5.8"/>
<rect x="838.1" y="305.5" width="5.8" height="5.8"/>
<rect x="838.5" y="289.0" width="5.8" height="5.8"/>
<rect x="839.0" y="292.5" width="5.8" height="5.8"/>
<rect x="839.4" y="289.2" width="5.8" height="5.8"/>
<rect x="839.8" y="304.7" width="5.8" height="5.8"/>
<rect x="840.2" y="301.8" width="5.8" height="5.8"/>
<rect x="840.6" y="305.8" width="5.8" height="5.8"/>
<rect x="841.0" y="292.6" width="5.8" height="5.8"/>
<rect x="841.4" y="301.7" width="5.8" height="5.8"/>
<rect x="841.8" y="304.1" width="5.8" height="5.8"/>
<rect x="842.2" y="298.9" width="5.8" height="5.8"/>
<rect x="842.6" y="290.2" width="5.8" height="5.8"/>
<rect x="843.0" y="291.8" width="5.8" height="5.8"/>
<rect x="843.4" y="301.8" width="5.8" height="5.8"/>
<rect x="843.8" y="303.7" width="5.8" height="5.8"/>
<rect x="844.2" y="290.0" width="5.8" height="5.8"/>
<rect x="844.6" y="296.2" width="5.8" height="5.8"/>
<rect x="845.0" y="293.8" width="5.8" height="5.8"/>
<rect x="845.4" y="304.7" width="5.8" height="5.8"/>
<rect x="845.8" y="305.3" width="5.8" height="5.8"/>
<rect x="846.2" y="294.0" width="5.8" height="5.8"/>
<rect x="846.6" y="298.7" width="5.8" height="5.8"/>
<rect x="847.0" y="304.9" width="5.8" height="5.8"/>
<rect x="847.4" y="289.5" width="5.8" height="5.8"/>
<rect x="847.8" y="294.9" width="5.8" height="5.8"/>
<rect x="848.2" y="291.9" width="5.8" height="5.8"/>
<rect x="848.6" y="304.7" width="5.8" height="5.8"/>
<rect x="849.0" y="290.9" width="5.8" height="5.8"/>
<rect x="849.4" y="305.0" width="5.8" height="5.8"/>
<rect x="849.8" y="290.7" width="5.8" height="5.8"/>
<rect x="850.2" y="298.0" width="5.8" height="5.8"/>
<rect x="850.7" y="300.0" width="5.8" height="5.8"/>
<rect x="851.1" y="296.2" width="5.8" height="5.8"/>
<rect x="851.5" y="289.5" width="5.8" height="5.8"/>
<rect x="851.9" y="301.3" width="5.8" height="5.8"/>
<rect x="852.3" y="303.7" width="5.8" height="5.8"/>
<rect x="852.7" y="296.6" width="5.8" height="5.8"/>
<rect x="853.1" y="301.7" width="5.8" height="5.8"/>
<rect x="853.5" y="304.0" width="5.8" height="5.8"/>
<rect x="853.9" y="303.1" width="5.8" height="5.8"/>
<rect x="854.3" y="305.0" width="5.8" height="5.8"/>
<rect x="854.7" y="302.3" width="5.8" height="5.8"/>
<rect x="855.1" y="300.3" width="5.8" height="5.8"/>
<rect x="855.5" y="300.4" width="5.8" height="5.8"/>
<rect x="855.9" y="292.2" width="5.8" height="5.8"/>
<rect x="856.3" y="300.5" width="5.8" height="5.8"/>
<rect x="856.7" y="296.8" width="5.8" height="5.8"/>
<rect x="857.1" y="302.4" width="5.8" height="5.8"/>
<rect x="857.5" y="299.4" width="5.8" height="5.8"/>
<rect x="857.9" y="305.2" width="5.8" height="5.8"/>
<rect x="858.3" y="301.0" width="5.8" height="5.8"/>
<rect x="858.7" y="305.2" width="5.8" height="5.8"/>
<rect x="859.1" y="292.3" width="5.8" height="5.8"/>
<rect x="859.5" y="295.5" width="5.8" height="5.8"/>
<rect x="859.9" y="301.9" width="5.8" height="5.8"/>
<rect x="860.3" y="296.8" width="5.8" height="5.8"/>
<rect x="860.7" y="288.6" width="5.8" height="5.8"/>
<rect x="861.1" y="303.3" width="5.8" height="5.8"/>
<rect x="861.5" y="290.5" width="5.8" height="5.8"/>
<rect x="861.9" y="297.4" width="5.8" height="5.8"/>
<rect x="862.3" y="296.2" width="5.8" height="5.8"/>
<rect x="862.8" y="290.1" width="5.8" height="5.8"/>
<rect x="863.2" y="298.0" width="5.8" height="5.8"/>
<rect x="863.6" y="295.9" width="5.8" height="5.8"/>
<rect x="864.0" y="292.6" width="5.8" height="5.8"/>
<rect x="864.4" y="287.3" width="5.8" height="5.8"/>
<rect x="864.8" y="298.7" width="5.8" height="5.8"/>
<rect x="865.2" y="289.9" width="5.8" height="5.8"/>
<rect x="865.6" y="292.1" width="5.8" height="5.8"/>
<rect x="865.8" y="281.2" width="5.8" height="5.8"/>
<rect x="866.0" y="293.3" width="5.8" height="5.8"/>
<rect x="866.4" y="297.5" width="5.8" height="5.8"/>
<rect x="866.8" y="298.6" width="5.8" height="5.8"/>
<rect x="867.2" y="304.0" width="5.8" height="5.8"/>
<rect x="867.6" y="302.8" width="5.8" height="5.8"/>
<rect x="868.0" y="304.0" width="5.8" height="5.8"/>
<rect x="868.4" y="292.2" width="5.8" height="5.8"/>
<rect x="868.8" y="300.9" width="5.8" height="5.8"/>
<rect x="869.2" y="302.7" width="5.8" height="5.8"/>
<rect x="869.6" y="304.2" width="5.8" height="5.8"/>
<rect x="870.0" y="290.9" width="5.8" height="5.8"/>
<rect x="870.4" y="290.5" width="5.8" height="5.8"/>
<rect x="870.8" y="294.2" width="5.8" height="5.8"/>
<rect x="871.2" y="301.3" width="5.8" height="5.8"/>
<rect x="871.6" y="302.1" width="5.8" height="5.8"/>
<rect x="872.0" y="301.3" width="5.8" height="5.8"/>
<rect x="872.4" y="298.5" width="5.8" height="5.8"/>
<rect x="872.8" y="304.0" width="5.8" height="5.8"/>
<rect x="873.0" y="287.8" width="5.8" height="5.8"/>
<rect x="873.2" y="299.0" width="5.8" height="5.8"/>
<rect x="873.2" y="304.3" width="5.8" height="5.8"/>
<rect x="873.6" y="302.4" width="5.8" height="5.8"/>
<rect x="873.6" y="293.1" width="5.8" height="5.8"/>
<rect x="874.0" y="290.1" width="5.8" height="5.8"/>
</g>
<polyline points="675.4,289.5 676.1,293.4 676.7,290.9 677.3,280.4 677.9,289.7 678.5,283.9 679.1,282.6 679.7,285.3 680.3,288.7 680.9,282.9 681.5,281.4 682.1,277.7 682.7,283.2 683.3,290.2 683.9,291.4 684.5,296.8 685.1,302.2 685.7,297.0 686.3,292.3 686.9,283.2 687.6,283.8 688.2,276.5 688.8,276.5 689.4,284.1 690.0,282.6 690.6,290.6 691.2,288.0 691.8,284.8 692.4,284.2 693.0,285.8 693.6,285.8 694.2,289.4 694.8,277.0 695.4,281.1 696.0,280.4 696.6,290.0 697.2,290.0 697.8,298.3 698.4,291.3 699.0,293.2 699.7,305.9 700.3,301.7 700.9,301.6 701.5,306.8 702.1,303.5 702.7,297.2 703.3,292.0 703.9,292.2 704.5,286.0 705.1,284.3 705.7,282.0 706.3,280.8 706.9,276.9 707.5,277.2 708.1,287.8 708.7,287.8 709.3,292.8 709.9,295.7 710.5,295.1 711.2,297.7 711.8,298.8 712.4,304.5 713.0,301.3 713.6,295.0 714.2,293.8 714.8,292.3 715.4,289.5 716.0,290.3 716.6,283.6 717.2,283.4 717.8,283.5 718.4,284.2 719.0,280.9 719.6,288.7 720.2,280.9 720.8,277.1 721.4,283.3 722.0,277.7 722.6,278.4 723.3,284.6 723.9,281.0 724.5,283.6 725.1,283.0 725.7,284.7 726.3,289.4 726.9,294.6 727.5,294.3 728.1,294.8 728.7,289.6 729.3,288.9 729.9,290.4 730.5,290.4 731.1,284.5 731.7,283.6 732.3,283.9 732.9,279.9 733.5,280.9 734.1,278.3 734.7,276.4 735.4,279.4 736.0,269.1 736.6,278.3 737.2,272.8 737.8,275.9 738.4,271.9 739.0,285.1 739.6,280.2 740.2,277.6 740.8,277.3 741.4,272.0 742.0,280.3 742.6,276.6 743.2,278.3 743.8,277.4 744.4,278.8 745.0,281.0 745.6,278.4 746.2,284.4 746.9,277.2 747.5,286.1 748.1,282.5 748.7,276.7 749.3,286.2 749.9,286.3 750.5,282.3 751.1,286.1 751.7,288.8 752.3,284.6 752.9,283.1 753.5,282.4 754.1,287.4 754.7,277.9 755.3,278.6 755.9,286.2 756.5,287.0 757.1,291.2 757.7,286.1 758.3,294.8 759.0,289.4 759.6,293.3 760.2,293.7 760.8,288.2 761.4,285.7 762.0,290.2 762.6,292.0 763.2,285.8 763.8,288.1 764.4,286.0 765.0,280.8 765.6,281.4 766.2,286.6 766.8,277.9 767.4,287.7 768.0,286.3 768.6,292.9 769.2,292.2 769.8,299.4 770.5,287.5 771.1,290.0 771.7,300.4 772.3,299.3 772.9,297.6 773.5,285.3 774.1,289.1 774.7,286.4 775.3,285.4 775.7,308.2 776.1,260.3 776.7,173.2 777.5,181.8 777.9,137.6 778.3,123.7 778.9,129.7 779.5,136.3 779.9,170.6 780.7,173.2 781.3,190.4 782.4,193.7 783.4,189.1 784.4,195.0 785.4,190.4 786.4,194.3 787.4,198.3 787.8,203.6 788.4,210.2 788.8,214.1 789.2,218.1 790.0,232.0 790.4,244.5 790.8,258.4 791.6,263.0 792.4,268.9 793.2,275.2 794.0,282.8 794.5,285.9 794.9,287.4 795.5,289.9 796.5,296.2 796.5,293.3 797.3,299.3 797.5,300.5 798.1,304.6 798.5,305.4 798.9,298.6 799.5,293.4 799.7,291.4 800.5,286.3 801.3,282.8 801.5,280.8 802.5,278.9 802.9,276.8 803.5,274.5 803.9,268.9 804.5,264.8 805.3,260.3 805.5,260.3 806.2,255.1 806.6,245.6 807.0,244.5 807.6,245.8 808.2,251.1 808.6,252.3 809.4,253.7 809.6,254.3 810.6,249.8 810.6,251.6 811.6,251.3 812.0,248.5 812.6,252.2 813.0,253.1 813.6,255.1 813.6,254.3 814.6,257.8 815.2,261.7 815.6,265.4 816.0,272.2 816.6,268.7 817.6,279.4 818.5,280.1 818.7,280.4 819.7,274.5 820.7,288.3 821.7,286.3 822.5,286.1 822.7,285.0 823.7,281.7 824.7,277.7 824.7,278.8 825.7,274.7 826.5,270.2 826.7,269.6 827.7,272.0 828.7,271.6 829.8,280.2 829.8,275.2 830.8,277.0 831.8,274.2 831.8,274.2 832.8,273.9 833.8,270.9 834.2,266.9 834.8,266.4 835.8,271.6 836.8,270.0 837.8,271.6 837.8,273.5 838.8,284.0 838.8,284.8 839.8,281.8 840.8,281.7 840.8,281.5 841.9,283.2 842.9,277.6 842.9,277.5 843.5,296.0 843.9,295.2 844.9,298.9 845.9,298.9 845.9,298.6 846.9,292.2 847.9,292.1 848.3,288.1 848.9,284.6 849.9,278.4 850.9,281.7 851.5,278.5 851.9,273.2 852.5,266.3 852.9,267.2 854.0,264.1 855.0,268.7 855.0,269.6 856.0,268.3 857.0,273.6 857.4,272.2 858.0,272.8 859.0,273.6 860.0,279.1 861.0,271.5 862.0,273.8 862.0,276.2 863.0,279.8 864.0,272.2 864.6,273.5 865.0,271.7 866.1,264.8 866.3,265.0 867.1,268.2 868.1,278.3 868.7,277.5 869.1,277.8 870.1,272.5 871.1,277.3 871.9,275.2 872.1,277.7 873.1,277.5 874.1,276.1 874.1,272.9 875.1,270.2 875.9,269.6 876.1,265.3 877.1,269.8 877.1,270.9" fill="none" stroke="#3953a4" stroke-width="0.9"/>
<g fill="#3953a4">
<circle cx="675.4" cy="289.5" r="2.95"/>
<circle cx="676.1" cy="293.4" r="2.95"/>
<circle cx="676.7" cy="290.9" r="2.95"/>
<circle cx="677.3" cy="280.4" r="2.95"/>
<circle cx="677.9" cy="289.7" r="2.95"/>
<circle cx="678.5" cy="283.9" r="2.95"/>
<circle cx="679.1" cy="282.6" r="2.95"/>
<circle cx="679.7" cy="285.3" r="2.95"/>
<circle cx="680.3" cy="288.7" r="2.95"/>
<circle cx="680.9" cy="282.9" r="2.95"/>
<circle cx="681.5" cy="281.4" r="2.95"/>
<circle cx="682.1" cy="277.7" r="2.95"/>
<circle cx="682.7" cy="283.2" r="2.95"/>
<circle cx="683.3" cy="290.2" r="2.95"/>
<circle cx="683.9" cy="291.4" r="2.95"/>
<circle cx="684.5" cy="296.8" r="2.95"/>
<circle cx="685.1" cy="302.2" r="2.95"/>
<circle cx="685.7" cy="297.0" r="2.95"/>
<circle cx="686.3" cy="292.3" r="2.95"/>
<circle cx="686.9" cy="283.2" r="2.95"/>
<circle cx="687.6" cy="283.8" r="2.95"/>
<circle cx="688.2" cy="276.5" r="2.95"/>
<circle cx="688.8" cy="276.5" r="2.95"/>
<circle cx="689.4" cy="284.1" r="2.95"/>
<circle cx="690.0" cy="282.6" r="2.95"/>
<circle cx="690.6" cy="290.6" r="2.95"/>
<circle cx="691.2" cy="288.0" r="2.95"/>
<circle cx="691.8" cy="284.8" r="2.95"/>
<circle cx="692.4" cy="284.2" r="2.95"/>
<circle cx="693.0" cy="285.8" r="2.95"/>
<circle cx="693.6" cy="285.8" r="2.95"/>
<circle cx="694.2" cy="289.4" r="2.95"/>
<circle cx="694.8" cy="277.0" r="2.95"/>
<circle cx="695.4" cy="281.1" r="2.95"/>
<circle cx="696.0" cy="280.4" r="2.95"/>
<circle cx="696.6" cy="290.0" r="2.95"/>
<circle cx="697.2" cy="290.0" r="2.95"/>
<circle cx="697.8" cy="298.3" r="2.95"/>
<circle cx="698.4" cy="291.3" r="2.95"/>
<circle cx="699.0" cy="293.2" r="2.95"/>
<circle cx="699.7" cy="305.9" r="2.95"/>
<circle cx="700.3" cy="301.7" r="2.95"/>
<circle cx="700.9" cy="301.6" r="2.95"/>
<circle cx="701.5" cy="306.8" r="2.95"/>
<circle cx="702.1" cy="303.5" r="2.95"/>
<circle cx="702.7" cy="297.2" r="2.95"/>
<circle cx="703.3" cy="292.0" r="2.95"/>
<circle cx="703.9" cy="292.2" r="2.95"/>
<circle cx="704.5" cy="286.0" r="2.95"/>
<circle cx="705.1" cy="284.3" r="2.95"/>
<circle cx="705.7" cy="282.0" r="2.95"/>
<circle cx="706.3" cy="280.8" r="2.95"/>
<circle cx="706.9" cy="276.9" r="2.95"/>
<circle cx="707.5" cy="277.2" r="2.95"/>
<circle cx="708.1" cy="287.8" r="2.95"/>
<circle cx="708.7" cy="287.8" r="2.95"/>
<circle cx="709.3" cy="292.8" r="2.95"/>
<circle cx="709.9" cy="295.7" r="2.95"/>
<circle cx="710.5" cy="295.1" r="2.95"/>
<circle cx="711.2" cy="297.7" r="2.95"/>
<circle cx="711.8" cy="298.8" r="2.95"/>
<circle cx="712.4" cy="304.5" r="2.95"/>
<circle cx="713.0" cy="301.3" r="2.95"/>
<circle cx="713.6" cy="295.0" r="2.95"/>
<circle cx="714.2" cy="293.8" r="2.95"/>
<circle cx="714.8" cy="292.3" r="2.95"/>
<circle cx="715.4" cy="289.5" r="2.95"/>
<circle cx="716.0" cy="290.3" r="2.95"/>
<circle cx="716.6" cy="283.6" r="2.95"/>
<circle cx="717.2" cy="283.4" r="2.95"/>
<circle cx="717.8" cy="283.5" r="2.95"/>
<circle cx="718.4" cy="284.2" r="2.95"/>
<circle cx="719.0" cy="280.9" r="2.95"/>
<circle cx="719.6" cy="288.7" r="2.95"/>
<circle cx="720.2" cy="280.9" r="2.95"/>
<circle cx="720.8" cy="277.1" r="2.95"/>
<circle cx="721.4" cy="283.3" r="2.95"/>
<circle cx="722.0" cy="277.7" r="2.95"/>
<circle cx="722.6" cy="278.4" r="2.95"/>
<circle cx="723.3" cy="284.6" r="2.95"/>
<circle cx="723.9" cy="281.0" r="2.95"/>
<circle cx="724.5" cy="283.6" r="2.95"/>
<circle cx="725.1" cy="283.0" r="2.95"/>
<circle cx="725.7" cy="284.7" r="2.95"/>
<circle cx="726.3" cy="289.4" r="2.95"/>
<circle cx="726.9" cy="294.6" r="2.95"/>
<circle cx="727.5" cy="294.3" r="2.95"/>
<circle cx="728.1" cy="294.8" r="2.95"/>
<circle cx="728.7" cy="289.6" r="2.95"/>
<circle cx="729.3" cy="288.9" r="2.95"/>
<circle cx="729.9" cy="290.4" r="2.95"/>
<circle cx="730.5" cy="290.4" r="2.95"/>
<circle cx="731.1" cy="284.5" r="2.95"/>
<circle cx="731.7" cy="283.6" r="2.95"/>
<circle cx="732.3" cy="283.9" r="2.95"/>
<circle cx="732.9" cy="279.9" r="2.95"/>
<circle cx="733.5" cy="280.9" r="2.95"/>
<circle cx="734.1" cy="278.3" r="2.95"/>
<circle cx="734.7" cy="276.4" r="2.95"/>
<circle cx="735.4" cy="279.4" r="2.95"/>
<circle cx="736.0" cy="269.1" r="2.95"/>
<circle cx="736.6" cy="278.3" r="2.95"/>
<circle cx="737.2" cy="272.8" r="2.95"/>
<circle cx="737.8" cy="275.9" r="2.95"/>
<circle cx="738.4" cy="271.9" r="2.95"/>
<circle cx="739.0" cy="285.1" r="2.95"/>
<circle cx="739.6" cy="280.2" r="2.95"/>
<circle cx="740.2" cy="277.6" r="2.95"/>
<circle cx="740.8" cy="277.3" r="2.95"/>
<circle cx="741.4" cy="272.0" r="2.95"/>
<circle cx="742.0" cy="280.3" r="2.95"/>
<circle cx="742.6" cy="276.6" r="2.95"/>
<circle cx="743.2" cy="278.3" r="2.95"/>
<circle cx="743.8" cy="277.4" r="2.95"/>
<circle cx="744.4" cy="278.8" r="2.95"/>
<circle cx="745.0" cy="281.0" r="2.95"/>
<circle cx="745.6" cy="278.4" r="2.95"/>
<circle cx="746.2" cy="284.4" r="2.95"/>
<circle cx="746.9" cy="277.2" r="2.95"/>
<circle cx="747.5" cy="286.1" r="2.95"/>
<circle cx="748.1" cy="282.5" r="2.95"/>
<circle cx="748.7" cy="276.7" r="2.95"/>
<circle cx="749.3" cy="286.2" r="2.95"/>
<circle cx="749.9" cy="286.3" r="2.95"/>
<circle cx="750.5" cy="282.3" r="2.95"/>
<circle cx="751.1" cy="286.1" r="2.95"/>
<circle cx="751.7" cy="288.8" r="2.95"/>
<circle cx="752.3" cy="284.6" r="2.95"/>
<circle cx="752.9" cy="283.1" r="2.95"/>
<circle cx="753.5" cy="282.4" r="2.95"/>
<circle cx="754.1" cy="287.4" r="2.95"/>
<circle cx="754.7" cy="277.9" r="2.95"/>
<circle cx="755.3" cy="278.6" r="2.95"/>
<circle cx="755.9" cy="286.2" r="2.95"/>
<circle cx="756.5" cy="287.0" r="2.95"/>
<circle cx="757.1" cy="291.2" r="2.95"/>
<circle cx="757.7" cy="286.1" r="2.95"/>
<circle cx="758.3" cy="294.8" r="2.95"/>
<circle cx="759.0" cy="289.4" r="2.95"/>
<circle cx="759.6" cy="293.3" r="2.95"/>
<circle cx="760.2" cy="293.7" r="2.95"/>
<circle cx="760.8" cy="288.2" r="2.95"/>
<circle cx="761.4" cy="285.7" r="2.95"/>
<circle cx="762.0" cy="290.2" r="2.95"/>
<circle cx="762.6" cy="292.0" r="2.95"/>
<circle cx="763.2" cy="285.8" r="2.95"/>
<circle cx="763.8" cy="288.1" r="2.95"/>
<circle cx="764.4" cy="286.0" r="2.95"/>
<circle cx="765.0" cy="280.8" r="2.95"/>
<circle cx="765.6" cy="281.4" r="2.95"/>
<circle cx="766.2" cy="286.6" r="2.95"/>
<circle cx="766.8" cy="277.9" r="2.95"/>
<circle cx="767.4" cy="287.7" r="2.95"/>
<circle cx="768.0" cy="286.3" r="2.95"/>
<circle cx="768.6" cy="292.9" r="2.95"/>
<circle cx="769.2" cy="292.2" r="2.95"/>
<circle cx="769.8" cy="299.4" r="2.95"/>
<circle cx="770.5" cy="287.5" r="2.95"/>
<circle cx="771.1" cy="290.0" r="2.95"/>
<circle cx="771.7" cy="300.4" r="2.95"/>
<circle cx="772.3" cy="299.3" r="2.95"/>
<circle cx="772.9" cy="297.6" r="2.95"/>
<circle cx="773.5" cy="285.3" r="2.95"/>
<circle cx="774.1" cy="289.1" r="2.95"/>
<circle cx="774.7" cy="286.4" r="2.95"/>
<circle cx="775.3" cy="285.4" r="2.95"/>
<circle cx="775.7" cy="308.2" r="2.95"/>
<circle cx="776.1" cy="260.3" r="2.95"/>
<circle cx="776.7" cy="173.2" r="2.95"/>
<circle cx="777.5" cy="181.8" r="2.95"/>
<circle cx="777.9" cy="137.6" r="2.95"/>
<circle cx="778.3" cy="123.7" r="2.95"/>
<circle cx="778.9" cy="129.7" r="2.95"/>
<circle cx="779.5" cy="136.3" r="2.95"/>
<circle cx="779.9" cy="170.6" r="2.95"/>
<circle cx="780.7" cy="173.2" r="2.95"/>
<circle cx="781.3" cy="190.4" r="2.95"/>
<circle cx="782.4" cy="193.7" r="2.95"/>
<circle cx="783.4" cy="189.1" r="2.95"/>
<circle cx="784.4" cy="195.0" r="2.95"/>
<circle cx="785.4" cy="190.4" r="2.95"/>
<circle cx="786.4" cy="194.3" r="2.95"/>
<circle cx="787.4" cy="198.3" r="2.95"/>
<circle cx="787.8" cy="203.6" r="2.95"/>
<circle cx="788.4" cy="210.2" r="2.95"/>
<circle cx="788.8" cy="214.1" r="2.95"/>
<circle cx="789.2" cy="218.1" r="2.95"/>
<circle cx="790.0" cy="232.0" r="2.95"/>
<circle cx="790.4" cy="244.5" r="2.95"/>
<circle cx="790.8" cy="258.4" r="2.95"/>
<circle cx="791.6" cy="263.0" r="2.95"/>
<circle cx="792.4" cy="268.9" r="2.95"/>
<circle cx="793.2" cy="275.2" r="2.95"/>
<circle cx="794.0" cy="282.8" r="2.95"/>
<circle cx="794.5" cy="285.9" r="2.95"/>
<circle cx="794.9" cy="287.4" r="2.95"/>
<circle cx="795.5" cy="289.9" r="2.95"/>
<circle cx="796.5" cy="296.2" r="2.95"/>
<circle cx="796.5" cy="293.3" r="2.95"/>
<circle cx="797.3" cy="299.3" r="2.95"/>
<circle cx="797.5" cy="300.5" r="2.95"/>
<circle cx="798.1" cy="304.6" r="2.95"/>
<circle cx="798.5" cy="305.4" r="2.95"/>
<circle cx="798.9" cy="298.6" r="2.95"/>
<circle cx="799.5" cy="293.4" r="2.95"/>
<circle cx="799.7" cy="291.4" r="2.95"/>
<circle cx="800.5" cy="286.3" r="2.95"/>
<circle cx="801.3" cy="282.8" r="2.95"/>
<circle cx="801.5" cy="280.8" r="2.95"/>
<circle cx="802.5" cy="278.9" r="2.95"/>
<circle cx="802.9" cy="276.8" r="2.95"/>
<circle cx="803.5" cy="274.5" r="2.95"/>
<circle cx="803.9" cy="268.9" r="2.95"/>
<circle cx="804.5" cy="264.8" r="2.95"/>
<circle cx="805.3" cy="260.3" r="2.95"/>
<circle cx="805.5" cy="260.3" r="2.95"/>
<circle cx="806.2" cy="255.1" r="2.95"/>
<circle cx="806.6" cy="245.6" r="2.95"/>
<circle cx="807.0" cy="244.5" r="2.95"/>
<circle cx="807.6" cy="245.8" r="2.95"/>
<circle cx="808.2" cy="251.1" r="2.95"/>
<circle cx="808.6" cy="252.3" r="2.95"/>
<circle cx="809.4" cy="253.7" r="2.95"/>
<circle cx="809.6" cy="254.3" r="2.95"/>
<circle cx="810.6" cy="249.8" r="2.95"/>
<circle cx="810.6" cy="251.6" r="2.95"/>
<circle cx="811.6" cy="251.3" r="2.95"/>
<circle cx="812.0" cy="248.5" r="2.95"/>
<circle cx="812.6" cy="252.2" r="2.95"/>
<circle cx="813.0" cy="253.1" r="2.95"/>
<circle cx="813.6" cy="255.1" r="2.95"/>
<circle cx="813.6" cy="254.3" r="2.95"/>
<circle cx="814.6" cy="257.8" r="2.95"/>
<circle cx="815.2" cy="261.7" r="2.95"/>
<circle cx="815.6" cy="265.4" r="2.95"/>
<circle cx="816.0" cy="272.2" r="2.95"/>
<circle cx="816.6" cy="268.7" r="2.95"/>
<circle cx="817.6" cy="279.4" r="2.95"/>
<circle cx="818.5" cy="280.1" r="2.95"/>
<circle cx="818.7" cy="280.4" r="2.95"/>
<circle cx="819.7" cy="274.5" r="2.95"/>
<circle cx="820.7" cy="288.3" r="2.95"/>
<circle cx="821.7" cy="286.3" r="2.95"/>
<circle cx="822.5" cy="286.1" r="2.95"/>
<circle cx="822.7" cy="285.0" r="2.95"/>
<circle cx="823.7" cy="281.7" r="2.95"/>
<circle cx="824.7" cy="277.7" r="2.95"/>
<circle cx="824.7" cy="278.8" r="2.95"/>
<circle cx="825.7" cy="274.7" r="2.95"/>
<circle cx="826.5" cy="270.2" r="2.95"/>
<circle cx="826.7" cy="269.6" r="2.95"/>
<circle cx="827.7" cy="272.0" r="2.95"/>
<circle cx="828.7" cy="271.6" r="2.95"/>
<circle cx="829.8" cy="280.2" r="2.95"/>
<circle cx="829.8" cy="275.2" r="2.95"/>
<circle cx="830.8" cy="277.0" r="2.95"/>
<circle cx="831.8" cy="274.2" r="2.95"/>
<circle cx="831.8" cy="274.2" r="2.95"/>
<circle cx="832.8" cy="273.9" r="2.95"/>
<circle cx="833.8" cy="270.9" r="2.95"/>
<circle cx="834.2" cy="266.9" r="2.95"/>
<circle cx="834.8" cy="266.4" r="2.95"/>
<circle cx="835.8" cy="271.6" r="2.95"/>
<circle cx="836.8" cy="270.0" r="2.95"/>
<circle cx="837.8" cy="271.6" r="2.95"/>
<circle cx="837.8" cy="273.5" r="2.95"/>
<circle cx="838.8" cy="284.0" r="2.95"/>
<circle cx="838.8" cy="284.8" r="2.95"/>
<circle cx="839.8" cy="281.8" r="2.95"/>
<circle cx="840.8" cy="281.7" r="2.95"/>
<circle cx="840.8" cy="281.5" r="2.95"/>
<circle cx="841.9" cy="283.2" r="2.95"/>
<circle cx="842.9" cy="277.6" r="2.95"/>
<circle cx="842.9" cy="277.5" r="2.95"/>
<circle cx="843.5" cy="296.0" r="2.95"/>
<circle cx="843.9" cy="295.2" r="2.95"/>
<circle cx="844.9" cy="298.9" r="2.95"/>
<circle cx="845.9" cy="298.9" r="2.95"/>
<circle cx="845.9" cy="298.6" r="2.95"/>
<circle cx="846.9" cy="292.2" r="2.95"/>
<circle cx="847.9" cy="292.1" r="2.95"/>
<circle cx="848.3" cy="288.1" r="2.95"/>
<circle cx="848.9" cy="284.6" r="2.95"/>
<circle cx="849.9" cy="278.4" r="2.95"/>
<circle cx="850.9" cy="281.7" r="2.95"/>
<circle cx="851.5" cy="278.5" r="2.95"/>
<circle cx="851.9" cy="273.2" r="2.95"/>
<circle cx="852.5" cy="266.3" r="2.95"/>
<circle cx="852.9" cy="267.2" r="2.95"/>
<circle cx="854.0" cy="264.1" r="2.95"/>
<circle cx="855.0" cy="268.7" r="2.95"/>
<circle cx="855.0" cy="269.6" r="2.95"/>
<circle cx="856.0" cy="268.3" r="2.95"/>
<circle cx="857.0" cy="273.6" r="2.95"/>
<circle cx="857.4" cy="272.2" r="2.95"/>
<circle cx="858.0" cy="272.8" r="2.95"/>
<circle cx="859.0" cy="273.6" r="2.95"/>
<circle cx="860.0" cy="279.1" r="2.95"/>
<circle cx="861.0" cy="271.5" r="2.95"/>
<circle cx="862.0" cy="273.8" r="2.95"/>
<circle cx="862.0" cy="276.2" r="2.95"/>
<circle cx="863.0" cy="279.8" r="2.95"/>
<circle cx="864.0" cy="272.2" r="2.95"/>
<circle cx="864.6" cy="273.5" r="2.95"/>
<circle cx="865.0" cy="271.7" r="2.95"/>
<circle cx="866.1" cy="264.8" r="2.95"/>
<circle cx="866.3" cy="265.0" r="2.95"/>
<circle cx="867.1" cy="268.2" r="2.95"/>
<circle cx="868.1" cy="278.3" r="2.95"/>
<circle cx="868.7" cy="277.5" r="2.95"/>
<circle cx="869.1" cy="277.8" r="2.95"/>
<circle cx="870.1" cy="272.5" r="2.95"/>
<circle cx="871.1" cy="277.3" r="2.95"/>
<circle cx="871.9" cy="275.2" r="2.95"/>
<circle cx="872.1" cy="277.7" r="2.95"/>
<circle cx="873.1" cy="277.5" r="2.95"/>
<circle cx="874.1" cy="276.1" r="2.95"/>
<circle cx="874.1" cy="272.9" r="2.95"/>
<circle cx="875.1" cy="270.2" r="2.95"/>
<circle cx="875.9" cy="269.6" r="2.95"/>
<circle cx="876.1" cy="265.3" r="2.95"/>
<circle cx="877.1" cy="269.8" r="2.95"/>
<circle cx="877.1" cy="270.9" r="2.95"/>
</g>
<rect x="655.3" y="86.1" width="242.0" height="264.0" fill="none" stroke="#111" stroke-width="2.6"/>
<g stroke="#111" stroke-width="1.6">
<line x1="655.3" y1="350.1" x2="655.3" y2="354.3"/>
<line x1="675.4" y1="350.1" x2="675.4" y2="352.7"/>
<line x1="695.6" y1="350.1" x2="695.6" y2="354.3"/>
<line x1="715.8" y1="350.1" x2="715.8" y2="352.7"/>
<line x1="736.0" y1="350.1" x2="736.0" y2="354.3"/>
<line x1="756.1" y1="350.1" x2="756.1" y2="352.7"/>
<line x1="776.3" y1="350.1" x2="776.3" y2="354.3"/>
<line x1="796.5" y1="350.1" x2="796.5" y2="352.7"/>
<line x1="816.6" y1="350.1" x2="816.6" y2="354.3"/>
<line x1="836.8" y1="350.1" x2="836.8" y2="352.7"/>
<line x1="857.0" y1="350.1" x2="857.0" y2="354.3"/>
<line x1="877.1" y1="350.1" x2="877.1" y2="352.7"/>
<line x1="897.3" y1="350.1" x2="897.3" y2="354.3"/>
<line x1="655.3" y1="350.1" x2="651.1" y2="350.1"/>
<line x1="655.3" y1="317.1" x2="652.7" y2="317.1"/>
<line x1="655.3" y1="284.1" x2="651.1" y2="284.1"/>
<line x1="655.3" y1="251.1" x2="652.7" y2="251.1"/>
<line x1="655.3" y1="218.1" x2="651.1" y2="218.1"/>
<line x1="655.3" y1="185.1" x2="652.7" y2="185.1"/>
<line x1="655.3" y1="152.1" x2="651.1" y2="152.1"/>
<line x1="655.3" y1="119.1" x2="652.7" y2="119.1"/>
<line x1="655.3" y1="86.1" x2="651.1" y2="86.1"/>
</g>
<g font-size="14.5" text-anchor="middle">
<text x="653.8" y="369">-6</text>
<text x="694.1" y="369">-4</text>
<text x="734.5" y="369">-2</text>
<text x="776.3" y="369">0</text>
<text x="816.6" y="369">2</text>
<text x="857.0" y="369">4</text>
<text x="897.3" y="369">6</text>
</g>
<g font-size="14.5" text-anchor="end">
<text x="649" y="91.2">0.3</text>
<text x="649" y="157.2">0.2</text>
<text x="649" y="223.2">0.1</text>
<text x="649" y="289.2">0</text>
<text x="649" y="355.2">-0.1</text>
</g>
<text x="776.5" y="394" font-size="19" text-anchor="middle">time (ns)</text>
<text transform="translate(617.5,218) rotate(-90)" font-size="19" text-anchor="middle">SET current (mA)</text>
<g font-size="14.3" style="white-space:pre">
<text x="667" y="104">V<tspan font-size="10.3" dy="3.5">gs</tspan><tspan dy="-3.5">=&#160; 0 V</tspan></text>
<text x="667" y="125">V<tspan font-size="10.3" dy="3.5">ds</tspan><tspan dy="-3.5">= -1 V</tspan></text>
<text x="667" y="146">λ&#160;&#160; = 1064 nm</text>
<text x="667" y="163.5">E<tspan font-size="10.3" dy="3.5">0</tspan><tspan dy="-3.5"> =&#160; 5.2 nJ</tspan></text>
</g>
<rect x="790.4" y="88.7" width="102.5" height="54.5" fill="#fff" stroke="#b9b9b9" stroke-width="0.8"/>
<line x1="791.5" y1="96.8" x2="815" y2="96.8" stroke="#ec1c24" stroke-width="1.7"/><rect x="800.3" y="94" width="5.6" height="5.6" fill="#ec1c24"/>
<line x1="791.5" y1="123.8" x2="815" y2="123.8" stroke="#3953a4" stroke-width="1.7"/><circle cx="803" cy="123.8" r="2.9" fill="#3953a4"/>
<g font-size="10.4">
<text x="818" y="100">Ions=0 cm<tspan font-size="6.5" dy="-4">-2</tspan><tspan dy="4">,</tspan></text>
<text x="818" y="113.5">@ 0 Mrad(Si)</text>
<text x="818" y="127">Ions=10<tspan font-size="6.5" dy="-4">12</tspan><tspan dy="4"> cm</tspan><tspan font-size="6.5" dy="-4">-2</tspan><tspan dy="4">,</tspan></text>
<text x="818" y="140.5">@ 2Mrad (Si)</text>
</g>
</g>
<g id="panelc">
<defs><radialGradient id="sp_yellow" cx="0.36" cy="0.3" r="0.78"><stop offset="0" stop-color="#ffffff"/><stop offset="0.13" stop-color="#fffbb0"/><stop offset="0.5" stop-color="#e6d820"/><stop offset="1" stop-color="#8a7d08"/></radialGradient>
<radialGradient id="sp_orange" cx="0.36" cy="0.3" r="0.78"><stop offset="0" stop-color="#ffffff"/><stop offset="0.13" stop-color="#ffc890"/><stop offset="0.5" stop-color="#e0601a"/><stop offset="1" stop-color="#7a2a05"/></radialGradient>
<radialGradient id="sp_green" cx="0.36" cy="0.3" r="0.78"><stop offset="0" stop-color="#ffffff"/><stop offset="0.13" stop-color="#b8f0b0"/><stop offset="0.5" stop-color="#3cb84a"/><stop offset="1" stop-color="#146a20"/></radialGradient>
<radialGradient id="sp_indigo" cx="0.36" cy="0.3" r="0.78"><stop offset="0" stop-color="#ffffff"/><stop offset="0.13" stop-color="#b0a8f0"/><stop offset="0.5" stop-color="#4a3ab0"/><stop offset="1" stop-color="#1e1460"/></radialGradient>
<radialGradient id="sp_blue" cx="0.36" cy="0.3" r="0.78"><stop offset="0" stop-color="#ffffff"/><stop offset="0.13" stop-color="#a8d8ff"/><stop offset="0.5" stop-color="#2a80d8"/><stop offset="1" stop-color="#0c3a80"/></radialGradient>
<radialGradient id="sp_purple" cx="0.36" cy="0.3" r="0.78"><stop offset="0" stop-color="#ffffff"/><stop offset="0.13" stop-color="#d8b0f0"/><stop offset="0.5" stop-color="#8a3cb8"/><stop offset="1" stop-color="#3e1060"/></radialGradient>
<radialGradient id="sp_pink" cx="0.36" cy="0.3" r="0.78"><stop offset="0" stop-color="#ffffff"/><stop offset="0.13" stop-color="#ffd0d0"/><stop offset="0.5" stop-color="#d85060"/><stop offset="1" stop-color="#802028"/></radialGradient>
<radialGradient id="sp_teal" cx="0.36" cy="0.3" r="0.78"><stop offset="0" stop-color="#ffffff"/><stop offset="0.13" stop-color="#90e0e0"/><stop offset="0.5" stop-color="#1a9098"/><stop offset="1" stop-color="#064850"/></radialGradient>
<radialGradient id="sp_red" cx="0.36" cy="0.3" r="0.78"><stop offset="0" stop-color="#ffffff"/><stop offset="0.13" stop-color="#ff9a90"/><stop offset="0.5" stop-color="#e02a20"/><stop offset="1" stop-color="#801008"/></radialGradient>
</defs>
<line x1="117.3" y1="735.5" x2="232.8" y2="671.4" stroke="#c9c1bd" stroke-width="0.9" />
<line x1="232.8" y1="671.4" x2="421.4" y2="702.2" stroke="#c9c1bd" stroke-width="0.9" />
<line x1="116.2" y1="710.0" x2="232.5" y2="649.8" stroke="#c9c1bd" stroke-width="0.9" />
<line x1="232.5" y1="649.8" x2="422.2" y2="678.7" stroke="#c9c1bd" stroke-width="0.9" />
<line x1="115.0" y1="684.4" x2="232.3" y2="628.2" stroke="#c9c1bd" stroke-width="0.9" />
<line x1="232.3" y1="628.2" x2="423.0" y2="655.3" stroke="#c9c1bd" stroke-width="0.9" />
<line x1="113.8" y1="658.9" x2="232.1" y2="606.6" stroke="#c9c1bd" stroke-width="0.9" />
<line x1="232.1" y1="606.6" x2="423.8" y2="631.8" stroke="#c9c1bd" stroke-width="0.9" />
<line x1="112.7" y1="633.4" x2="231.8" y2="585.0" stroke="#c9c1bd" stroke-width="0.9" />
<line x1="231.8" y1="585.0" x2="424.5" y2="608.3" stroke="#c9c1bd" stroke-width="0.9" />
<line x1="111.5" y1="607.9" x2="231.6" y2="563.4" stroke="#c9c1bd" stroke-width="0.9" />
<line x1="231.6" y1="563.4" x2="425.3" y2="584.8" stroke="#c9c1bd" stroke-width="0.9" />
<line x1="110.3" y1="582.3" x2="231.4" y2="541.8" stroke="#c9c1bd" stroke-width="0.9" />
<line x1="231.4" y1="541.8" x2="426.1" y2="561.4" stroke="#c9c1bd" stroke-width="0.9" />
<line x1="109.2" y1="556.8" x2="231.1" y2="520.2" stroke="#c9c1bd" stroke-width="0.9" />
<line x1="231.1" y1="520.2" x2="426.9" y2="537.9" stroke="#c9c1bd" stroke-width="0.9" />
<line x1="174.3" y1="727.9" x2="167.9" y2="515.4" stroke="#c9c1bd" stroke-width="0.9" />
<line x1="174.3" y1="727.9" x2="375.0" y2="767.6" stroke="#c9c1bd" stroke-width="0.9" />
<line x1="221.6" y1="699.8" x2="218.6" y2="501.9" stroke="#c9c1bd" stroke-width="0.9" />
<line x1="221.6" y1="699.8" x2="411.7" y2="733.9" stroke="#c9c1bd" stroke-width="0.9" />
<line x1="260.6" y1="697.8" x2="259.8" y2="500.9" stroke="#c9c1bd" stroke-width="0.9" />
<line x1="260.6" y1="697.8" x2="149.8" y2="767.8" stroke="#c9c1bd" stroke-width="0.9" />
<line x1="289.3" y1="702.8" x2="289.9" y2="503.3" stroke="#c9c1bd" stroke-width="0.9" />
<line x1="289.3" y1="702.8" x2="182.5" y2="774.9" stroke="#c9c1bd" stroke-width="0.9" />
<line x1="320.2" y1="708.2" x2="322.4" y2="505.9" stroke="#c9c1bd" stroke-width="0.9" />
<line x1="320.2" y1="708.2" x2="217.6" y2="782.6" stroke="#c9c1bd" stroke-width="0.9" />
<line x1="352.3" y1="713.8" x2="356.1" y2="508.6" stroke="#c9c1bd" stroke-width="0.9" />
<line x1="352.3" y1="713.8" x2="254.1" y2="790.5" stroke="#c9c1bd" stroke-width="0.9" />
<line x1="385.9" y1="719.7" x2="391.3" y2="511.5" stroke="#c9c1bd" stroke-width="0.9" />
<line x1="385.9" y1="719.7" x2="292.3" y2="798.8" stroke="#c9c1bd" stroke-width="0.9" />
<line x1="230.9" y1="498.6" x2="233.0" y2="693.0" stroke="#8a8a8a" stroke-width="1.2" />
<line x1="118.5" y1="761.0" x2="233.0" y2="693.0" stroke="#333" stroke-width="0.9" />
<line x1="233.0" y1="693.0" x2="420.6" y2="725.7" stroke="#333" stroke-width="0.9" />
<polyline points="108.0,531.3 230.9,498.6 427.7,514.4 420.6,725.7" fill="none" stroke="#111" stroke-width="2" stroke-linejoin="miter"/>
<polyline points="108.0,531.3 118.5,761.0 331.7,807.4 420.6,725.7" fill="none" stroke="#111" stroke-width="2.8" stroke-linejoin="miter"/>
<line x1="118.5" y1="761.0" x2="113.5" y2="762.2" stroke="#111" stroke-width="1.6" />
<line x1="118.2" y1="753.7" x2="115.6" y2="754.3" stroke="#111" stroke-width="0.9" />
<line x1="118.0" y1="749.4" x2="115.4" y2="750.0" stroke="#111" stroke-width="0.9" />
<line x1="117.8" y1="746.3" x2="115.2" y2="746.9" stroke="#111" stroke-width="0.9" />
<line x1="117.7" y1="743.9" x2="115.1" y2="744.5" stroke="#111" stroke-width="0.9" />
<line x1="117.6" y1="742.0" x2="115.0" y2="742.6" stroke="#111" stroke-width="0.9" />
<line x1="117.6" y1="740.4" x2="115.0" y2="741.0" stroke="#111" stroke-width="0.9" />
<line x1="117.5" y1="738.9" x2="114.9" y2="739.5" stroke="#111" stroke-width="0.9" />
<line x1="117.4" y1="737.7" x2="114.8" y2="738.3" stroke="#111" stroke-width="0.9" />
<line x1="117.4" y1="736.6" x2="112.4" y2="737.8" stroke="#111" stroke-width="1.6" />
<line x1="117.0" y1="729.1" x2="114.4" y2="729.7" stroke="#111" stroke-width="0.9" />
<line x1="116.8" y1="724.8" x2="114.2" y2="725.4" stroke="#111" stroke-width="0.9" />
<line x1="116.7" y1="721.7" x2="114.1" y2="722.3" stroke="#111" stroke-width="0.9" />
<line x1="116.6" y1="719.3" x2="114.0" y2="719.9" stroke="#111" stroke-width="0.9" />
<line x1="116.5" y1="717.3" x2="113.9" y2="717.9" stroke="#111" stroke-width="0.9" />
<line x1="116.4" y1="715.7" x2="113.8" y2="716.3" stroke="#111" stroke-width="0.9" />
<line x1="116.4" y1="714.2" x2="113.8" y2="714.8" stroke="#111" stroke-width="0.9" />
<line x1="116.3" y1="713.0" x2="113.7" y2="713.6" stroke="#111" stroke-width="0.9" />
<line x1="116.3" y1="711.8" x2="111.3" y2="713.0" stroke="#111" stroke-width="1.6" />
<line x1="115.9" y1="704.3" x2="113.3" y2="704.9" stroke="#111" stroke-width="0.9" />
<line x1="115.7" y1="700.0" x2="113.1" y2="700.6" stroke="#111" stroke-width="0.9" />
<line x1="115.6" y1="696.8" x2="113.0" y2="697.4" stroke="#111" stroke-width="0.9" />
<line x1="115.5" y1="694.4" x2="112.9" y2="695.0" stroke="#111" stroke-width="0.9" />
<line x1="115.4" y1="692.4" x2="112.8" y2="693.0" stroke="#111" stroke-width="0.9" />
<line x1="115.3" y1="690.7" x2="112.7" y2="691.3" stroke="#111" stroke-width="0.9" />
<line x1="115.2" y1="689.3" x2="112.6" y2="689.9" stroke="#111" stroke-width="0.9" />
<line x1="115.2" y1="688.0" x2="112.6" y2="688.6" stroke="#111" stroke-width="0.9" />
<line x1="115.1" y1="686.9" x2="110.1" y2="688.1" stroke="#111" stroke-width="1.6" />
<line x1="114.8" y1="679.3" x2="112.2" y2="679.9" stroke="#111" stroke-width="0.9" />
<line x1="114.6" y1="674.8" x2="112.0" y2="675.4" stroke="#111" stroke-width="0.9" />
<line x1="114.4" y1="671.7" x2="111.8" y2="672.3" stroke="#111" stroke-width="0.9" />
<line x1="114.3" y1="669.2" x2="111.7" y2="669.8" stroke="#111" stroke-width="0.9" />
<line x1="114.2" y1="667.2" x2="111.6" y2="667.8" stroke="#111" stroke-width="0.9" />
<line x1="114.1" y1="665.5" x2="111.5" y2="666.1" stroke="#111" stroke-width="0.9" />
<line x1="114.1" y1="664.1" x2="111.5" y2="664.7" stroke="#111" stroke-width="0.9" />
<line x1="114.0" y1="662.8" x2="111.4" y2="663.4" stroke="#111" stroke-width="0.9" />
<line x1="114.0" y1="661.6" x2="109.0" y2="662.8" stroke="#111" stroke-width="1.6" />
<line x1="113.6" y1="653.9" x2="111.0" y2="654.5" stroke="#111" stroke-width="0.9" />
<line x1="113.4" y1="649.5" x2="110.8" y2="650.1" stroke="#111" stroke-width="0.9" />
<line x1="113.3" y1="646.3" x2="110.7" y2="646.9" stroke="#111" stroke-width="0.9" />
<line x1="113.1" y1="643.8" x2="110.5" y2="644.4" stroke="#111" stroke-width="0.9" />
<line x1="113.0" y1="641.8" x2="110.4" y2="642.4" stroke="#111" stroke-width="0.9" />
<line x1="113.0" y1="640.0" x2="110.4" y2="640.6" stroke="#111" stroke-width="0.9" />
<line x1="112.9" y1="638.6" x2="110.3" y2="639.2" stroke="#111" stroke-width="0.9" />
<line x1="112.8" y1="637.2" x2="110.2" y2="637.8" stroke="#111" stroke-width="0.9" />
<line x1="112.8" y1="636.1" x2="107.8" y2="637.3" stroke="#111" stroke-width="1.6" />
<line x1="112.4" y1="628.3" x2="109.8" y2="628.9" stroke="#111" stroke-width="0.9" />
<line x1="112.2" y1="623.8" x2="109.6" y2="624.4" stroke="#111" stroke-width="0.9" />
<line x1="112.1" y1="620.6" x2="109.5" y2="621.2" stroke="#111" stroke-width="0.9" />
<line x1="112.0" y1="618.1" x2="109.4" y2="618.7" stroke="#111" stroke-width="0.9" />
<line x1="111.9" y1="616.0" x2="109.3" y2="616.6" stroke="#111" stroke-width="0.9" />
<line x1="111.8" y1="614.3" x2="109.2" y2="614.9" stroke="#111" stroke-width="0.9" />
<line x1="111.7" y1="612.8" x2="109.1" y2="613.4" stroke="#111" stroke-width="0.9" />
<line x1="111.7" y1="611.5" x2="109.1" y2="612.1" stroke="#111" stroke-width="0.9" />
<line x1="111.6" y1="610.3" x2="106.6" y2="611.5" stroke="#111" stroke-width="1.6" />
<line x1="111.3" y1="602.5" x2="108.7" y2="603.1" stroke="#111" stroke-width="0.9" />
<line x1="111.0" y1="597.9" x2="108.4" y2="598.5" stroke="#111" stroke-width="0.9" />
<line x1="110.9" y1="594.6" x2="108.3" y2="595.2" stroke="#111" stroke-width="0.9" />
<line x1="110.8" y1="592.1" x2="108.2" y2="592.7" stroke="#111" stroke-width="0.9" />
<line x1="110.7" y1="590.0" x2="108.1" y2="590.6" stroke="#111" stroke-width="0.9" />
<line x1="110.6" y1="588.3" x2="108.0" y2="588.9" stroke="#111" stroke-width="0.9" />
<line x1="110.5" y1="586.7" x2="107.9" y2="587.3" stroke="#111" stroke-width="0.9" />
<line x1="110.5" y1="585.4" x2="107.9" y2="586.0" stroke="#111" stroke-width="0.9" />
<line x1="110.4" y1="584.2" x2="105.4" y2="585.4" stroke="#111" stroke-width="1.6" />
<line x1="110.1" y1="576.3" x2="107.5" y2="576.9" stroke="#111" stroke-width="0.9" />
<line x1="109.8" y1="571.7" x2="107.2" y2="572.3" stroke="#111" stroke-width="0.9" />
<line x1="109.7" y1="568.4" x2="107.1" y2="569.0" stroke="#111" stroke-width="0.9" />
<line x1="109.6" y1="565.8" x2="107.0" y2="566.4" stroke="#111" stroke-width="0.9" />
<line x1="109.5" y1="563.7" x2="106.9" y2="564.3" stroke="#111" stroke-width="0.9" />
<line x1="109.4" y1="562.0" x2="106.8" y2="562.6" stroke="#111" stroke-width="0.9" />
<line x1="109.3" y1="560.4" x2="106.7" y2="561.0" stroke="#111" stroke-width="0.9" />
<line x1="109.3" y1="559.1" x2="106.7" y2="559.7" stroke="#111" stroke-width="0.9" />
<line x1="109.2" y1="557.9" x2="104.2" y2="559.1" stroke="#111" stroke-width="1.6" />
<line x1="108.8" y1="549.9" x2="106.2" y2="550.5" stroke="#111" stroke-width="0.9" />
<line x1="108.6" y1="545.2" x2="106.0" y2="545.8" stroke="#111" stroke-width="0.9" />
<line x1="108.5" y1="541.9" x2="105.9" y2="542.5" stroke="#111" stroke-width="0.9" />
<line x1="108.4" y1="539.3" x2="105.8" y2="539.9" stroke="#111" stroke-width="0.9" />
<line x1="108.3" y1="537.2" x2="105.7" y2="537.8" stroke="#111" stroke-width="0.9" />
<line x1="108.2" y1="535.4" x2="105.6" y2="536.0" stroke="#111" stroke-width="0.9" />
<line x1="108.1" y1="533.9" x2="105.5" y2="534.5" stroke="#111" stroke-width="0.9" />
<line x1="108.1" y1="532.5" x2="105.5" y2="533.1" stroke="#111" stroke-width="0.9" />
<line x1="108.0" y1="531.3" x2="103.0" y2="532.5" stroke="#111" stroke-width="1.6" />
<line x1="118.5" y1="761.0" x2="117.0" y2="764.8" stroke="#111" stroke-width="1.5" />
<line x1="134.2" y1="764.4" x2="133.3" y2="766.8" stroke="#111" stroke-width="1.5" />
<line x1="149.8" y1="767.8" x2="148.4" y2="771.6" stroke="#111" stroke-width="1.5" />
<line x1="166.2" y1="771.4" x2="165.2" y2="773.7" stroke="#111" stroke-width="1.5" />
<line x1="182.5" y1="774.9" x2="181.0" y2="778.7" stroke="#111" stroke-width="1.5" />
<line x1="200.0" y1="778.7" x2="199.1" y2="781.1" stroke="#111" stroke-width="1.5" />
<line x1="217.6" y1="782.6" x2="216.2" y2="786.4" stroke="#111" stroke-width="1.5" />
<line x1="235.9" y1="786.5" x2="235.0" y2="788.9" stroke="#111" stroke-width="1.5" />
<line x1="254.1" y1="790.5" x2="252.6" y2="794.3" stroke="#111" stroke-width="1.5" />
<line x1="273.2" y1="794.7" x2="272.3" y2="797.0" stroke="#111" stroke-width="1.5" />
<line x1="292.3" y1="798.8" x2="290.8" y2="802.6" stroke="#111" stroke-width="1.5" />
<line x1="312.0" y1="803.1" x2="311.1" y2="805.4" stroke="#111" stroke-width="1.5" />
<line x1="331.7" y1="807.4" x2="330.2" y2="811.2" stroke="#111" stroke-width="1.5" />
<line x1="331.7" y1="807.4" x2="337.2" y2="809.1" stroke="#111" stroke-width="1.7" />
<line x1="362.7" y1="779.6" x2="365.9" y2="780.6" stroke="#111" stroke-width="1.4" />
<line x1="354.9" y1="786.6" x2="358.1" y2="787.6" stroke="#111" stroke-width="1.4" />
<line x1="349.4" y1="791.6" x2="352.6" y2="792.6" stroke="#111" stroke-width="1.4" />
<line x1="345.1" y1="795.4" x2="348.3" y2="796.4" stroke="#111" stroke-width="1.4" />
<line x1="341.6" y1="798.6" x2="344.8" y2="799.6" stroke="#111" stroke-width="1.4" />
<line x1="338.6" y1="801.2" x2="341.8" y2="802.2" stroke="#111" stroke-width="1.4" />
<line x1="336.0" y1="803.5" x2="339.2" y2="804.5" stroke="#111" stroke-width="1.4" />
<line x1="333.7" y1="805.6" x2="336.9" y2="806.6" stroke="#111" stroke-width="1.4" />
<line x1="376.1" y1="767.6" x2="381.6" y2="769.3" stroke="#111" stroke-width="1.7" />
<line x1="401.0" y1="743.8" x2="404.2" y2="744.8" stroke="#111" stroke-width="1.4" />
<line x1="394.7" y1="749.8" x2="397.9" y2="750.8" stroke="#111" stroke-width="1.4" />
<line x1="390.3" y1="754.0" x2="393.5" y2="755.0" stroke="#111" stroke-width="1.4" />
<line x1="386.8" y1="757.3" x2="390.0" y2="758.3" stroke="#111" stroke-width="1.4" />
<line x1="384.0" y1="760.0" x2="387.2" y2="761.0" stroke="#111" stroke-width="1.4" />
<line x1="381.6" y1="762.3" x2="384.8" y2="763.3" stroke="#111" stroke-width="1.4" />
<line x1="379.5" y1="764.3" x2="382.7" y2="765.3" stroke="#111" stroke-width="1.4" />
<line x1="377.7" y1="766.0" x2="380.9" y2="767.0" stroke="#111" stroke-width="1.4" />
<line x1="411.7" y1="733.5" x2="417.2" y2="735.2" stroke="#111" stroke-width="1.7" />
<line x1="419.6" y1="725.9" x2="422.8" y2="726.9" stroke="#111" stroke-width="1.4" />
<line x1="417.2" y1="728.2" x2="420.4" y2="729.2" stroke="#111" stroke-width="1.4" />
<line x1="415.1" y1="730.2" x2="418.3" y2="731.2" stroke="#111" stroke-width="1.4" />
<line x1="413.3" y1="731.9" x2="416.5" y2="732.9" stroke="#111" stroke-width="1.4" />
<line x1="205.5" y1="598.6" x2="377.0" y2="620.5" stroke="#222" stroke-width="1.6" stroke-dasharray="9.5,6"/>
<line x1="382.0" y1="630.0" x2="379.8" y2="735.0" stroke="#222" stroke-width="1.7" stroke-dasharray="10,5.6"/>
<line x1="388.5" y1="616.5" x2="394.0" y2="613.3" stroke="#222" stroke-width="1.7" />
<ellipse cx="205.2" cy="598.6" rx="2.4" ry="4.6" fill="#e0261e"/>
<ellipse cx="378.2" cy="740.2" rx="5.4" ry="1.9" fill="#e8221c"/>
<circle cx="403.4" cy="608.1" r="5" fill="#e0261e"/>
<line x1="400.5" y1="610.5" x2="404.5" y2="606.5" stroke="#222" stroke-width="1.4" />
<circle cx="164.2" cy="733.1" r="7.0" fill="url(#sp_yellow)"/>
<circle cx="205.1" cy="709.2" r="7.0" fill="url(#sp_orange)"/>
<circle cx="220.1" cy="699.9" r="6.8" fill="url(#sp_green)"/>
<circle cx="233.4" cy="693.2" r="6.8" fill="url(#sp_indigo)"/>
<circle cx="251.5" cy="696.0" r="6.5" fill="url(#sp_blue)"/>
<circle cx="352.8" cy="713.9" r="7.0" fill="url(#sp_purple)"/>
<circle cx="231.6" cy="543.8" r="7.0" fill="url(#sp_pink)"/>
<circle cx="231.6" cy="565.4" r="7.0" fill="url(#sp_teal)"/>
<circle cx="382.0" cy="621.1" r="7.8" fill="url(#sp_red)"/>
<g font-size="13.9" fill="#1c1c1c" stroke="#1c1c1c" stroke-width="0.2">
<text x="261.3" y="525.3">MoS<tspan font-size="8.5" dy="3.5">2</tspan></text>
<text x="241.6" y="547.8">30 KeV He<tspan font-size="8.5" dy="-5">+</tspan></text>
<text x="342.3" y="582.1" text-anchor="middle">This work</text>
<text x="296.6" y="601.9">2225 MeV Xe<tspan font-size="8.5" dy="-5">+</tspan></text>
<text x="176.4" y="562.4" text-anchor="middle">Metal oxide</text>
<text x="176.2" y="579.4" text-anchor="middle">5 MeV Proton</text>
<text x="188.3" y="681.2" text-anchor="middle">CNT</text>
<text x="190.7" y="699.3" text-anchor="middle">SRAM</text>
<text x="239.6" y="678.1" text-anchor="middle">FinFET</text>
<text x="263.6" y="695.5">InGaAs</text>
<text x="149.5" y="708.3" text-anchor="middle">ion gel</text>
<text x="150.8" y="725.5" text-anchor="middle">CNT FET</text>
<text x="243.8" y="719.9" text-anchor="middle">PD SOI</text>
<text x="351.7" y="697.8" text-anchor="middle">BP FET</text>
</g>
<g font-size="14" fill="#222">
<text transform="translate(114.2,769.6) rotate(-18) skewX(-12) scale(0.7,1)" font-size="17" text-anchor="end" stroke="#222" stroke-width="0.25">10<tspan font-size="10.5" dy="-7">7</tspan></text>
<text transform="translate(113.1,745.2) rotate(-18) skewX(-12) scale(0.7,1)" font-size="17" text-anchor="end" stroke="#222" stroke-width="0.25">10<tspan font-size="10.5" dy="-7">8</tspan></text>
<text transform="translate(112.0,720.4) rotate(-18) skewX(-12) scale(0.7,1)" font-size="17" text-anchor="end" stroke="#222" stroke-width="0.25">10<tspan font-size="10.5" dy="-7">9</tspan></text>
<text transform="translate(110.8,695.5) rotate(-18) skewX(-12) scale(0.7,1)" font-size="17" text-anchor="end" stroke="#222" stroke-width="0.25">10<tspan font-size="10.5" dy="-7">10</tspan></text>
<text transform="translate(109.7,670.2) rotate(-18) skewX(-12) scale(0.7,1)" font-size="17" text-anchor="end" stroke="#222" stroke-width="0.25">10<tspan font-size="10.5" dy="-7">11</tspan></text>
<text transform="translate(108.5,644.7) rotate(-18) skewX(-12) scale(0.7,1)" font-size="17" text-anchor="end" stroke="#222" stroke-width="0.25">10<tspan font-size="10.5" dy="-7">12</tspan></text>
<text transform="translate(107.3,618.9) rotate(-18) skewX(-12) scale(0.7,1)" font-size="17" text-anchor="end" stroke="#222" stroke-width="0.25">10<tspan font-size="10.5" dy="-7">13</tspan></text>
<text transform="translate(106.1,592.8) rotate(-18) skewX(-12) scale(0.7,1)" font-size="17" text-anchor="end" stroke="#222" stroke-width="0.25">10<tspan font-size="10.5" dy="-7">14</tspan></text>
<text transform="translate(104.9,566.5) rotate(-18) skewX(-12) scale(0.7,1)" font-size="17" text-anchor="end" stroke="#222" stroke-width="0.25">10<tspan font-size="10.5" dy="-7">15</tspan></text>
<text transform="translate(103.7,539.9) rotate(-18) skewX(-12) scale(0.7,1)" font-size="17" text-anchor="end" stroke="#222" stroke-width="0.25">10<tspan font-size="10.5" dy="-7">16</tspan></text>
</g>
<text transform="translate(80,666.5) rotate(-92.6) scale(1.4,1)" font-size="17" text-anchor="middle" fill="#1a1a1a" stroke="#1a1a1a" stroke-width="0.3">Ions/cm<tspan font-size="12" dy="-6.5">2</tspan></text>
<g font-size="10.5" fill="#222" stroke="#222" stroke-width="0.2">
<text transform="translate(147.1,771.8) rotate(-72) scale(1,1.45) skewX(-10)" text-anchor="middle" dy="3.5">1</text>
<text transform="translate(179.6,780.0) rotate(-72) scale(1,1.45) skewX(-10)" text-anchor="middle" dy="3.5">2</text>
<text transform="translate(212.5,787.8) rotate(-72) scale(1,1.45) skewX(-10)" text-anchor="middle" dy="3.5">3</text>
<text transform="translate(250.7,796.5) rotate(-72) scale(1,1.45) skewX(-10)" text-anchor="middle" dy="3.5">4</text>
<text transform="translate(288.3,804.0) rotate(-72) scale(1,1.45) skewX(-10)" text-anchor="middle" dy="3.5">5</text>
<text transform="translate(324.8,812.5) rotate(-72) scale(1,1.45) skewX(-10)" text-anchor="middle" dy="3.5">6</text>
</g>
<text transform="matrix(1.41,0.292,-0.55,0.84,125.9,789.9)" font-size="15.5" fill="#222" stroke="#222" stroke-width="0.25">SET energy (nJ)</text>
<g font-size="10" fill="#222" stroke="#222" stroke-width="0.2">
<text transform="matrix(1.62,0.29,-0.55,0.95,343.4,812.5)">100</text>
<text transform="matrix(1.5,0.27,-0.55,0.95,384.5,772.5)">10</text>
<text transform="matrix(1.5,0.27,-0.55,0.95,418.5,737)">1</text>
</g>
<text transform="translate(403.2,803.5) rotate(-41.2) scale(0.66,1)" font-size="18" fill="#222" stroke="#222" stroke-width="0.35">TID (Mrad (Si))</text>
</g>
<g id="paneld">
<polygon points="723.9,556.7 825.1,618.4 836.1,740.8 723.9,804.4 618.6,736.8 618.4,615.9" fill="#fdd3c3" stroke="#f5a48c" stroke-width="1.6" stroke-linejoin="round"/>
<polygon points="723.9,640.5 755.2,658.4 755.2,694.4 723.9,712.3 692.6,694.4 692.6,658.4" fill="none" stroke="#2a2626" stroke-width="1.5"/>
<polygon points="723.9,604.6 786.5,640.5 786.5,712.3 723.9,748.2 661.3,712.3 661.3,640.5" fill="none" stroke="#2a2626" stroke-width="1.5"/>
<polygon points="723.9,568.7 817.8,622.5 817.8,730.2 723.9,784.1 630.0,730.2 630.0,622.5" fill="none" stroke="#2a2626" stroke-width="1.5"/>
<line x1="723.9" y1="676.4" x2="723.9" y2="532.8" stroke="#2a2626" stroke-width="1.5"/>
<line x1="723.9" y1="676.4" x2="849.1" y2="604.6" stroke="#2a2626" stroke-width="1.5"/>
<line x1="723.9" y1="676.4" x2="849.1" y2="748.2" stroke="#2a2626" stroke-width="1.5"/>
<line x1="723.9" y1="676.4" x2="723.9" y2="820.0" stroke="#2a2626" stroke-width="1.5"/>
<line x1="723.9" y1="676.4" x2="598.7" y2="748.2" stroke="#2a2626" stroke-width="1.5"/>
<line x1="723.9" y1="676.4" x2="598.7" y2="604.6" stroke="#2a2626" stroke-width="1.5"/>
<polygon points="723.9,532.8 849.1,604.6 849.1,748.2 723.9,820.0 598.7,748.2 598.7,604.6" fill="none" stroke="#111" stroke-width="2"/>
<text x="704.0" y="536.5" font-size="11.5" text-anchor="start">10<tspan font-size="7.8" dy="-4.6">4</tspan></text>
<text x="704.0" y="573.0" font-size="11.5" text-anchor="start">10<tspan font-size="7.8" dy="-4.6">3</tspan></text>
<text x="704.0" y="608.5" font-size="11.5" text-anchor="start">10<tspan font-size="7.8" dy="-4.6">2</tspan></text>
<text x="704.0" y="645.0" font-size="11.5" text-anchor="start">10<tspan font-size="7.8" dy="-4.6">1</tspan></text>
<g font-size="11.5">
<text x="829" y="600.3">600</text>
<text x="786.5" y="623">400</text>
<text x="745" y="650.5">200</text>
<text x="750.5" y="685.6">500</text>
<text x="775.8" y="700.2">1000</text>
<text x="801.3" y="714.5">1500</text>
<text x="826" y="729.3">2000</text>
<text x="851" y="743.2">2500</text>
</g>
<text x="727.8" y="708.8" font-size="11.5" text-anchor="start">10<tspan font-size="7.8" dy="-4.6">10</tspan></text>
<text x="727.8" y="738.6" font-size="11.5" text-anchor="start">10<tspan font-size="7.8" dy="-4.6">11</tspan></text>
<text x="727.8" y="768.0" font-size="11.5" text-anchor="start">10<tspan font-size="7.8" dy="-4.6">12</tspan></text>
<text x="727.8" y="797.0" font-size="11.5" text-anchor="start">10<tspan font-size="7.8" dy="-4.6">13</tspan></text>
<text x="727.8" y="825.5" font-size="11.5" text-anchor="start">10<tspan font-size="7.8" dy="-4.6">14</tspan></text>
<text x="696.5" y="707.3" font-size="11.5" text-anchor="start">10<tspan font-size="7.8" dy="-4.6">-2</tspan></text>
<text x="667.5" y="724.0" font-size="11.5" text-anchor="start">10<tspan font-size="7.8" dy="-4.6">-1</tspan></text>
<text x="639.0" y="741.0" font-size="11.5" text-anchor="start">10<tspan font-size="7.8" dy="-4.6">0</tspan></text>
<text x="611.0" y="757.5" font-size="11.5" text-anchor="start">10<tspan font-size="7.8" dy="-4.6">1</tspan></text>
<text x="579.5" y="620.0" font-size="11.5" text-anchor="start">10<tspan font-size="7.8" dy="-4.6">5</tspan></text>
<text x="601.0" y="632.0" font-size="11.5" text-anchor="start">10<tspan font-size="7.8" dy="-4.6">4</tspan></text>
<text x="622.5" y="644.0" font-size="11.5" text-anchor="start">10<tspan font-size="7.8" dy="-4.6">3</tspan></text>
<text x="643.3" y="654.7" font-size="11.5" text-anchor="start">10<tspan font-size="7.8" dy="-4.6">2</tspan></text>
<text x="664.0" y="666.5" font-size="11.5" text-anchor="start">10<tspan font-size="7.8" dy="-4.6">1</tspan></text>
<text x="685.3" y="678.6" font-size="11.5" text-anchor="start">10<tspan font-size="7.8" dy="-4.6">0</tspan></text>
<polygon points="723.9,604.4 765.8,652.4 735.5,683.0 723.9,727.4 665.1,710.1 660.5,640.0" fill="#5b3f9a" fill-opacity="0.5" stroke="#4a479d" stroke-width="1.6" stroke-linejoin="round"/>
<g font-size="14.45">
<text x="724" y="514.3" text-anchor="middle">TID (krad)</text>
<text x="855" y="593">Dose rate (rad(Si)/s)</text>
<text x="832.5" y="776.5">Ion strike energy (MeV)</text>
<text x="501.5" y="777.4">Laser energy (nJ)</text>
<text x="493.5" y="588.5">LET (MeV·cm<tspan font-size="9" dy="-5">2</tspan><tspan dy="5">/mg)</tspan></text>
<text x="688.5" y="842.8">D<tspan font-size="9" dy="3">d</tspan><tspan dy="-3"> (MeV/g)</tspan></text>
</g>
<g font-size="14.45" class="bl">
<text x="788" y="553" fill="#3b55a6">TID: 0.18 μm SRAM IMEC</text>
<text x="769" y="815" fill="#3b55a6">DD:&#160; 0.18 μm Bulk Si MOSFET</text>
<text x="492.5" y="670" fill="#3b55a6">SEE:&#160;&#160;&#160;0.18 μm</text>
<text x="498" y="687.6" fill="#3b55a6">SOI MOSFET</text>
</g>
<rect x="781.1" y="480.2" width="195" height="34.1" fill="#fff" stroke="#a9a9a9" stroke-width="0.9"/>
<rect x="783.8" y="482.6" width="29.5" height="14.3" fill="#8f8fcb" stroke="#6f74bf" stroke-width="1.2"/>
<rect x="783.8" y="498.2" width="29.5" height="14.3" fill="#fdd3c3" stroke="#f9b8a3" stroke-width="1.2"/>
<g font-size="12.95">
<text x="816.5" y="494">0.18 μm rad-hard Si FET</text>
<text x="816.5" y="510">0.18 μm rad-hard CNT FET</text>
</g>
</g>

<g font-size="34.5" fill="#1a1a1a">
<text x="47.3" y="50.3">(a)</text>
<text x="555.3" y="48.3">(b)</text>
<text x="47.6" y="478.3">(c)</text>
<text x="558.3" y="478.3">(d)</text>
</g>
</svg>
</body></html>
